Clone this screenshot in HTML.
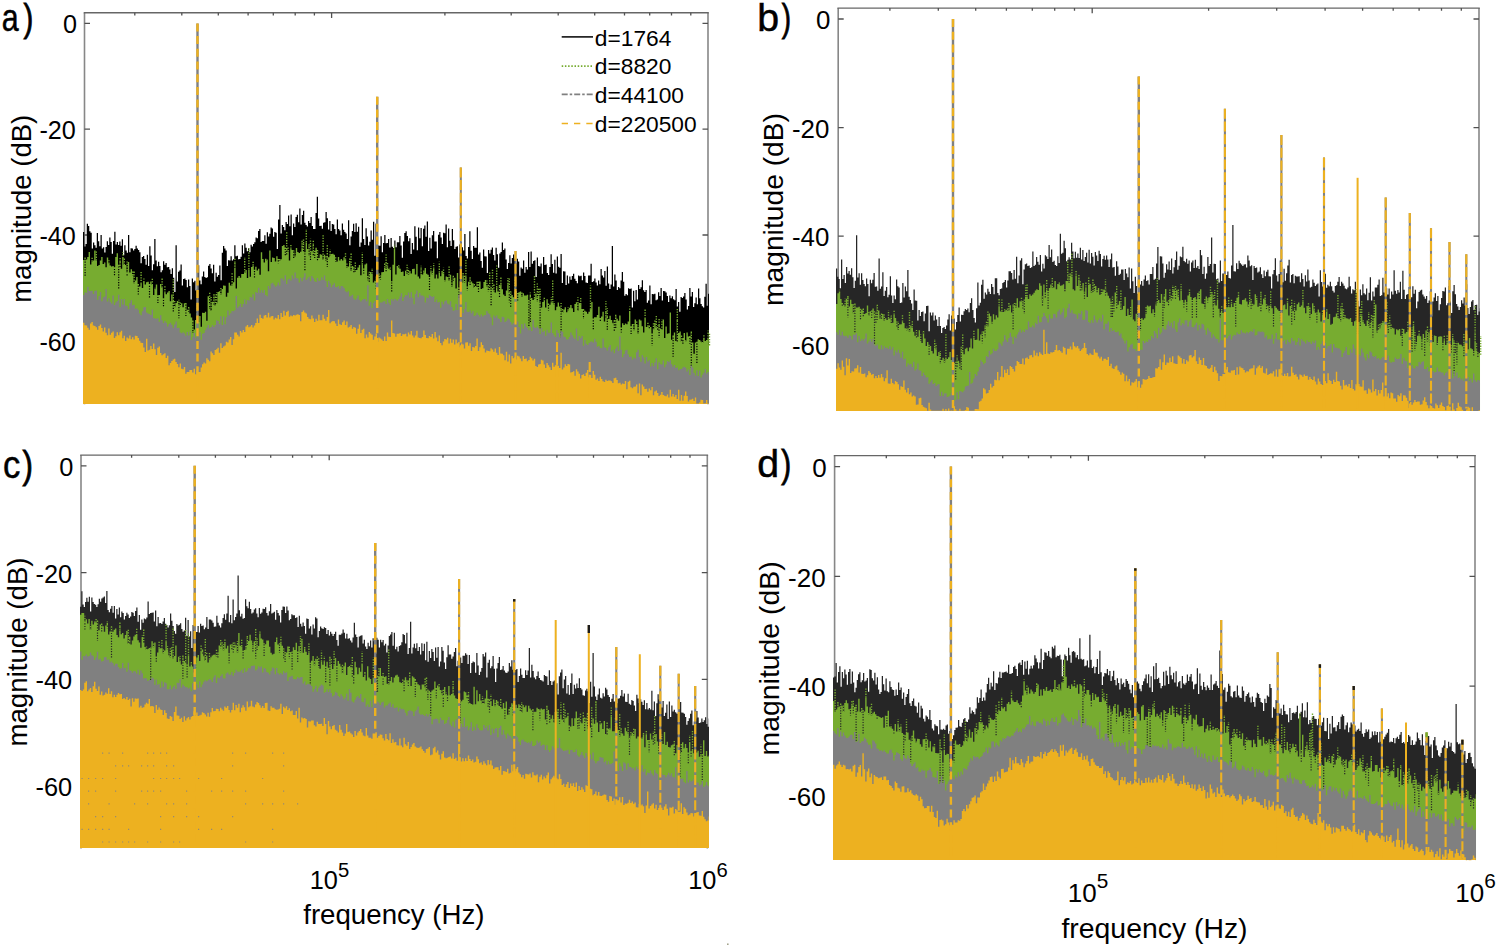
<!DOCTYPE html><html><head><meta charset="utf-8"><style>html,body{margin:0;padding:0;background:#fff;}body{width:1497px;height:948px;overflow:hidden;}svg{display:block;}text{font-family:"Liberation Sans",sans-serif;fill:#000;}</style></head><body>
<svg width="1497" height="948" viewBox="0 0 1497 948">
<rect width="1497" height="948" fill="#fff"/>
<path d="M84.5 404.3V12.8M708.0 12.8V404.3" fill="none" stroke="#878787" stroke-width="1.6"/><path d="M83.7 12.8H708.8" fill="none" stroke="#666" stroke-width="1.4"/><path d="M84.5 23.4h5.5M708.0 23.4h-5.5M84.5 129.2h5.5M708.0 129.2h-5.5M84.5 235.0h5.5M708.0 235.0h-5.5M84.5 340.8h5.5M708.0 340.8h-5.5M134.8 12.8v2.6M181.8 12.8v2.6M218.3 12.8v2.6M248.1 12.8v2.6M273.3 12.8v2.6M295.2 12.8v2.6M314.4 12.8v2.6M331.6 12.8v5.2M444.9 12.8v2.6M511.2 12.8v2.6M558.2 12.8v2.6M594.7 12.8v2.6M624.5 12.8v2.6M649.7 12.8v2.6M671.5 12.8v2.6M690.8 12.8v2.6" fill="none" stroke="#505050" stroke-width="1.3"/>
<path d="M838.2 410.6V8.1M1479.0 8.1V410.6" fill="none" stroke="#878787" stroke-width="1.6"/><path d="M837.4 8.1H1479.8" fill="none" stroke="#666" stroke-width="1.4"/><path d="M838.2 19.0h5.5M1479.0 19.0h-5.5M838.2 127.6h5.5M1479.0 127.6h-5.5M838.2 236.2h5.5M1479.0 236.2h-5.5M838.2 344.8h5.5M1479.0 344.8h-5.5M889.9 8.1v2.6M938.3 8.1v2.6M975.7 8.1v2.6M1006.4 8.1v2.6M1032.3 8.1v2.6M1054.7 8.1v2.6M1074.5 8.1v2.6M1092.2 8.1v5.2M1208.6 8.1v2.6M1276.7 8.1v2.6M1325.1 8.1v2.6M1362.6 8.1v2.6M1393.2 8.1v2.6M1419.1 8.1v2.6M1441.5 8.1v2.6M1461.3 8.1v2.6" fill="none" stroke="#505050" stroke-width="1.3"/>
<path d="M81.0 848.4V455.1M707.3 455.1V848.4" fill="none" stroke="#878787" stroke-width="1.6"/><path d="M80.2 455.1H708.1" fill="none" stroke="#666" stroke-width="1.4"/><path d="M81.0 465.8h5.5M707.3 465.8h-5.5M81.0 572.6h5.5M707.3 572.6h-5.5M81.0 679.4h5.5M707.3 679.4h-5.5M81.0 786.2h5.5M707.3 786.2h-5.5M131.6 455.1v2.6M178.8 455.1v2.6M215.4 455.1v2.6M245.4 455.1v2.6M270.7 455.1v2.6M292.6 455.1v2.6M311.9 455.1v2.6M329.2 455.1v5.2M443.0 455.1v2.6M509.6 455.1v2.6M556.9 455.1v2.6M593.5 455.1v2.6M623.4 455.1v2.6M648.7 455.1v2.6M670.7 455.1v2.6M690.0 455.1v2.6" fill="none" stroke="#505050" stroke-width="1.3"/>
<path d="M834.6 860.0V455.6M1475.0 455.6V860.0" fill="none" stroke="#878787" stroke-width="1.6"/><path d="M833.8 455.6H1475.8" fill="none" stroke="#666" stroke-width="1.4"/><path d="M834.6 466.6h5.5M1475.0 466.6h-5.5M834.6 576.4h5.5M1475.0 576.4h-5.5M834.6 686.2h5.5M1475.0 686.2h-5.5M834.6 796.0h5.5M1475.0 796.0h-5.5M886.3 455.6v2.6M934.6 455.6v2.6M972.1 455.6v2.6M1002.7 455.6v2.6M1028.5 455.6v2.6M1051.0 455.6v2.6M1070.7 455.6v2.6M1088.4 455.6v5.2M1204.8 455.6v2.6M1272.9 455.6v2.6M1321.2 455.6v2.6M1358.6 455.6v2.6M1389.2 455.6v2.6M1415.1 455.6v2.6M1437.5 455.6v2.6M1457.3 455.6v2.6" fill="none" stroke="#505050" stroke-width="1.3"/>
<path d="M83.0 404.0V231.9h1.25v14.6h1.25v-2.6h1.25v-20.1h1.25v2.2h1.25v5.3h1.25v1.5h1.25v15.8h1.25v-6.0h1.25v2.7h1.25v2.5h1.25v-14.9h1.25v8.3h1.25v5.1h1.25v-11.3h1.25v13.6h1.25v-1.3h1.25v5.3h1.25v-5.7h1.25v-5.6h1.25v3.7h1.25v-7.5h1.25v4.4h1.25v11.8h1.25v-12.7h1.25v-9.2h1.25v12.6h1.25v-2.5h1.25v3.2h1.25v-3.5h1.25v4.2h1.25v-6.5h1.25v16.0h1.25v-10.0h1.25v5.2h1.25v2.2h1.25v-17.7h1.25v17.3h1.25v-4.0h1.25v0.1h1.25v2.1h1.25v-1.5h1.25v-3.3h1.25v2.9h1.25v1.4h1.25v2.2h1.25v11.1h1.25v-6.4h1.25v-1.0h1.25v3.2h1.25v5.7h1.25v-10.0h1.25v11.2h1.25v-19.7h1.25v9.2h1.25v14.8h1.25v-6.1h1.25v-25.3h1.25v21.6h1.25v5.8h1.25v-4.6h1.25v4.2h1.25v6.4h1.25v-2.0h1.25v-9.1h1.25v3.6h1.25v-1.8h1.25v4.2h1.25v-0.3h1.25v2.6h1.25v4.5h1.25v-5.7h1.25v9.4h1.25v14.3h1.25v-46.7h1.25v36.1h1.25v-9.6h1.25v-1.3h1.25v-5.9h1.25v20.9h1.25v-6.5h1.25v-0.6h1.25v1.7h1.25v7.2h1.25v-7.7h1.25v6.3h1.25v13.6h1.25v-20.9h1.25v3.7h1.25v-1.5h1.25v9.7h1.25v-1.6h1.25v-23.6h1.25v15.2h1.25v3.7h1.25v-7.7h1.25v-5.1h1.25v5.7h1.25v0.8h1.25v-0.6h1.25v-11.5h1.25v-1.8h1.25v4.5h1.25v4.7h1.25v-8.4h1.25v16.6h1.25v-8.6h1.25v3.9h1.25v-1.8h1.25v-9.5h1.25v14.9h1.25v-27.5h1.25v-6.9h1.25v2.6h1.25v2.0h1.25v15.5h1.25v-5.7h1.25v0.1h1.25v-4.1h1.25v4.3h1.25v-1.4h1.25v-13.9h1.25v11.0h1.25v-0.6h1.25v3.5h1.25v-0.2h1.25v-2.3h1.25v-11.4h1.25v8.2h1.25v-10.0h1.25v4.2h1.25v3.5h1.25v-2.9h1.25v3.9h1.25v-7.4h1.25v1.6h1.25v-2.5h1.25v-1.6h1.25v-4.9h1.25v0.9h1.25v-7.4h1.25v-1.9h1.25v13.1h1.25v-1.2h1.25v0.1h1.25v-5.7h1.25v8.5h1.25v-11.6h1.25v4.4h1.25v-2.9h1.25v-6.1h1.25v0.9h1.25v8.2h1.25v-4.8h1.25v0.9h1.25v16.3h1.25v-29.6h1.25v-14.4h1.25v28.4h1.25v-8.5h1.25v2.0h1.25v3.2h1.25v-8.1h1.25v1.9h1.25v-8.5h1.25v10.7h1.25v-11.7h1.25v20.7h1.25v-11.6h1.25v3.3h1.25v-10.0h1.25v-2.1h1.25v7.5h1.25v-13.9h1.25v16.2h1.25v-9.5h1.25v-4.3h1.25v11.9h1.25v2.4h1.25v1.5h1.25v-5.5h1.25v2.0h1.25v-6.1h1.25v9.1h1.25v2.9h1.25v0h1.25v-16.1h1.25v-16.1h1.25v21.7h1.25v7.5h1.25v-0.2h1.25v3.0h1.25v-6.1h1.25v-0.4h1.25v-10.2h1.25v6.2h1.25v11.1h1.25v-8.4h1.25v10.0h1.25v-7.1h1.25v0.7h1.25v4.5h1.25v5.1h1.25v-14.7h1.25v9.6h1.25v1.5h1.25v4.6h1.25v-11.7h1.25v6.2h1.25v2.3h1.25v1.4h1.25v5.7h1.25v-18.9h1.25v25.1h1.25v-8.8h1.25v-5.4h1.25v-7.4h1.25v8.3h1.25v-8.8h1.25v8.5h1.25v-4.9h1.25v19.9h1.25v-4.1h1.25v-24.4h1.25v20.7h1.25v6.2h1.25v-16.9h1.25v8.4h1.25v9.0h1.25v-3.8h1.25v-11.4h1.25v9.3h1.25v-18.0h1.25v34.1h1.25v-32.3h1.25v6.9h1.25v15.0h1.25v0.4h1.25v-9.5h1.25v15.9h1.25v-9.2h1.25v-8.0h1.25v8.3h1.25v-0.3h1.25v-4.0h1.25v8.5h1.25v-9.6h1.25v8.8h1.25v1.2h1.25v-7.3h1.25v6.6h1.25v-4.9h1.25v-0.1h1.25v-6.2h1.25v9.5h1.25v12.2h1.25v-16.1h1.25v-8.5h1.25v-1.9h1.25v4.9h1.25v5.2h1.25v-3.0h1.25v15.8h1.25v-11.1h1.25v6.6h1.25v-23.3h1.25v10.5h1.25v13.4h1.25v-22.6h1.25v10.7h1.25v-10.3h1.25v18.3h1.25v-17.6h1.25v-3.3h1.25v11.3h1.25v-15.1h1.25v29.5h1.25v-13.3h1.25v10.6h1.25v-13.1h1.25v-4.3h1.25v10.4h1.25v0.2h1.25v16.7h1.25v-23.5h1.25v-2.7h1.25v5.5h1.25v6.4h1.25v-11.3h1.25v0.6h1.25v-8.9h1.25v22.8h1.25v-18.8h1.25v12.3h1.25v5.2h1.25v-16.9h1.25v11.2h1.25v8.8h1.25v-2.2h1.25v-0.6h1.25v11.2h1.25v-12.9h1.25v-2.5h1.25v5.2h1.25v3.4h1.25v-16.7h1.25v22.1h1.25v2.5h1.25v-11.4h1.25v-15.9h1.25v19.6h1.25v8.3h1.25v-13.1h1.25v1.8h1.25v0h1.25v-20.6h1.25v27.3h1.25v-2.0h1.25v8.6h1.25v6.6h1.25v-18.2h1.25v6.8h1.25v0.2h1.25v16.6h1.25v-23.1h1.25v3.4h1.25v-3.7h1.25v-2.3h1.25v7.5h1.25v5.7h1.25v-12.8h1.25v6.4h1.25v13.5h1.25v-14.1h1.25v-1.6h1.25v-9.6h1.25v7.5h1.25v-1.4h1.25v11.0h1.25v9.5h1.25v-6.1h1.25v-7.7h1.25v8.3h1.25v-5.5h1.25v-3.5h1.25v4.2h1.25v4.9h1.25v-4.8h1.25v2.6h1.25v14.3h1.25v-8.2h1.25v1.3h1.25v-8.2h1.25v12.2h1.25v-5.7h1.25v2.5h1.25v-17.5h1.25v14.8h1.25v-15.3h1.25v12.2h1.25v-2.7h1.25v-0.8h1.25v16.7h1.25v-19.4h1.25v8.5h1.25v0.3h1.25v-3.0h1.25v10.4h1.25v-16.8h1.25v8.1h1.25v-0.7h1.25v8.7h1.25v1.8h1.25v-7.8h1.25v-12.8h1.25v9.8h1.25v8.6h1.25v-12.9h1.25v13.6h1.25v-16.9h1.25v10.3h1.25v1.0h1.25v-13.9h1.25v29.2h1.25v-11.9h1.25v0.2h1.25v13.7h1.25v-9.7h1.25v8.0h1.25v-6.9h1.25v3.2h1.25v-3.7h1.25v-2.3h1.25v5.0h1.25v2.2h1.25v2.4h1.25v-7.7h1.25v0.6h1.25v-0.4h1.25v4.5h1.25v-7.7h1.25v3.4h1.25v6.5h1.25v0.5h1.25v-7.4h1.25v-0.2h1.25v-11.7h1.25v18.3h1.25v-0.7h1.25v-2.7h1.25v3.8h1.25v3.0h1.25v-5.0h1.25v3.8h1.25v-15.2h1.25v6.4h1.25v2.2h1.25v-6.7h1.25v14.9h1.25v-19.3h1.25v17.0h1.25v5.4h1.25v-4.3h1.25v-38.7h1.25v40.7h1.25v-12.1h1.25v6.0h1.25v9.4h1.25v-2.9h1.25v1.3h1.25v-7.7h1.25v-8.6h1.25v9.7h1.25v14.1h1.25v-1.8h1.25v1.2h1.25v-7.0h1.25v0.7h1.25v-0.4h1.25v18.9h1.25v-16.6h1.25v10.4h1.25v-11.3h1.25v9.7h1.25v-14.5h1.25v3.8h1.25v-1.6h1.25v-7.1h1.25v10.1h1.25v1.7h1.25v-2.1h1.25v12.8h1.25v-2.3h1.25v-15.0h1.25v18.9h1.25v-10.3h1.25v0.3h1.25v-0.6h1.25v6.5h1.25v-0.8h1.25v-7.2h1.25v3.7h1.25v-8.0h1.25v12.7h1.25v-9.5h1.25v0.1h1.25v1.3h1.25v3.5h1.25v5.9h1.25v-6.3h1.25v2.6h1.25v-1.9h1.25v3.0h1.25v1.0h1.25v-11.2h1.25v17.4h1.25v-4.6h1.25v9.9h1.25v-14.9h1.25v1.0h1.25v-1.5h1.25v-3.4h1.25v6.5h1.25v10.0h1.25v-3.6h1.25v-17.9h1.25v8.6h1.25v-4.7h1.25v15.1h1.25v-3.7h1.25v-5.7h1.25v6.7h1.25v-15.9h1.25v9.9h1.25v5.8h1.25v2.2h1.25v1.3h1.25v-10.9h1.25v-12.9h1.25v21.9h1.25v-11.9h1V404.0Z" fill="#000000"/>
<path d="M83.0 404.0V260.0h1.4v-2.5h1.4v2.0h1.4v-2.6h1.4v-4.8h1.4v12.3h1.4v-2.8h1.4v-1.2h1.4v-10.0h1.4v10.1h1.4v5.4h1.4v-1.0h1.4v-4.3h1.4v-3.7h1.4v7.2h1.4v-0.5h1.4v3.6h1.4v-9.8h1.4v6.2h1.4v1.9h1.4v0.9h1.4v-0.4h1.4v1.2h1.4v-10.1h1.4v-3.9h1.4v11.5h1.4v-3.1h1.4v7.2h1.4v-10.8h1.4v7.0h1.4v-0.1h1.4v7.7h1.4v-10.7h1.4v10.7h1.4v-3.3h1.4v5.9h1.4v8.0h1.4v-2.8h1.4v-3.5h1.4v7.1h1.4v2.4h1.4v-2.8h1.4v4.3h1.4v-5.8h1.4v2.4h1.4v-2.2h1.4v-0.5h1.4v2.3h1.4v-2.5h1.4v3.5h1.4v10.0h1.4v-5.3h1.4v-5.4h1.4v10.9h1.4v-0.4h1.4v-10.9h1.4v3.7h1.4v10.6h1.4v-5.5h1.4v1.4h1.4v-1.8h1.4v-1.3h1.4v10.2h1.4v-6.9h1.4v6.5h1.4v6.4h1.4v-4.3h1.4v-2.0h1.4v4.5h1.4v0.8h1.4v-3.1h1.4v4.0h1.4v-4.0h1.4v-0.2h1.4v6.8h1.4v-2.9h1.4v6.5h1.4v4.0h1.4v3.2h1.4v8.8h1.4v-9.3h1.4v-6.0h1.4v7.8h1.4v-4.8h1.4v9.7h1.4v-14.0h1.4v0.3h1.4v-1.4h1.4v9.0h1.4v-24.5h1.4v8.3h1.4v6.5h1.4v-9.3h1.4v-7.5h1.4v11.5h1.4v-2.4h1.4v-11.2h1.4v-0.9h1.4v3.3h1.4v-5.4h1.4v-3.6h1.4v0.2h1.4v11.0h1.4v-4.0h1.4v-9.9h1.4v2.6h1.4v-0.1h1.4v-3.0h1.4v-19.4h1.4v25.7h1.4v-10.9h1.4v-1.7h1.4v1.8h1.4v-3.7h1.4v-0.1h1.4v-0.9h1.4v-3.2h1.4v8.1h1.4v-8.6h1.4v7.3h1.4v-9.8h1.4v-1.1h1.4v3.9h1.4v-3.0h1.4v3.7h1.4v-1.6h1.4v5.9h1.4v-22.5h1.4v6.9h1.4v3.4h1.4v-3.7h1.4v2.2h1.4v10.2h1.4v-20.6h1.4v11.4h1.4v-4.4h1.4v0.3h1.4v3.7h1.4v-5.4h1.4v2.8h1.4v1.4h1.4v-1.1h1.4v-13.3h1.4v-0.9h1.4v2.4h1.4v1.8h1.4v2.1h1.4v9.0h1.4v-11.5h1.4v1.1h1.4v0.2h1.4v6.6h1.4v-8.8h1.4v3.9h1.4v1.2h1.4v-1.3h1.4v-11.0h1.4v2.9h1.4v8.5h1.4v-9.8h1.4v6.7h1.4v-4.9h1.4v8.2h1.4v-1.5h1.4v-5.9h1.4v5.7h1.4v-3.0h1.4v2.4h1.4v7.8h1.4v-3.7h1.4v0.6h1.4v5.3h1.4v-5.3h1.4v5.6h1.4v-3.2h1.4v0.1h1.4v-2.0h1.4v-1.3h1.4v-0.2h1.4v1.0h1.4v6.6h1.4v0.1h1.4v-4.5h1.4v3.5h1.4v-1.5h1.4v1.6h1.4v-3.4h1.4v2.8h1.4v7.6h1.4v-1.2h1.4v-3.8h1.4v8.2h1.4v-4.7h1.4v1.2h1.4v4.6h1.4v-1.8h1.4v-2.6h1.4v-2.4h1.4v10.2h1.4v-14.3h1.4v7.6h1.4v-4.1h1.4v-1.0h1.4v12.6h1.4v-4.3h1.4v0.1h1.4v2.0h1.4v8.7h1.4v-1.9h1.4v-4.2h1.4v-3.2h1.4v0.1h1.4v2.1h1.4v-3.3h1.4v-0.3h1.4v-4.0h1.4v-1.5h1.4v0.8h1.4v1.6h1.4v-1.3h1.4v13.8h1.4v-16.5h1.4v-16.6h1.4v26.2h1.4v-8.5h1.4v-0.7h1.4v3.6h1.4v3.1h1.4v-0.4h1.4v4.6h1.4v-5.3h1.4v3.2h1.4v0.5h1.4v-3.4h1.4v2.5h1.4v-4.5h1.4v-0.4h1.4v5.7h1.4v-10.4h1.4v12.5h1.4v2.0h1.4v-9.3h1.4v5.2h1.4v-2.1h1.4v-4.3h1.4v5.8h1.4v1.0h1.4v2.3h1.4v-5.1h1.4v2.3h1.4v-5.3h1.4v9.5h1.4v-4.1h1.4v4.2h1.4v-5.9h1.4v3.6h1.4v-3.8h1.4v1.0h1.4v7.8h1.4v-4.9h1.4v0.7h1.4v3.7h1.4v-6.0h1.4v11.6h1.4v-10.6h1.4v1.9h1.4v10.7h1.4v-15.4h1.4v14.4h1.4v-5.2h1.4v0.9h1.4v-10.2h1.4v9.6h1.4v-5.5h1.4v9.5h1.4v-4.7h1.4v-4.6h1.4v4.3h1.4v1.7h1.4v4.9h1.4v-2.1h1.4v-4.2h1.4v-0.1h1.4v-0.3h1.4v7.7h1.4v-0.9h1.4v-6.2h1.4v-1.9h1.4v6.5h1.4v-1.9h1.4v4.7h1.4v-2.4h1.4v2.2h1.4v2.0h1.4v1.2h1.4v-4.9h1.4v4.0h1.4v-5.0h1.4v-2.3h1.4v5.1h1.4v5.2h1.4v1.4h1.4v-5.5h1.4v-6.2h1.4v8.7h1.4v-1.7h1.4v3.8h1.4v2.3h1.4v-5.6h1.4v-0.6h1.4v1.8h1.4v-0.7h1.4v-0.8h1.4v5.3h1.4v-3.4h1.4v2.2h1.4v0.1h1.4v-0.8h1.4v5.2h1.4v-3.9h1.4v1.9h1.4v2.0h1.4v-1.6h1.4v-4.9h1.4v4.3h1.4v-2.3h1.4v7.4h1.4v4.5h1.4v-5.5h1.4v-4.1h1.4v9.8h1.4v-8.3h1.4v4.3h1.4v1.1h1.4v-1.8h1.4v-0.2h1.4v1.8h1.4v5.7h1.4v-3.4h1.4v-4.3h1.4v3.9h1.4v3.0h1.4v3.6h1.4v-3.6h1.4v-2.2h1.4v5.0h1.4v-1.7h1.4v-2.7h1.4v-2.9h1.4v3.3h1.4v3.7h1.4v-7.8h1.4v-1.8h1.4v8.7h1.4v-7.9h1.4v1.2h1.4v4.6h1.4v0.2h1.4v1.7h1.4v0.9h1.4v2.0h1.4v-2.0h1.4v-2.4h1.4v-7.4h1.4v16.7h1.4v-1.3h1.4v-0.1h1.4v-2.1h1.4v-8.4h1.4v11.4h1.4v-1.7h1.4v-4.6h1.4v9.8h1.4v-9.4h1.4v4.3h1.4v2.4h1.4v-3.2h1.4v4.3h1.4v3.8h1.4v-3.8h1.4v-5.3h1.4v4.0h1.4v2.1h1.4v-5.4h1.4v12.0h1.4v-4.1h1.4v1.8h1.4v-1.5h1.4v0.7h1.4v-2.7h1.4v-9.5h1.4v14.1h1.4v-2.3h1.4v6.3h1.4v-10.6h1.4v5.5h1.4v8.3h1.4v-13.8h1.4v0.8h1.4v5.9h1.4v6.2h1.4v-14.0h1.4v8.4h1.4v-0.5h1.4v-1.0h1.4v1.7h1.4v6.3h1.4v-3.9h1.4v-5.3h1.4v3.2h1.4v3.3h1.4v-5.5h1.4v3.3h1.4v1.6h1.4v-10.6h1.4v18.5h1.4v-11.4h1.4v7.2h1.4v-0.5h1.4v-20.9h1.4v27.3h1.4v-4.1h1.4v-3.1h1.4v8.5h1.4v-20.8h1.4v12.9h1.4v-1.5h1.4v10.1h1.4v-3.6h1.4v-5.1h1.4v8.2h1.4v-7.8h1.4v3.1h1.4v-0.4h1.4v-4.5h1.4v10.8h1.4v11.4h1.4v-11.3h1.4v-0.8h1.4v-2.5h1.4v0.9h1.4v1.5h1.4v1.5h1.4v-4.4h1.4v2.3h1.4v-0.9h1.4v-1.4h1.4v6.2h0.2V404.0Z" fill="#77AC30"/>
<path d="M92.1 261.6v-3.9M96.3 260.5v-10.2M104.7 263.7v-2.5M108.9 263.8v-3.6M120.1 261.8v-4.0M122.9 258.2v-6.0M124.3 265.1v-7.6M127.1 272.8v-11.4M132.7 275.3v-3.9M134.1 283.3v-12.4M141.1 283.7v-12.1M143.9 282.2v-3.6M152.3 285.2v-7.7M155.1 289.9v-3.0M162.1 287.7v-10.2M164.9 292.8v-7.8M173.3 301.0v-21.7M174.7 307.4v-6.8M178.9 305.6v-5.8M180.3 306.3v-4.7M197.1 314.2v-9.1M199.9 317.2v-2.4M209.7 304.5v-12.3M211.1 311.0v-14.1M215.3 305.7v-11.2M216.7 303.2v-10.9M220.9 294.4v-7.7M232.1 285.0v-12.0M234.9 262.7v-4.4M244.7 272.8v-15.7M248.9 269.3v-21.4M253.1 265.6v-4.4M267.1 260.9v-2.0M279.7 260.2v-2.1M286.7 249.2v-17.9M288.1 251.3v-4.8M290.9 248.8v-5.4M295.1 256.7v-3.1M303.5 243.4v-4.9M306.3 242.2v-13.1M310.5 252.1v-13.3M313.3 244.7v-4.6M323.1 259.9v-24.6M325.9 260.1v-4.4M327.3 257.0v-12.4M330.1 255.0v-5.4M335.7 261.0v-3.7M345.5 259.7v-7.0M346.9 267.3v-4.6M349.7 262.3v-4.3M351.1 270.5v-17.9M355.3 271.6v-9.0M362.3 260.6v-8.2M372.1 273.5v-5.4M377.7 272.9v-3.0M384.7 267.5v-5.0M386.1 266.0v-11.4M387.5 266.8v-5.1M394.5 247.8v-3.1M407.1 273.5v-8.7M408.5 274.0v-5.5M421.1 268.8v-3.0M423.9 271.9v-2.2M430.9 271.8v-5.9M432.3 274.0v-2.9M433.7 268.8v-5.7M439.3 272.5v-10.7M442.1 272.4v-2.3M443.5 273.3v-5.5M444.9 281.2v-2.1M449.1 280.7v-14.3M451.9 286.3v-5.8M460.3 282.1v-2.6M461.7 283.0v-2.5M464.5 282.3v-7.8M465.9 276.8v-16.8M474.3 288.0v-4.3M486.9 286.6v-6.0M489.7 289.3v-17.0M492.5 289.2v-19.5M493.9 291.1v-6.9M496.7 287.4v-21.8M499.5 286.4v-2.6M500.9 284.1v-7.2M507.9 284.0v-6.0M509.3 292.7v-15.2M514.9 291.5v-12.4M521.9 296.5v-4.4M530.3 295.9v-3.3M534.5 298.2v-22.6M537.3 297.6v-14.2M538.7 295.3v-7.7M540.1 302.7v-14.0M551.3 302.8v-5.7M552.7 302.6v-23.0M554.1 304.4v-2.9M561.1 309.3v-6.3M562.5 313.0v-5.1M568.1 310.6v-3.0M577.9 311.1v-13.8M580.7 304.4v-7.8M590.5 309.5v-24.0M605.9 312.4v-11.1M607.3 316.7v-8.5M612.9 324.0v-2.4M629.7 312.3v-5.9M633.9 330.4v-6.3M636.7 325.3v-4.1M638.1 333.6v-8.1M645.1 318.7v-10.4M647.9 326.6v-4.7M653.5 329.7v-6.6M654.9 324.4v-4.7M656.3 327.6v-11.6M657.7 331.0v-5.7M659.1 325.4v-7.9M661.9 330.3v-10.5M677.3 320.6v-12.6M681.5 342.1v-7.1M685.7 341.5v-2.2M687.1 333.7v-2.5M702.5 343.4v-3.0M703.9 339.1v-5.2M708.1 339.1v-8.7M709.5 345.4v-13.0" stroke="#77AC30" stroke-width="1.4" stroke-dasharray="1.3 1.3" fill="none"/>
<path d="M85.1 259.0v18.1M114.5 268.9v6.6M118.7 266.4v22.2M120.1 263.3v4.1M127.1 274.3v2.8M138.3 285.6v9.8M149.5 285.8v11.8M157.9 296.9v6.1M163.5 299.9v7.9M173.3 302.5v9.7M178.9 307.1v11.2M185.9 304.6v11.3M188.7 308.5v3.2M192.9 322.2v10.7M197.1 315.7v3.1M209.7 306.0v3.1M213.9 295.6v9.5M234.9 264.2v5.0M254.5 271.0v7.0M278.3 260.3v3.0M285.3 248.9v6.9M286.7 250.7v3.9M293.7 251.6v7.7M302.1 242.0v6.2M303.5 244.9v6.3M304.9 253.4v17.9M309.1 245.4v10.6M310.5 253.6v6.9M313.3 246.2v9.4M314.7 251.9v6.1M317.5 251.3v10.5M327.3 258.5v8.4M353.9 268.5v4.6M362.3 262.1v2.8M363.7 269.8v4.6M367.9 277.2v3.0M369.3 272.8v9.6M376.3 277.5v11.9M379.1 274.5v5.1M380.5 276.6v3.2M386.1 267.5v3.9M390.3 268.6v2.6M391.7 282.4v9.5M398.7 266.2v2.3M421.1 270.3v4.8M429.5 278.3v11.6M453.3 277.2v3.5M458.9 288.8v8.9M460.3 283.6v7.2M463.1 274.2v2.4M467.3 287.8v2.9M470.1 278.6v8.0M477.1 283.1v4.7M478.5 283.1v9.4M488.3 286.2v5.5M491.1 288.5v18.3M499.5 287.9v9.6M509.3 294.2v8.0M510.7 292.5v14.6M517.7 294.2v6.6M528.9 301.4v26.1M530.3 297.4v25.6M537.3 299.1v2.8M540.1 304.2v24.0M544.3 299.1v2.4M548.5 305.0v5.8M561.1 310.8v34.1M583.5 310.8v8.0M593.3 320.3v10.3M600.3 319.8v2.5M605.9 313.9v3.5M607.3 318.2v11.8M614.3 321.7v9.1M615.7 316.4v12.2M621.3 329.1v3.5M631.1 327.9v6.2M649.3 327.1v2.4M652.1 335.1v10.7M659.1 326.9v10.6M673.1 337.5v19.3M677.3 322.1v20.6M682.9 340.0v4.4M689.9 338.0v6.1M691.3 333.5v34.6M696.9 343.5v20.4" stroke="#000000" stroke-width="1.2" stroke-dasharray="1.2 1.4" fill="none"/>
<path d="M83.0 404.0V295.1h1.4v-2.7h1.4v0.3h1.4v-5.9h1.4v4.1h1.4v0.2h1.4v-0.3h1.4v3.3h1.4v-3.2h1.4v-0.4h1.4v9.2h1.4v-3.8h1.4v-3.9h1.4v9.3h1.4v-4.0h1.4v-0.7h1.4v-7.5h1.4v12.3h1.4v-3.2h1.4v3.5h1.4v1.9h1.4v-8.0h1.4v9.4h1.4v-2.4h1.4v-1.5h1.4v-6.3h1.4v12.5h1.4v-8.2h1.4v5.4h1.4v-5.5h1.4v6.6h1.4v0.5h1.4v3.2h1.4v-6.2h1.4v-2.9h1.4v5.0h1.4v-0.5h1.4v4.1h1.4v-0.6h1.4v1.6h1.4v3.6h1.4v1.8h1.4v-4.0h1.4v-4.0h1.4v-0.2h1.4v5.5h1.4v1.0h1.4v0.5h1.4v1.0h1.4v-5.4h1.4v8.4h1.4v0.6h1.4v0.2h1.4v-0.6h1.4v3.6h1.4v-6.6h1.4v5.1h1.4v2.7h1.4v-2.1h1.4v1.8h1.4v3.8h1.4v-2.5h1.4v-1.2h1.4v1.9h1.4v3.1h1.4v-3.2h1.4v-3.2h1.4v6.5h1.4v-0.2h1.4v4.9h1.4v0.7h1.4v-1.1h1.4v1.2h1.4v2.3h1.4v-3.6h1.4v3.4h1.4v-4.0h1.4v8.6h1.4v-3.0h1.4v-4.2h1.4v4.8h1.4v4.2h1.4v-2.7h1.4v-7.1h1.4v7.7h1.4v-6.0h1.4v-0.7h1.4v-2.9h1.4v-2.4h1.4v-2.9h1.4v3.6h1.4v-1.5h1.4v-1.7h1.4v1.8h1.4v-2.2h1.4v-4.7h1.4v0.7h1.4v3.2h1.4v-7.9h1.4v8.7h1.4v-8.4h1.4v7.7h1.4v-6.9h1.4v-6.7h1.4v4.7h1.4v-2.0h1.4v-2.4h1.4v0.3h1.4v-1.0h1.4v-14.2h1.4v11.7h1.4v-1.5h1.4v-2.4h1.4v3.2h1.4v-3.0h1.4v-4.4h1.4v4.7h1.4v-4.2h1.4v0.5h1.4v-3.6h1.4v0.6h1.4v-3.3h1.4v6.1h1.4v-8.3h1.4v0.9h1.4v-5.2h1.4v4.9h1.4v-2.5h1.4v2.5h1.4v-2.7h1.4v5.0h1.4v1.2h1.4v-10.3h1.4v2.8h1.4v-5.2h1.4v-0.7h1.4v1.9h1.4v2.0h1.4v-1.3h1.4v-3.0h1.4v3.0h1.4v-7.0h1.4v0.1h1.4v1.9h1.4v-5.1h1.4v8.6h1.4v-4.4h1.4v-0.8h1.4v1.9h1.4v-5.2h1.4v3.2h1.4v-6.1h1.4v5.5h1.4v0.6h1.4v3.9h1.4v-4.7h1.4v3.5h1.4v-3.9h1.4v-4.2h1.4v6.9h1.4v-1.7h1.4v-1.6h1.4v4.4h1.4v-5.3h1.4v2.1h1.4v3.3h1.4v0.6h1.4v-4.0h1.4v2.9h1.4v-0.4h1.4v-2.9h1.4v2.5h1.4v-4.6h1.4v5.6h1.4v6.0h1.4v-5.9h1.4v2.5h1.4v3.6h1.4v-2.2h1.4v-1.7h1.4v3.7h1.4v0.2h1.4v-1.2h1.4v2.7h1.4v-2.7h1.4v0.2h1.4v1.8h1.4v3.2h1.4v1.1h1.4v-1.1h1.4v5.3h1.4v-0.8h1.4v-0.9h1.4v3.6h1.4v1.6h1.4v-1.6h1.4v-2.9h1.4v4.5h1.4v1.5h1.4v-1.5h1.4v-0.9h1.4v-0.1h1.4v2.3h1.4v-16.1h1.4v20.6h1.4v-3.8h1.4v5.9h1.4v-4.9h1.4v-2.0h1.4v5.0h1.4v-1.6h1.4v2.1h1.4v-3.9h1.4v-0.2h1.4v-0.8h1.4v-0.3h1.4v2.8h1.4v-5.0h1.4v3.7h1.4v2.2h1.4v-6.0h1.4v1.7h1.4v-1.9h1.4v0.8h1.4v1.2h1.4v-1.7h1.4v-2.7h1.4v-3.1h1.4v7.6h1.4v-3.9h1.4v-2.0h1.4v0.5h1.4v-3.0h1.4v5.3h1.4v-5.5h1.4v5.4h1.4v6.6h1.4v-10.2h1.4v-3.5h1.4v6.6h1.4v-4.2h1.4v2.6h1.4v-0.1h1.4v0.9h1.4v6.2h1.4v-5.0h1.4v0.3h1.4v-3.1h1.4v1.3h1.4v0.8h1.4v-0.7h1.4v5.8h1.4v-2.4h1.4v2.8h1.4v-0.5h1.4v5.8h1.4v-6.0h1.4v2.5h1.4v-2.9h1.4v-1.1h1.4v3.3h1.4v1.1h1.4v-3.4h1.4v5.9h1.4v3.6h1.4v-0.4h1.4v-6.3h1.4v6.0h1.4v-15.3h1.4v9.2h1.4v1.6h1.4v7.5h1.4v-4.0h1.4v-7.0h1.4v9.7h1.4v0.3h1.4v-1.4h1.4v2.6h1.4v-2.0h1.4v4.9h1.4v-0.9h1.4v-2.4h1.4v2.1h1.4v1.9h1.4v-2.4h1.4v2.2h1.4v-1.4h1.4v-0.2h1.4v-4.0h1.4v2.2h1.4v1.0h1.4v3.4h1.4v7.6h1.4v-9.6h1.4v1.8h1.4v-2.0h1.4v2.9h1.4v0.8h1.4v3.0h1.4v-5.4h1.4v0.5h1.4v4.8h1.4v-1.2h1.4v-2.3h1.4v0.9h1.4v2.7h1.4v2.5h1.4v-1.5h1.4v-1.5h1.4v3.3h1.4v-3.4h1.4v5.5h1.4v6.4h1.4v-9.5h1.4v4.9h1.4v-5.4h1.4v3.2h1.4v1.5h1.4v2.1h1.4v-3.1h1.4v4.0h1.4v-11.3h1.4v7.4h1.4v0.8h1.4v-1.6h1.4v1.8h1.4v5.8h1.4v-6.1h1.4v4.2h1.4v-1.3h1.4v4.9h1.4v-6.0h1.4v3.0h1.4v0h1.4v-10.3h1.4v10.6h1.4v2.2h1.4v1.8h1.4v-6.9h1.4v2.8h1.4v4.4h1.4v-6.3h1.4v1.0h1.4v4.6h1.4v0.6h1.4v2.2h1.4v-0.2h1.4v-2.2h1.4v-4.5h1.4v2.8h1.4v2.2h1.4v1.4h1.4v-10.3h1.4v12.2h1.4v-4.9h1.4v2.2h1.4v-2.1h1.4v9.7h1.4v-5.7h1.4v3.7h1.4v1.3h1.4v-2.1h1.4v-1.1h1.4v-0.4h1.4v1.1h1.4v-3.7h1.4v3.0h1.4v5.0h1.4v-0.9h1.4v2.0h1.4v0.4h1.4v-9.7h1.4v8.7h1.4v0.7h1.4v2.5h1.4v-3.2h1.4v-2.3h1.4v6.6h1.4v-1.8h1.4v3.4h1.4v-4.4h1.4v-2.4h1.4v4.5h1.4v-14.5h1.4v13.3h1.4v7.5h1.4v-3.1h1.4v-3.6h1.4v-0.7h1.4v4.7h1.4v2.4h1.4v-0.4h1.4v3.0h1.4v-1.9h1.4v0.9h1.4v-6.2h1.4v-2.6h1.4v7.4h1.4v4.6h1.4v-6.5h1.4v2.2h1.4v6.2h1.4v-6.5h1.4v4.3h1.4v-1.2h1.4v6.4h1.4v-3.5h1.4v2.9h1.4v-3.4h1.4v-4.3h1.4v10.9h1.4v-7.0h1.4v2.1h1.4v0.1h1.4v-4.0h1.4v6.8h1.4v-2.7h1.4v-3.5h1.4v1.1h1.4v-1.9h1.4v4.1h1.4v2.5h1.4v-1.8h1.4v2.9h1.4v-0.5h1.4v2.8h1.4v-1.1h1.4v-0.1h1.4v-1.5h1.4v-0.8h1.4v1.0h1.4v3.9h1.4v-2.2h1.4v5.7h1.4v-9.5h1.4v2.0h1.4v5.3h1.4v2.5h1.4v-5.1h1.4v5.6h1.4v-5.3h1.4v6.8h1.4v-2.7h1.4v-1.9h1.4v-3.8h1.4v4.6h1.4v-1.6h1.4v3.3h0.2V404.0Z" fill="#808080"/>
<path d="M197.5 23.4V402.3M377.2 96.7V402.3" stroke="#808080" stroke-width="2.4" fill="none"/>
<path d="M460.8 167.4V402.3M515.5 251.0V402.3M557.0 342.0V402.3M589.7 362.0V402.3" stroke="#808080" stroke-width="2.1" fill="none"/>
<path d="M83.0 404.0V322.8h1.4v2.5h1.4v0.1h1.4v2.3h1.4v2.1h1.4v-6.2h1.4v-1.5h1.4v3.4h1.4v0.5h1.4v1.2h1.4v2.5h1.4v-3.7h1.4v-1.5h1.4v3.5h1.4v3.5h1.4v-3.9h1.4v5.1h1.4v2.6h1.4v-6.9h1.4v6.4h1.4v-2.0h1.4v-1.3h1.4v6.4h1.4v-1.7h1.4v-3.9h1.4v3.0h1.4v-3.0h1.4v-1.5h1.4v7.4h1.4v-2.4h1.4v5.3h1.4v-3.6h1.4v0.9h1.4v-3.0h1.4v3.9h1.4v-2.1h1.4v2.2h1.4v-3.7h1.4v0.4h1.4v1.9h1.4v2.7h1.4v2.1h1.4v0.3h1.4v4.5h1.4v4.4h1.4v-13.2h1.4v11.7h1.4v-0.8h1.4v-3.6h1.4v2.8h1.4v-5.3h1.4v5.6h1.4v5.8h1.4v-7.2h1.4v-1.3h1.4v6.4h1.4v2.3h1.4v-1.0h1.4v-0.9h1.4v4.8h1.4v-2.4h1.4v9.6h1.4v-2.2h1.4v-2.1h1.4v-1.5h1.4v-0.8h1.4v3.2h1.4v2.2h1.4v3.2h1.4v-3.8h1.4v5.2h1.4v0.6h1.4v-2.3h1.4v6.8h1.4v-1.8h1.4v0h1.4v-2.1h1.4v0h1.4v2.6h1.4v-3.8h1.4v5.6h1.4v-3.8h1.4v1.5h1.4v0h1.4v-4.6h1.4v-3.1h1.4v-1.9h1.4v1.0h1.4v-5.1h1.4v1.5h1.4v1.4h1.4v-9.6h1.4v1.6h1.4v1.8h1.4v-4.9h1.4v-0.8h1.4v-1.5h1.4v4.9h1.4v-9.5h1.4v4.7h1.4v-1.5h1.4v-0.9h1.4v-3.8h1.4v0.9h1.4v-3.2h1.4v-2.5h1.4v8.2h1.4v-5.8h1.4v-6.9h1.4v0.1h1.4v2.2h1.4v1.8h1.4v-5.6h1.4v1.5h1.4v-2.4h1.4v2.0h1.4v-5.6h1.4v-1.4h1.4v2.2h1.4v-0.8h1.4v-1.4h1.4v2.6h1.4v-2.2h1.4v-2.4h1.4v-4.4h1.4v4.5h1.4v-8.4h1.4v3.2h1.4v0.8h1.4v-3.2h1.4v-0.5h1.4v2.4h1.4v-4.7h1.4v4.7h1.4v-1.2h1.4v-0.3h1.4v3.6h1.4v-1.8h1.4v0.8h1.4v-3.6h1.4v4.4h1.4v-6.2h1.4v4.0h1.4v-6.4h1.4v4.8h1.4v-3.5h1.4v-1.2h1.4v6.0h1.4v-1.4h1.4v0.9h1.4v-1.3h1.4v0.6h1.4v-0.9h1.4v-0.4h1.4v0.8h1.4v6.1h1.4v-9.3h1.4v-1.3h1.4v1.9h1.4v0.9h1.4v3.6h1.4v1.8h1.4v0.4h1.4v-3.6h1.4v2.9h1.4v3.4h1.4v-3.2h1.4v2.1h1.4v-6.1h1.4v5.5h1.4v0h1.4v-5.5h1.4v4.0h1.4v2.1h1.4v-3.8h1.4v-7.1h1.4v13.3h1.4v-1.4h1.4v-0.7h1.4v0.2h1.4v2.1h1.4v2.6h1.4v-6.5h1.4v4.8h1.4v0.6h1.4v-2.7h1.4v-1.6h1.4v4.5h1.4v-3.5h1.4v5.9h1.4v-0.8h1.4v-1.7h1.4v3.7h1.4v-1.8h1.4v0.9h1.4v5.9h1.4v-4.9h1.4v-4.4h1.4v8.6h1.4v-3.2h1.4v-1.1h1.4v9.6h1.4v-3.9h1.4v3.2h1.4v-5.6h1.4v1.6h1.4v1.2h1.4v5.0h1.4v-3.3h1.4v-2.9h1.4v8.1h1.4v-4.3h1.4v1.0h1.4v1.2h1.4v1.3h1.4v-4.3h1.4v4.4h1.4v-8.5h1.4v4.2h1.4v0.2h1.4v-16.4h1.4v12.4h1.4v0.6h1.4v3.3h1.4v-3.0h1.4v0h1.4v-0.9h1.4v3.0h1.4v-1.6h1.4v-0.1h1.4v-0.4h1.4v2.6h1.4v-3.9h1.4v1.9h1.4v-3.4h1.4v4.6h1.4v1.8h1.4v-1.9h1.4v-4.7h1.4v6.6h1.4v0.6h1.4v0.2h1.4v-1.1h1.4v-6.6h1.4v4.4h1.4v3.0h1.4v0.4h1.4v-2.2h1.4v1.0h1.4v-3.1h1.4v4.6h1.4v-6.6h1.4v5.6h1.4v3.7h1.4v-5.7h1.4v7.3h1.4v2.3h1.4v-3.7h1.4v-2.6h1.4v0.5h1.4v-1.7h1.4v5.8h1.4v-4.8h1.4v4.0h1.4v-3.2h1.4v4.9h1.4v-5.0h1.4v3.9h1.4v-1.3h1.4v5.2h1.4v-3.6h1.4v1.0h1.4v3.9h1.4v-6.1h1.4v-0.1h1.4v3.5h1.4v-2.5h1.4v7.8h1.4v-4.1h1.4v0.5h1.4v-1.4h1.4v-7.7h1.4v12.6h1.4v-3.7h1.4v-5.1h1.4v2.9h1.4v3.4h1.4v4.0h1.4v-2.1h1.4v0.5h1.4v0.4h1.4v-3.0h1.4v1.1h1.4v2.4h1.4v-3.3h1.4v4.3h1.4v2.2h1.4v-8.0h1.4v6.5h1.4v0.3h1.4v1.4h1.4v5.0h1.4v-8.5h1.4v9.7h1.4v-6.8h1.4v9.0h1.4v-7.7h1.4v2.4h1.4v-1.0h1.4v2.1h1.4v-3.6h1.4v0.7h1.4v2.1h1.4v2.6h1.4v-5.2h1.4v3.0h1.4v-0.6h1.4v2.8h1.4v-1.1h1.4v-3.4h1.4v1.6h1.4v2.1h1.4v-1.6h1.4v7.1h1.4v1.0h1.4v-2.4h1.4v-0.4h1.4v-4.3h1.4v0.6h1.4v4.2h1.4v3.3h1.4v-4.8h1.4v2.2h1.4v2.0h1.4v2.8h1.4v-7.4h1.4v4.0h1.4v-1.4h1.4v-3.3h1.4v3.7h1.4v2.2h1.4v-15.1h1.4v16.8h1.4v-2.1h1.4v-3.3h1.4v1.7h1.4v-2.0h1.4v0.7h1.4v7.8h1.4v-0.4h1.4v-0.8h1.4v4.5h1.4v-6.4h1.4v2.3h1.4v2.2h1.4v4.8h1.4v-3.5h1.4v-0.8h1.4v1.6h1.4v-3.1h1.4v-2.7h1.4v7.2h1.4v-2.2h1.4v2.8h1.4v-6.9h1.4v3.7h1.4v5.0h1.4v-1.2h1.4v2.4h1.4v-4.2h1.4v2.4h1.4v2.1h1.4v0.9h1.4v-2.3h1.4v1.3h1.4v-0.7h1.4v0.2h1.4v0.6h1.4v1.8h1.4v-4.7h1.4v-0.5h1.4v2.1h1.4v3.3h1.4v-0.4h1.4v1.6h1.4v-0.9h1.4v0.6h1.4v-3.1h1.4v8.2h1.4v-7.4h1.4v-1.1h1.4v6.6h1.4v1.0h1.4v-1.6h1.4v-0.3h1.4v-1.9h1.4v8.8h1.4v-9.7h1.4v11.7h1.4v-10.7h1.4v1.9h1.4v2.5h1.4v-0.2h1.4v3.0h1.4v-3.4h1.4v1.8h1.4v-3.1h1.4v8.1h1.4v-3.8h1.4v-0.9h1.4v2.6h1.4v2.9h1.4v-1.2h1.4v-2.7h1.4v2.8h1.4v0.8h1.4v0.5h1.4v-1.8h1.4v3.0h1.4v-7.6h1.4v6.6h1.4v-2.4h1.4v2.7h1.4v-1.6h1.4v3.8h1.4v-9.2h1.4v11.1h1.4v-5.7h1.4v5.7h1.4v-5.0h1.4v-4.3h1.4v4.4h1.4v5.5h1.4v-1.6h1.4v-0.4h1.4v-0.7h1.4v2.3h1.4v-3.5h1.4v5.9h1.4v0h1.4v-1.0h1.4v-2.6h1.4v0.1h1.4v3.6h1.4v-0.2h1.4v-3.3h1.4v3.5h1.4v0h0.2V404.0Z" fill="#EDB120"/>
<path d="M197.5 23.4V402.3M377.2 96.7V402.3" stroke="#EDB120" stroke-width="2.4" stroke-dasharray="8 4.7" fill="none"/>
<path d="M460.8 167.4V402.3M515.5 251.0V402.3M557.0 342.0V402.3M589.7 362.0V402.3" stroke="#EDB120" stroke-width="2.1" stroke-dasharray="10 2.7" fill="none"/>
<text x="76.9" y="33.3" font-size="25.20" text-anchor="end">0</text><text x="75.8" y="139.1" font-size="25.20" text-anchor="end">-20</text><text x="75.8" y="244.9" font-size="25.20" text-anchor="end">-40</text><text x="75.8" y="350.7" font-size="25.20" text-anchor="end">-60</text>
<text transform="translate(30.8 208.8) rotate(-90)" x="0" y="0" font-size="27.50" text-anchor="middle">magnitude (dB)</text>
<text transform="translate(1.7 31.0) scale(0.79 1)" font-size="38.5" stroke="#000" stroke-width="0.5">a</text><text transform="translate(23.4 31.0) scale(0.76 1)" font-size="38.5" stroke="#000" stroke-width="0.9">)</text>
<path d="M836.0 411.0V268.4h1.25v8.3h1.25v2.4h1.25v9.2h1.25v-28.8h1.25v19.5h1.25v-4.0h1.25v7.9h1.25v-15.9h1.25v6.4h1.25v-2.4h1.25v3.8h1.25v-6.6h1.25v9.1h1.25v10.7h1.25v-7.2h1.25v-45.5h1.25v42.2h1.25v-4.3h1.25v11.6h1.25v-11.5h1.25v6.6h1.25v4.0h1.25v2.4h1.25v-7.9h1.25v5.7h1.25v12.1h1.25v-16.4h1.25v3.4h1.25v-3.5h1.25v-6.8h1.25v13.8h1.25v-0.1h1.25v4.1h1.25v-32.1h1.25v30.2h1.25v-2.2h1.25v-14.4h1.25v23.7h1.25v-5.2h1.25v-3.6h1.25v10.2h1.25v-2.6h1.25v-18.5h1.25v19.2h1.25v7.5h1.25v-7.3h1.25v3.7h1.25v-19.9h1.25v6.9h1.25v1.3h1.25v15.3h1.25v-0.3h1.25v-19.7h1.25v14.6h1.25v-11.0h1.25v4.7h1.25v-21.3h1.25v26.9h1.25v3.1h1.25v3.7h1.25v6.4h1.25v-20.4h1.25v11.0h1.25v0.2h1.25v19.8h1.25v-10.6h1.25v6.0h1.25v-4.0h1.25v-0.4h1.25v9.6h1.25v-7.7h1.25v-7.4h1.25v-0.4h1.25v25.6h1.25v-18.8h1.25v3.0h1.25v-2.9h1.25v8.0h1.25v-5.2h1.25v4.1h1.25v6.6h1.25v-9.1h1.25v9.0h1.25v7.0h1.25v-5.0h1.25v-1.1h1.25v2.0h1.25v-3.3h1.25v-6.2h1.25v-5.2h1.25v16.3h1.25v-15.0h1.25v1.8h1.25v1.3h1.25v10.9h1.25v-7.6h1.25v-6.8h1.25v-7.7h1.25v14.2h1.25v-6.8h1.25v0.3h1.25v-3.8h1.25v-2.2h1.25v1.0h1.25v-1.6h1.25v3.7h1.25v-9.3h1.25v-4.6h1.25v11.8h1.25v8.0h1.25v4.5h1.25v-14.3h1.25v-25.9h1.25v23.2h1.25v-2.9h1.25v-17.9h1.25v-5.1h1.25v19.1h1.25v-6.2h1.25v2.0h1.25v-5.9h1.25v3.1h1.25v2.1h1.25v-9.8h1.25v3.0h1.25v7.2h1.25v-16.0h1.25v-0.1h1.25v14.8h1.25v2.2h1.25v-6.1h1.25v-0.7h1.25v-5.3h1.25v-1.0h1.25v-2.1h1.25v7.4h1.25v-7.0h1.25v-9.2h1.25v0h1.25v1.7h1.25v6.6h1.25v-9.4h1.25v8.7h1.25v-22.1h1.25v26.6h1.25v-7.8h1.25v-15.0h1.25v-2.3h1.25v26.1h1.25v-14.9h1.25v-5.1h1.25v-0.9h1.25v2.7h1.25v-0.5h1.25v2.4h1.25v-0.8h1.25v-15.8h1.25v14.6h1.25v-1.2h1.25v-7.8h1.25v4.7h1.25v3.1h1.25v-9.9h1.25v16.6h1.25v-7.8h1.25v4.7h1.25v-13.1h1.25v1.3h1.25v2.3h1.25v-14.0h1.25v12.4h1.25v-7.7h1.25v12.3h1.25v-1.2h1.25v4.4h1.25v1.0h1.25v-9.8h1.25v6.8h1.25v-29.4h1.25v20.0h1.25v-1.0h1.25v-12.0h1.25v7.5h1.25v13.0h1.25v-1.4h1.25v-2.5h1.25v2.2h1.25v-16.7h1.25v8.6h1.25v6.9h1.25v-6.5h1.25v5.9h1.25v-4.2h1.25v4.6h1.25v-10.4h1.25v11.7h1.25v-9.3h1.25v10.8h1.25v-3.9h1.25v-4.3h1.25v9.9h1.25v-12.9h1.25v13.9h1.25v-10.6h1.25v3.8h1.25v8.6h1.25v-13.5h1.25v3.5h1.25v5.7h1.25v-10.3h1.25v3.1h1.25v12.6h1.25v-7.4h1.25v-3.4h1.25v4.1h1.25v-4.4h1.25v4.2h1.25v7.4h1.25v-7.7h1.25v-5.7h1.25v13.8h1.25v-0.3h1.25v8.7h1.25v-14.5h1.25v5.2h1.25v8.4h1.25v-1.2h1.25v-4.1h1.25v-0.1h1.25v10.4h1.25v-10.9h1.25v4.6h1.25v3.7h1.25v-9.8h1.25v20.9h1.25v-19.8h1.25v12.7h1.25v11.7h1.25v-16.3h1.25v9.3h1.25v7.7h1.25v-12.3h1.25v3.1h1.25v-3.4h1.25v4.7h1.25v-6.4h1.25v-3.8h1.25v5.4h1.25v-0.7h1.25v4.1h1.25v-10.5h1.25v0.1h1.25v-7.0h1.25v12.7h1.25v-0.9h1.25v-15.4h1.25v-16.3h1.25v32.6h1.25v-23.5h1.25v0.4h1.25v6.8h1.25v14.3h1.25v-5.0h1.25v-8.5h1.25v5.3h1.25v-7.9h1.25v8.5h1.25v-11.5h1.25v15.0h1.25v-6.3h1.25v-7.2h1.25v-8.6h1.25v18.2h1.25v-4.0h1.25v-9.1h1.25v0.6h1.25v-10.4h1.25v14.2h1.25v1.2h1.25v-3.4h1.25v4.9h1.25v-3.2h1.25v10.9h1.25v-8.8h1.25v-2.0h1.25v7.3h1.25v-8.2h1.25v8.0h1.25v-1.6h1.25v3.0h1.25v-19.1h1.25v5.3h1.25v18.6h1.25v-7.2h1.25v12.1h1.25v-5.3h1.25v-16.4h1.25v8.8h1.25v-1.8h1.25v-26.7h1.25v35.2h1.25v-8.8h1.25v0.2h1.25v15.3h1.25v-0.8h1.25v3.9h1.25v-21.9h1.25v20.6h1.25v-7.5h1.25v-0.1h1.25v8.1h1.25v-6.7h1.25v-3.5h1.25v6.6h1.25v0.5h1.25v-13.0h1.25v-40.5h1.25v46.3h1.25v0.3h1.25v-8.4h1.25v5.8h1.25v-8.3h1.25v2.6h1.25v1.2h1.25v1.6h1.25v-1.5h1.25v-0.3h1.25v3.3h1.25v-12.1h1.25v5.1h1.25v5.7h1.25v-1.1h1.25v14.8h1.25v-13.9h1.25v1.9h1.25v-0.5h1.25v5.1h1.25v-1.0h1.25v-4.4h1.25v7.1h1.25v3.8h1.25v-7.5h1.25v5.7h1.25v-4.5h1.25v-2.1h1.25v6.6h1.25v0.1h1.25v12.1h1.25v-14.3h1.25v-4.1h1.25v-11.8h1.25v17.1h1.25v6.2h1.25v-7.7h1.25v-13.4h1.25v6.5h1.25v15.2h1.25v-13.4h1.25v12.0h1.25v-7.6h1.25v-7.6h1.25v-5.8h1.25v22.6h1.25v-7.4h1.25v-0.9h1.25v9.2h1.25v-7.5h1.25v0.7h1.25v0h1.25v-0.3h1.25v6.0h1.25v-8.9h1.25v5.6h1.25v7.6h1.25v-11.3h1.25v6.4h1.25v-12.2h1.25v11.1h1.25v6.9h1.25v-0.6h1.25v-7.2h1.25v3.2h1.25v3.2h1.25v-1.5h1.25v-1.1h1.25v13.1h1.25v-26.3h1.25v11.9h1.25v4.5h1.25v-1.5h1.25v-11.3h1.25v13.9h1.25v-3.0h1.25v1.5h1.25v-4.4h1.25v4.4h1.25v4.6h1.25v1.6h1.25v-6.3h1.25v-0.9h1.25v-3.5h1.25v-4.8h1.25v9.0h1.25v-4.2h1.25v1.8h1.25v2.3h1.25v2.7h1.25v0.7h1.25v-1.6h1.25v-10.9h1.25v9.6h1.25v7.3h1.25v-4.3h1.25v0.9h1.25v-8.4h1.25v11.2h1.25v7.8h1.25v5.6h1.25v-16.8h1.25v5.7h1.25v-11.1h1.25v9.0h1.25v1.2h1.25v-5.8h1.25v11.6h1.25v-7.5h1.25v-15.4h1.25v23.1h1.25v-8.9h1.25v4.9h1.25v-8.8h1.25v-0.2h1.25v-2.6h1.25v-5.2h1.25v16.4h1.25v-0.8h1.25v-17.4h1.25v14.6h1.25v0.3h1.25v-4.4h1.25v6.3h1.25v-6.1h1.25v10.3h1.25v-7.2h1.25v2.8h1.25v-24.1h1.25v20.5h1.25v2.9h1.25v-3.7h1.25v2.5h1.25v-10.8h1.25v17.2h1.25v-28.1h1.25v19.0h1.25v9.1h1.25v-4.2h1.25v-0.6h1.25v-7.1h1.25v-3.5h1.25v13.7h1.25v-11.0h1.25v7.5h1.25v-3.9h1.25v18.4h1.25v-6.7h1.25v-9.6h1.25v-1.4h1.25v-0.8h1.25v4.9h1.25v1.8h1.25v2.4h1.25v-2.8h1.25v6.9h1.25v-2.3h1.25v-9.3h1.25v25.1h1.25v-14.9h1.25v-4.1h1.25v-4.2h1.25v7.8h1.25v-5.1h1.25v14.4h1.25v-6.0h1.25v-6.3h1.25v-7.0h1.25v0.6h1.25v-4.2h1.25v17.8h1.25v-1.9h1.25v-17.4h1.25v15.6h1.25v11.4h1.25v-21.6h1.25v-6.2h1.25v9.1h1.25v9.8h1.25v2.5h1.25v3.5h1.25v-3.0h1.25v-6.8h1.25v3.3h1.25v-6.1h1.25v8.3h1.25v-21.4h1.25v23.8h1.25v5.8h1.25v-6.8h1.25v-5.6h1.25v-1.6h1.25v10.2h1.25v-5.2h1.25v-0.1h1.25v10.3h1.25v-3.5h1.25v-3.3h0.25V411.0Z" fill="#262626"/>
<path d="M836.0 411.0V303.9h1.4v-10.7h1.4v-0.4h1.4v6.1h1.4v4.2h1.4v1.6h1.4v2.2h1.4v-8.1h1.4v-1.4h1.4v9.0h1.4v-6.6h1.4v4.3h1.4v9.1h1.4v-9.6h1.4v3.8h1.4v0h1.4v-0.6h1.4v2.0h1.4v1.0h1.4v-1.3h1.4v5.5h1.4v-0.9h1.4v-7.5h1.4v10.5h1.4v-4.9h1.4v-0.8h1.4v-2.0h1.4v6.8h1.4v-2.8h1.4v-7.7h1.4v5.7h1.4v8.6h1.4v-5.4h1.4v0.3h1.4v6.9h1.4v-2.6h1.4v1.9h1.4v-1.5h1.4v0h1.4v-3.2h1.4v7.4h1.4v-7.7h1.4v2.8h1.4v3.6h1.4v8.2h1.4v-5.3h1.4v-0.2h1.4v-2.1h1.4v0.9h1.4v5.2h1.4v2.0h1.4v-2.0h1.4v3.6h1.4v-6.3h1.4v2.4h1.4v3.8h1.4v4.0h1.4v-5.8h1.4v6.8h1.4v-6.5h1.4v10.5h1.4v2.4h1.4v-12.0h1.4v7.4h1.4v7.4h1.4v-4.0h1.4v2.8h1.4v1.2h1.4v5.1h1.4v2.6h1.4v-6.2h1.4v1.9h1.4v6.6h1.4v-4.0h1.4v2.9h1.4v5.2h1.4v-2.3h1.4v4.7h1.4v-3.1h1.4v-0.2h1.4v-1.8h1.4v-5.3h1.4v8.1h1.4v-6.4h1.4v9.3h1.4v-1.3h1.4v-2.4h1.4v1.5h1.4v2.8h1.4v-16.8h1.4v5.1h1.4v2.4h1.4v-5.6h1.4v-0.9h1.4v3.5h1.4v-3.7h1.4v-9.0h1.4v10.0h1.4v-10.8h1.4v2.3h1.4v-0.4h1.4v-10.9h1.4v11.7h1.4v-6.0h1.4v-3.0h1.4v-0.2h1.4v-5.9h1.4v0.6h1.4v0.3h1.4v-12.7h1.4v2.7h1.4v7.3h1.4v-9.3h1.4v5.1h1.4v-4.2h1.4v2.3h1.4v-11.3h1.4v5.3h1.4v0.1h1.4v0.4h1.4v-0.8h1.4v-1.3h1.4v0.5h1.4v-0.2h1.4v-4.9h1.4v7.3h1.4v-6.4h1.4v-3.2h1.4v4.4h1.4v-9.2h1.4v9.4h1.4v-6.4h1.4v0.8h1.4v-0.9h1.4v-1.6h1.4v-2.8h1.4v-0.1h1.4v2.4h1.4v-4.7h1.4v1.4h1.4v-1.2h1.4v-1.7h1.4v-2.2h1.4v-1.4h1.4v0.8h1.4v-6.8h1.4v2.6h1.4v14.8h1.4v-16.2h1.4v8.2h1.4v-3.0h1.4v1.3h1.4v-2.8h1.4v-3.5h1.4v2.9h1.4v-0.1h1.4v-6.4h1.4v8.2h1.4v-5.1h1.4v0.2h1.4v1.5h1.4v-0.6h1.4v-1.0h1.4v5.0h1.4v-8.3h1.4v-4.5h1.4v6.7h1.4v-7.6h1.4v1.1h1.4v12.7h1.4v1.1h1.4v-14.9h1.4v10.4h1.4v-6.3h1.4v6.2h1.4v4.5h1.4v-7.4h1.4v8.9h1.4v-4.5h1.4v9.7h1.4v-12.3h1.4v-0.7h1.4v9.1h1.4v-1.2h1.4v-0.8h1.4v-5.0h1.4v4.1h1.4v-2.2h1.4v6.8h1.4v-1.0h1.4v-4.2h1.4v0.2h1.4v-1.6h1.4v4.3h1.4v3.2h1.4v2.6h1.4v3.5h1.4v-5.2h1.4v7.8h1.4v-12.0h1.4v6.0h1.4v6.3h1.4v-3.7h1.4v4.4h1.4v4.1h1.4v-3.6h1.4v-8.9h1.4v19.1h1.4v-7.3h1.4v6.1h1.4v1.5h1.4v-17.0h1.4v20.1h1.4v1.7h1.4v-7.4h1.4v3.1h1.4v5.0h1.4v-2.9h1.4v-0.9h1.4v1.6h1.4v-1.5h1.4v-4.3h1.4v-8.5h1.4v1.0h1.4v-0.7h1.4v7.6h1.4v-4.1h1.4v3.5h1.4v-6.7h1.4v-3.5h1.4v-2.6h1.4v3.1h1.4v-9.0h1.4v6.4h1.4v-2.3h1.4v-9.2h1.4v12.8h1.4v-1.4h1.4v-1.4h1.4v-3.2h1.4v-4.8h1.4v0.1h1.4v-5.1h1.4v4.4h1.4v6.2h1.4v4.0h1.4v-9.9h1.4v9.4h1.4v2.7h1.4v-3.0h1.4v2.5h1.4v-6.7h1.4v-1.7h1.4v3.2h1.4v2.9h1.4v-1.9h1.4v-1.0h1.4v2.6h1.4v-6.5h1.4v-1.7h1.4v-2.2h1.4v14.3h1.4v0.6h1.4v4.5h1.4v-12.2h1.4v2.0h1.4v-1.1h1.4v-0.9h1.4v-2.5h1.4v13.4h1.4v-3.0h1.4v1.3h1.4v-5.6h1.4v8.7h1.4v8.5h1.4v-6.5h1.4v2.3h1.4v-8.8h1.4v2.8h1.4v0.2h1.4v-0.2h1.4v0.2h1.4v-3.2h1.4v3.0h1.4v-3.9h1.4v-2.1h1.4v-3.3h1.4v-1.1h1.4v7.3h1.4v0.6h1.4v-4.6h1.4v-0.2h1.4v-1.4h1.4v3.2h1.4v5.0h1.4v-4.4h1.4v-3.1h1.4v6.5h1.4v-1.1h1.4v-10.1h1.4v5.4h1.4v7.0h1.4v-3.3h1.4v-9.9h1.4v10.9h1.4v-5.6h1.4v0.6h1.4v4.8h1.4v1.5h1.4v6.6h1.4v-6.3h1.4v2.3h1.4v5.6h1.4v-8.0h1.4v1.9h1.4v1.8h1.4v1.5h1.4v-0.1h1.4v2.0h1.4v-7.8h1.4v-0.7h1.4v4.8h1.4v-6.4h1.4v12.7h1.4v-9.7h1.4v0.7h1.4v4.5h1.4v-1.3h1.4v0.8h1.4v-6.3h1.4v-1.7h1.4v4.5h1.4v-1.6h1.4v-3.7h1.4v6.0h1.4v5.4h1.4v-7.1h1.4v1.2h1.4v0.3h1.4v6.5h1.4v-10.8h1.4v6.9h1.4v2.6h1.4v-0.4h1.4v-2.9h1.4v3.1h1.4v9.0h1.4v-6.8h1.4v-2.4h1.4v5.1h1.4v-8.2h1.4v9.6h1.4v-4.8h1.4v10.7h1.4v-1.1h1.4v-6.4h1.4v-0.5h1.4v-3.2h1.4v4.1h1.4v0.7h1.4v-8.1h1.4v-0.1h1.4v8.7h1.4v-4.0h1.4v3.4h1.4v0.3h1.4v0.6h1.4v-1.2h1.4v3.9h1.4v3.8h1.4v-4.4h1.4v-1.9h1.4v2.4h1.4v0.3h1.4v-6.0h1.4v0h1.4v5.9h1.4v1.7h1.4v2.3h1.4v-5.5h1.4v5.5h1.4v-2.9h1.4v-1.1h1.4v6.0h1.4v-10.5h1.4v-13.0h1.4v28.0h1.4v-7.7h1.4v3.5h1.4v-3.2h1.4v-2.1h1.4v-1.5h1.4v-2.3h1.4v8.3h1.4v-4.7h1.4v4.1h1.4v1.9h1.4v-1.1h1.4v0.9h1.4v5.9h1.4v-5.3h1.4v1.0h1.4v-1.3h1.4v6.9h1.4v0h1.4v-6.9h1.4v4.5h1.4v-1.5h1.4v-0.6h1.4v-1.3h1.4v11.3h1.4v-7.4h1.4v-7.9h1.4v13.0h1.4v3.0h1.4v-6.3h1.4v-0.5h1.4v1.1h1.4v3.3h1.4v-5.7h1.4v4.0h1.4v-7.4h1.4v10.9h1.4v-9.0h1.4v3.3h1.4v3.5h1.4v2.8h1.4v-6.6h1.4v0.5h1.4v9.1h1.4v-8.3h1.4v-0.4h1.4v0.3h1.4v6.3h1.4v-2.7h1.4v4.7h1.4v-2.4h1.4v-2.6h1.4v3.8h1.4v1.6h1.4v-7.3h1.4v2.5h1.4v2.7h1.4v7.0h1.4v-7.5h1.4v1.8h1.4v0.2h1.4v1.6h1.4v-2.6h1.4v-2.3h1.4v-7.0h1.4v14.9h1.4v-11.2h1.4v10.1h1.4v1.0h1.4v1.7h1.4v-19.5h1.4v19.0h1.4v1.9h1.4v0.6h1.4v2.5h0V411.0Z" fill="#77AC30"/>
<path d="M839.5 292.9v-3.1M845.1 306.9v-8.1M847.9 297.4v-2.2M853.5 313.2v-9.0M868.9 315.9v-4.3M874.5 315.1v-4.0M880.1 318.8v-3.6M884.3 320.6v-6.2M888.5 318.4v-8.2M894.1 314.7v-4.7M898.3 329.3v-8.1M902.5 321.7v-6.8M906.7 329.9v-3.1M909.5 331.5v-20.3M912.3 327.6v-6.4M920.7 340.3v-5.9M934.7 347.0v-7.9M936.1 348.8v-5.5M940.3 354.4v-3.5M944.5 362.0v-3.0M945.9 358.9v-25.6M957.1 358.8v-3.5M962.7 351.4v-16.9M973.9 337.2v-7.3M986.5 325.5v-3.8M987.9 325.8v-15.0M992.1 323.0v-2.6M999.1 305.6v-6.7M1001.9 311.0v-11.4M1004.7 310.6v-2.1M1007.5 309.8v-2.6M1008.9 309.6v-7.7M1013.1 305.7v-2.4M1015.9 307.0v-3.8M1021.5 301.7v-4.9M1025.7 296.3v-10.9M1027.1 296.2v-12.4M1042.5 300.1v-4.2M1046.7 289.2v-9.4M1052.3 287.0v-9.6M1059.3 283.7v-2.7M1067.7 275.7v-14.6M1069.1 282.4v-8.6M1070.5 274.8v-2.2M1071.9 275.9v-22.2M1076.1 274.8v-4.2M1078.9 278.9v-5.2M1080.3 285.1v-5.2M1081.7 289.6v-3.0M1085.9 286.5v-4.9M1088.7 284.0v-7.2M1091.5 292.4v-3.0M1092.9 291.3v-12.7M1094.3 290.5v-6.7M1101.3 293.2v-4.2M1105.5 287.7v-8.2M1116.7 297.7v-12.8M1120.9 304.8v-15.5M1130.7 316.0v-10.2M1137.7 316.4v-9.4M1139.1 321.5v-5.2M1146.1 313.6v-7.8M1155.9 305.8v-3.1M1157.3 302.3v-24.1M1164.3 297.9v-3.5M1169.9 298.6v-9.0M1172.7 290.6v-5.4M1174.1 290.7v-3.2M1178.3 296.1v-7.8M1181.1 290.1v-5.8M1189.5 293.4v-4.1M1204.9 308.1v-9.1M1210.5 295.9v-10.4M1211.9 293.4v-2.0M1213.3 306.8v-11.5M1214.7 303.8v-13.9M1217.5 299.5v-20.1M1220.3 316.7v-4.0M1221.7 310.2v-3.9M1225.9 306.6v-5.5M1228.7 306.6v-10.4M1231.5 303.6v-4.5M1238.5 296.1v-3.9M1248.3 305.9v-2.6M1249.7 301.5v-12.3M1252.5 305.0v-2.2M1256.7 299.2v-3.3M1260.9 293.0v-2.5M1265.1 298.9v-4.3M1269.3 311.9v-6.1M1270.7 305.6v-14.3M1281.9 312.6v-3.0M1287.5 302.5v-4.7M1291.7 306.3v-7.5M1294.5 309.5v-8.1M1302.9 301.6v-13.0M1308.5 307.1v-4.9M1314.1 309.9v-4.3M1322.5 314.5v-5.2M1337.9 317.2v-22.5M1340.7 309.8v-3.2M1342.1 309.7v-6.9M1343.5 318.4v-10.2M1356.1 318.8v-31.2M1360.3 315.5v-6.6M1361.7 315.5v-15.4M1363.1 321.5v-2.4M1368.7 325.4v-13.4M1371.5 321.5v-7.7M1372.9 327.5v-12.5M1374.3 316.9v-16.6M1377.1 331.9v-2.5M1379.9 327.8v-4.0M1381.3 324.5v-2.3M1382.7 322.5v-2.2M1386.9 327.0v-24.8M1389.7 326.4v-11.0M1391.1 328.3v-3.9M1402.3 335.3v-7.7M1407.9 330.8v-9.8M1412.1 333.4v-5.9M1413.5 325.5v-4.5M1414.9 338.5v-8.1M1419.1 334.7v-3.9M1427.5 340.9v-14.5M1430.3 335.1v-6.0M1431.7 338.6v-4.7M1437.3 344.3v-2.8M1444.3 339.7v-4.1M1447.1 341.9v-7.8M1449.9 343.1v-4.3M1452.7 337.3v-3.2M1456.9 349.5v-8.0M1463.9 343.1v-9.7M1475.1 330.8v-25.2M1476.5 349.7v-6.9M1480.7 354.7v-18.6" stroke="#77AC30" stroke-width="1.4" stroke-dasharray="1.3 1.3" fill="none"/>
<path d="M842.3 304.6v2.1M847.9 298.9v18.3M854.9 305.1v27.5M860.5 310.3v9.8M863.3 309.9v7.5M871.7 311.8v6.1M874.5 316.6v28.0M875.9 313.7v9.0M877.3 306.0v13.7M881.5 315.0v5.1M891.3 316.6v6.9M896.9 322.6v4.3M916.5 331.0v7.5M923.5 332.2v2.4M929.1 345.8v9.5M940.3 355.9v8.0M955.7 362.7v16.7M957.1 360.3v6.6M959.9 364.6v4.3M961.3 347.8v22.5M982.3 332.5v10.8M985.1 326.4v10.8M1013.1 307.2v23.1M1014.5 304.1v2.5M1022.9 302.2v6.2M1024.3 300.7v13.2M1042.5 301.6v4.6M1045.3 293.7v5.1M1048.1 292.0v18.2M1064.9 290.1v2.5M1067.7 277.2v4.1M1080.3 286.6v4.6M1084.5 292.6v6.1M1097.1 291.1v2.6M1102.7 290.5v2.2M1105.5 289.2v7.3M1111.1 302.7v14.6M1112.5 297.5v19.8M1113.9 305.3v6.2M1116.7 299.2v9.5M1120.9 306.3v3.9M1137.7 317.9v22.1M1140.5 320.1v10.7M1154.5 314.0v3.0M1162.9 301.6v24.5M1164.3 299.4v8.6M1168.5 301.5v3.8M1171.3 296.9v3.6M1172.7 292.1v7.4M1175.5 287.1v12.7M1183.9 303.8v5.1M1186.7 303.3v8.1M1192.3 300.9v18.2M1196.5 300.7v17.7M1199.3 292.5v6.4M1207.7 299.4v3.0M1213.3 308.3v8.9M1224.5 305.3v7.4M1235.7 302.0v24.6M1251.1 299.9v8.9M1259.5 304.5v2.5M1260.9 294.5v17.1M1266.5 305.3v4.7M1273.5 314.9v11.6M1280.5 312.1v10.5M1291.7 307.8v17.6M1294.5 311.0v10.4M1309.9 308.9v10.6M1316.9 313.6v10.5M1326.7 310.4v2.0M1340.7 311.3v10.6M1344.9 315.9v2.1M1357.5 322.7v11.8M1360.3 317.0v10.3M1370.1 324.1v4.4M1372.9 329.0v8.5M1378.5 325.7v3.8M1388.3 323.8v9.0M1402.3 336.8v8.9M1410.7 342.3v5.8M1412.1 334.9v17.1M1414.9 340.0v10.8M1416.3 342.9v2.9M1421.9 340.6v10.5M1424.7 338.9v17.8M1430.3 336.6v9.8M1442.9 343.8v7.1M1451.3 346.2v7.8M1454.1 341.3v34.0M1455.5 344.0v10.4M1456.9 351.0v13.4M1463.9 344.6v12.2M1473.7 351.7v4.2M1475.1 332.3v10.1M1477.9 353.1v4.3" stroke="#262626" stroke-width="1.2" stroke-dasharray="1.2 1.4" fill="none"/>
<path d="M836.0 411.0V332.3h1.4v2.4h1.4v-4.8h1.4v5.5h1.4v-3.7h1.4v3.9h1.4v0.6h1.4v-0.4h1.4v1.9h1.4v-2.5h1.4v0.9h1.4v3.4h1.4v-4.8h1.4v0.1h1.4v-1.6h1.4v9.0h1.4v-6.3h1.4v5.1h1.4v-2.2h1.4v1.8h1.4v-1.9h1.4v-5.1h1.4v9.8h1.4v-1.9h1.4v-2.6h1.4v2.8h1.4v-2.9h1.4v5.6h1.4v1.4h1.4v-1.2h1.4v4.1h1.4v0.7h1.4v-4.1h1.4v4.0h1.4v-3.0h1.4v1.8h1.4v-0.5h1.4v1.5h1.4v-2.9h1.4v3.4h1.4v-2.4h1.4v8.3h1.4v-5.1h1.4v2.2h1.4v-2.9h1.4v3.5h1.4v4.5h1.4v-6.0h1.4v7.8h1.4v-1.1h1.4v8.0h1.4v-3.1h1.4v1.5h1.4v-0.7h1.4v2.8h1.4v-5.1h1.4v8.7h1.4v-1.6h1.4v-5.4h1.4v6.8h1.4v0.4h1.4v5.4h1.4v-3.4h1.4v2.3h1.4v2.5h1.4v-0.3h1.4v6.6h1.4v-2.0h1.4v-1.7h1.4v3.8h1.4v-1.0h1.4v3.1h1.4v-1.5h1.4v-0.6h1.4v12.2h1.4v-4.4h1.4v4.2h1.4v-2.3h1.4v-0.4h1.4v3.7h1.4v-0.4h1.4v-1.1h1.4v-2.6h1.4v5.9h1.4v2.3h1.4v-1.2h1.4v-7.6h1.4v7.1h1.4v-8.3h1.4v0.6h1.4v0.6h1.4v-1.7h1.4v-4.1h1.4v-0.3h1.4v-0.5h1.4v-13.7h1.4v11.9h1.4v-1.0h1.4v-4.3h1.4v-4.6h1.4v1.8h1.4v-4.3h1.4v-4.4h1.4v-6.7h1.4v1.7h1.4v2.3h1.4v-1.2h1.4v-7.2h1.4v1.0h1.4v-6.1h1.4v3.8h1.4v-1.3h1.4v-4.6h1.4v2.2h1.4v-0.2h1.4v-1.4h1.4v-6.8h1.4v1.3h1.4v2.0h1.4v-4.2h1.4v-6.3h1.4v4.4h1.4v2.3h1.4v-3.9h1.4v-5.4h1.4v4.1h1.4v7.2h1.4v-7.4h1.4v1.7h1.4v-3.7h1.4v-2.4h1.4v-3.0h1.4v3.4h1.4v-2.2h1.4v1.7h1.4v-2.9h1.4v0.6h1.4v-8.3h1.4v5.7h1.4v0h1.4v-1.7h1.4v2.0h1.4v-4.8h1.4v1.2h1.4v-8.1h1.4v6.7h1.4v-0.5h1.4v-4.9h1.4v-4.0h1.4v3.0h1.4v2.2h1.4v4.2h1.4v-8.1h1.4v4.1h1.4v0.1h1.4v-4.9h1.4v0.6h1.4v3.3h1.4v-6.0h1.4v-2.0h1.4v4.9h1.4v-2.2h1.4v-4.0h1.4v10.0h1.4v-1.5h1.4v-8.6h1.4v-4.5h1.4v9.0h1.4v-2.5h1.4v3.4h1.4v0.2h1.4v0.7h1.4v4.2h1.4v-5.5h1.4v1.0h1.4v-3.2h1.4v8.9h1.4v-0.5h1.4v-9.4h1.4v0.7h1.4v11.3h1.4v1.2h1.4v-3.0h1.4v2.5h1.4v-7.2h1.4v4.3h1.4v2.6h1.4v-2.4h1.4v-1.7h1.4v3.2h1.4v-6.7h1.4v14.4h1.4v-5.5h1.4v0.1h1.4v-2.4h1.4v10.4h1.4v-3.7h1.4v3.0h1.4v-1.0h1.4v2.0h1.4v0.2h1.4v-0.8h1.4v4.0h1.4v-2.1h1.4v4.9h1.4v2.1h1.4v3.0h1.4v-3.0h1.4v11.0h1.4v-4.2h1.4v-2.4h1.4v-1.1h1.4v5.2h1.4v-0.2h1.4v2.3h1.4v-5.9h1.4v4.3h1.4v0.2h1.4v0.3h1.4v-8.9h1.4v2.0h1.4v-1.7h1.4v0.7h1.4v-2.8h1.4v1.0h1.4v-4.3h1.4v2.2h1.4v-7.1h1.4v2.5h1.4v4.8h1.4v-10.5h1.4v6.5h1.4v-1.7h1.4v-5.4h1.4v2.4h1.4v0h1.4v-4.8h1.4v-3.6h1.4v4.8h1.4v-3.3h1.4v5.0h1.4v-6.8h1.4v8.4h1.4v2.6h1.4v-9.3h1.4v-4.0h1.4v6.8h1.4v-2.3h1.4v1.3h1.4v-4.1h1.4v-0.1h1.4v6.4h1.4v-5.2h1.4v-1.8h1.4v7.3h1.4v0.4h1.4v-2.5h1.4v-2.0h1.4v7.8h1.4v-5.6h1.4v3.5h1.4v-4.8h1.4v0.8h1.4v5.5h1.4v4.7h1.4v-6.4h1.4v2.2h1.4v1.4h1.4v5.9h1.4v-3.3h1.4v2.0h1.4v2.3h1.4v0.2h1.4v3.5h1.4v-23.2h1.4v20.9h1.4v0h1.4v-5.1h1.4v3.4h1.4v-0.2h1.4v-2.3h1.4v-1.4h1.4v5.0h1.4v-3.4h1.4v-1.5h1.4v0.5h1.4v-2.7h1.4v1.6h1.4v0.2h1.4v-4.0h1.4v2.3h1.4v0.2h1.4v0.8h1.4v-1.5h1.4v1.2h1.4v-1.2h1.4v-1.1h1.4v1.1h1.4v-3.0h1.4v6.4h1.4v-0.6h1.4v-3.4h1.4v-0.1h1.4v0.5h1.4v-0.4h1.4v0.7h1.4v5.2h1.4v-1.9h1.4v3.9h1.4v-0.6h1.4v0.2h1.4v-4.5h1.4v9.3h1.4v-5.1h1.4v-5.6h1.4v6.3h1.4v0.2h1.4v2.9h1.4v-4.6h1.4v3.3h1.4v-1.5h1.4v4.5h1.4v-4.4h1.4v2.2h1.4v1.4h1.4v-5.3h1.4v3.2h1.4v-0.9h1.4v4.5h1.4v-2.9h1.4v-3.9h1.4v7.4h1.4v-6.5h1.4v1.8h1.4v0.9h1.4v1.7h1.4v-3.2h1.4v1.7h1.4v0h1.4v2.1h1.4v-2.5h1.4v1.5h1.4v-2.4h1.4v9.4h1.4v-3.1h1.4v2.5h1.4v-5.4h1.4v-2.8h1.4v0.6h1.4v1.3h1.4v5.3h1.4v-2.4h1.4v-0.2h1.4v-1.8h1.4v8.6h1.4v-8.5h1.4v3.5h1.4v0.1h1.4v0.6h1.4v0.2h1.4v1.7h1.4v6.8h1.4v-4.1h1.4v-2.1h1.4v-3.7h1.4v7.6h1.4v0.4h1.4v-5.9h1.4v3.5h1.4v-8.1h1.4v4.0h1.4v6.4h1.4v-8.0h1.4v7.1h1.4v1.6h1.4v-7.1h1.4v4.0h1.4v4.9h1.4v2.9h1.4v-6.5h1.4v4.4h1.4v-7.0h1.4v1.2h1.4v3.5h1.4v1.1h1.4v-1.4h1.4v3.0h1.4v-0.6h1.4v1.7h1.4v-1.2h1.4v-1.7h1.4v0.6h1.4v-0.4h1.4v1.1h1.4v-2.7h1.4v5.9h1.4v1.3h1.4v-0.9h1.4v0.3h1.4v-4.7h1.4v1.7h1.4v0h1.4v-0.5h1.4v-4.5h1.4v9.7h1.4v-5.8h1.4v2.7h1.4v0.6h1.4v6.7h1.4v-2.2h1.4v3.4h1.4v-3.9h1.4v2.7h1.4v0.4h1.4v-2.4h1.4v0.4h1.4v-4.3h1.4v2.2h1.4v-2.3h1.4v-0.7h1.4v7.7h1.4v0.1h1.4v-2.1h1.4v4.5h1.4v-0.5h1.4v1.2h1.4v-1.3h1.4v1.5h1.4v-0.5h1.4v-4.5h1.4v4.1h1.4v0h1.4v1.0h1.4v0.1h1.4v2.6h1.4v-2.2h1.4v-1.6h1.4v4.0h1.4v-7.3h1.4v2.2h1.4v7.9h1.4v-7.3h1.4v5.3h1.4v-3.6h1.4v5.3h1.4v-0.6h1.4v2.3h1.4v-1.0h1.4v2.1h1.4v-5.7h1.4v7.3h1.4v-5.3h1.4v4.0h1.4v-2.6h1.4v4.0h1.4v-9.0h1.4v6.9h1.4v1.4h1.4v-1.6h1.4v0.4h1.4v4.2h0V411.0Z" fill="#808080"/>
<path d="M953.0 19.0V408.6M1138.8 76.4V408.6" stroke="#808080" stroke-width="2.4" fill="none"/>
<path d="M1224.9 108.8V408.6M1281.4 135.0V408.6M1324.0 157.6V408.6M1385.7 197.6V408.6M1409.8 213.0V408.6M1431.0 228.3V408.6M1449.5 242.0V408.6M1466.3 254.3V408.6" stroke="#808080" stroke-width="2.1" fill="none"/>
<path d="M836.0 411.0V368.7h1.4v-5.4h1.4v4.3h1.4v2.1h1.4v-9.2h1.4v6.3h1.4v8.4h1.4v-16.9h1.4v7.3h1.4v-6.7h1.4v14.0h1.4v-1.7h1.4v0.4h1.4v-3.0h1.4v-0.4h1.4v-3.0h1.4v7.4h1.4v-5.7h1.4v6.9h1.4v0.2h1.4v-0.5h1.4v3.7h1.4v-2.0h1.4v-4.1h1.4v1.7h1.4v2.0h1.4v-0.7h1.4v4.1h1.4v-2.1h1.4v2.0h1.4v-3.0h1.4v2.7h1.4v-3.7h1.4v3.1h1.4v4.0h1.4v-2.9h1.4v-8.0h1.4v13.2h1.4v0.2h1.4v-5.0h1.4v4.4h1.4v1.2h1.4v-3.4h1.4v1.0h1.4v2.4h1.4v5.5h1.4v-3.5h1.4v0.7h1.4v-6.5h1.4v9.3h1.4v2.8h1.4v-4.7h1.4v6.4h1.4v-1.7h1.4v4.0h1.4v-1.2h1.4v1.2h1.4v8.2h1.4v-0.3h1.4v-6.2h1.4v-0.5h1.4v7.3h1.4v1.7h1.4v0.6h1.4v0.8h1.4v2.6h1.4v-8.1h1.4v6.9h1.4v1.2h1.4v0h1.4v0h1.4v-0.1h1.4v0.1h1.4v0h1.4v0h1.4v0h1.4v-2.1h1.4v2.1h1.4v-1.7h1.4v1.7h1.4v-2.4h1.4v2.4h1.4v-0.2h1.4v0.2h1.4v-4.6h1.4v3.1h1.4v1.5h1.4v0h1.4v-2.0h1.4v2.0h1.4v0h1.4v0h1.4v-0.7h1.4v-3.0h1.4v0.6h1.4v3.0h1.4v0.1h1.4v0h1.4v0h1.4v-1.7h1.4v-0.1h1.4v0.2h1.4v-7.4h1.4v-1.1h1.4v-2.3h1.4v-10.1h1.4v1.3h1.4v3.8h1.4v-0.5h1.4v-3.0h1.4v-6.2h1.4v3.9h1.4v-1.6h1.4v-6.3h1.4v0.6h1.4v-8.2h1.4v8.1h1.4v-3.5h1.4v-10.6h1.4v11.1h1.4v-7.4h1.4v3.2h1.4v-3.8h1.4v5.8h1.4v-8.9h1.4v1.0h1.4v1.9h1.4v2.5h1.4v-5.7h1.4v-4.8h1.4v1.0h1.4v2.0h1.4v0h1.4v-5.6h1.4v6.1h1.4v-6.3h1.4v-0.7h1.4v1.5h1.4v-3.4h1.4v-0.6h1.4v2.2h1.4v-6.7h1.4v5.1h1.4v-2.9h1.4v3.6h1.4v-4.1h1.4v1.6h1.4v1.2h1.4v-25.3h1.4v24.2h1.4v-11.7h1.4v11.4h1.4v0.3h1.4v-1.7h1.4v0.2h1.4v-0.3h1.4v-2.0h1.4v-5.1h1.4v5.4h1.4v-0.3h1.4v1.1h1.4v1.5h1.4v-5.9h1.4v1.1h1.4v6.6h1.4v-5.7h1.4v-0.1h1.4v-2.3h1.4v3.2h1.4v-7.3h1.4v3.9h1.4v1.3h1.4v-1.4h1.4v2.5h1.4v2.5h1.4v-1.6h1.4v-1.5h1.4v-5.1h1.4v5.0h1.4v6.1h1.4v1.3h1.4v-2.0h1.4v1.3h1.4v0.4h1.4v-5.8h1.4v3.4h1.4v0.2h1.4v3.7h1.4v1.9h1.4v-1.7h1.4v4.1h1.4v-2.1h1.4v0.1h1.4v1.2h1.4v-2.9h1.4v8.8h1.4v-2.2h1.4v4.5h1.4v0.7h1.4v-2.5h1.4v-0.8h1.4v4.7h1.4v1.5h1.4v3.0h1.4v-2.3h1.4v1.2h1.4v7.5h1.4v-5.8h1.4v5.9h1.4v-2.3h1.4v6.4h1.4v-3.2h1.4v0.6h1.4v-1.3h1.4v-2.6h1.4v8.3h1.4v-6.1h1.4v6.7h1.4v-3.2h1.4v-5.5h1.4v0.3h1.4v0.3h1.4v-0.6h1.4v-3.1h1.4v2.0h1.4v-0.1h1.4v-0.6h1.4v-0.2h1.4v-8.9h1.4v0.2h1.4v-1.5h1.4v-7.6h1.4v10.4h1.4v-7.4h1.4v-7.8h1.4v10.4h1.4v-2.4h1.4v0.3h1.4v-5.1h1.4v4.4h1.4v-5.9h1.4v7.1h1.4v0.4h1.4v0.4h1.4v-8.6h1.4v0.9h1.4v1.5h1.4v5.5h1.4v-4.4h1.4v5.0h1.4v-3.8h1.4v1.3h1.4v-5.9h1.4v-0.6h1.4v2.5h1.4v-1.2h1.4v-6.3h1.4v11.2h1.4v2.9h1.4v-6.5h1.4v2.3h1.4v5.0h1.4v-7.0h1.4v7.3h1.4v0.8h1.4v2.3h1.4v0.8h1.4v-1.4h1.4v-2.6h1.4v6.8h1.4v-5.1h1.4v3.6h1.4v2.8h1.4v7.9h1.4v-5.1h1.4v0.3h1.4v-2.4h1.4v0h1.4v-4.4h1.4v-2.5h1.4v5.3h1.4v0.4h1.4v-2.3h1.4v0h1.4v-0.5h1.4v5.2h1.4v-7.9h1.4v7.3h1.4v-7.9h1.4v1.2h1.4v0.5h1.4v1.8h1.4v2.4h1.4v-1.2h1.4v0.3h1.4v-2.3h1.4v-0.8h1.4v-0.3h1.4v-2.9h1.4v9.4h1.4v-6.4h1.4v-1.8h1.4v-1.3h1.4v2.8h1.4v-1.7h1.4v6.4h1.4v0.9h1.4v-5.0h1.4v6.3h1.4v-0.8h1.4v-0.8h1.4v0.3h1.4v-2.3h1.4v5.1h1.4v-6.9h1.4v7.3h1.4v-7.5h1.4v-0.3h1.4v5.6h1.4v1.4h1.4v-2.3h1.4v2.3h1.4v-2.9h1.4v3.4h1.4v-0.3h1.4v-9.5h1.4v6.1h1.4v2.2h1.4v-0.7h1.4v2.4h1.4v2.7h1.4v-4.8h1.4v0.7h1.4v1.4h1.4v-2.1h1.4v1.3h1.4v-0.1h1.4v4.0h1.4v-2.8h1.4v2.1h1.4v1.0h1.4v-3.6h1.4v4.9h1.4v3.2h1.4v-6.0h1.4v2.8h1.4v2.7h1.4v0.8h1.4v-2.7h1.4v-1.2h1.4v2.3h1.4v-10.0h1.4v6.7h1.4v0.9h1.4v3.0h1.4v-4.2h1.4v2.2h1.4v-10.2h1.4v9.2h1.4v0.5h1.4v4.3h1.4v3.7h1.4v-9.3h1.4v5.4h1.4v-0.8h1.4v1.8h1.4v-2.6h1.4v4.2h1.4v-8.1h1.4v8.9h1.4v1.6h1.4v-6.2h1.4v1.7h1.4v-2.1h1.4v2.5h1.4v0.4h1.4v-6.6h1.4v10.3h1.4v-0.3h1.4v3.6h1.4v-5.2h1.4v0.8h1.4v3.2h1.4v-13.0h1.4v11.6h1.4v-2.3h1.4v6.6h1.4v-5.6h1.4v3.6h1.4v-3.5h1.4v-7.4h1.4v13.8h1.4v-0.4h1.4v0.5h1.4v-3.2h1.4v4.9h1.4v-5.7h1.4v0.8h1.4v5.3h1.4v-0.1h1.4v3.3h1.4v-6.9h1.4v1.3h1.4v-2.9h1.4v7.8h1.4v-5.9h1.4v0.2h1.4v2.3h1.4v3.0h1.4v7.2h1.4v-5.9h1.4v2.8h1.4v-2.4h1.4v-2.4h1.4v2.1h1.4v-0.5h1.4v0h1.4v3.1h1.4v-0.4h1.4v-3.7h1.4v-3.3h1.4v4.8h1.4v3.1h1.4v3.1h1.4v-3.1h1.4v1.2h1.4v1.6h1.4v0.6h1.4v-5.1h1.4v1.7h1.4v2.7h1.4v-3.2h1.4v-2.2h1.4v3.4h1.4v1.1h1.4v3.2h1.4v-4.2h1.4v-0.7h1.4v1.5h1.4v3.7h1.4v-7.2h1.4v6.2h1.4v1.4h1.4v-2.9h1.4v-5.3h1.4v3.6h1.4v1.0h1.4v2.4h1.4v1.3h1.4v0h1.4v-1.4h1.4v-2.8h1.4v0.9h1.4v3.2h1.4v-3.6h1.4v3.6h1.4v0h1.4v0h1.4v0h1.4v-0.7h1.4v0.7h0V411.0Z" fill="#EDB120"/>
<path d="M953.0 19.0V408.6M1138.8 76.4V408.6" stroke="#EDB120" stroke-width="2.4" stroke-dasharray="8 4.7" fill="none"/>
<path d="M1224.9 108.8V408.6M1281.4 135.0V408.6M1324.0 157.6V408.6M1385.7 197.6V408.6M1409.8 213.0V408.6M1431.0 228.3V408.6M1449.5 242.0V408.6M1466.3 254.3V408.6" stroke="#EDB120" stroke-width="2.1" stroke-dasharray="10 2.7" fill="none"/>
<path d="M1357.6 177.8V408.6" stroke="#EDB120" stroke-width="2.0" fill="none"/>
<text x="830.4" y="29.2" font-size="25.88" text-anchor="end">0</text><text x="829.3" y="137.8" font-size="25.88" text-anchor="end">-20</text><text x="829.3" y="246.4" font-size="25.88" text-anchor="end">-40</text><text x="829.3" y="355.0" font-size="25.88" text-anchor="end">-60</text>
<text transform="translate(782.5 209.5) rotate(-90)" x="0" y="0" font-size="28.24" text-anchor="middle">magnitude (dB)</text>
<text transform="translate(757.3 31.2) scale(1.02 1)" font-size="38.5" stroke="#000" stroke-width="0.5">b</text><text transform="translate(781.8 31.2) scale(0.72 1)" font-size="38.5" stroke="#000" stroke-width="0.9">)</text>
<path d="M80.0 848.0V606.7h1.25v-15.4h1.25v13.1h1.25v2.5h1.25v-5.0h1.25v-4.1h1.25v3.9h1.25v-4.9h1.25v14.6h1.25v-13.9h1.25v4.5h1.25v2.1h1.25v0.7h1.25v2.2h1.25v-2.8h1.25v-5.4h1.25v3.0h1.25v-3.4h1.25v-1.0h1.25v-1.0h1.25v6.5h1.25v-12.0h1.25v19.2h1.25v2.1h1.25v-3.5h1.25v-2.6h1.25v6.7h1.25v-6.8h1.25v12.4h1.25v-9.3h1.25v5.3h1.25v-6.9h1.25v9.8h1.25v-5.9h1.25v1.7h1.25v6.4h1.25v-3.4h1.25v-3.4h1.25v1.9h1.25v3.3h1.25v-1.4h1.25v-4.4h1.25v0.7h1.25v3.1h1.25v-4.9h1.25v-3.6h1.25v14.4h1.25v-6.8h1.25v14.7h1.25v-10.2h1.25v3.2h1.25v-4.1h1.25v0.7h1.25v-1.9h1.25v-15.9h1.25v12.6h1.25v-1.1h1.25v-0.3h1.25v-0.3h1.25v9.0h1.25v-10.8h1.25v15.6h1.25v-9.3h1.25v6.4h1.25v-0.3h1.25v1.1h1.25v-2.6h1.25v-3.6h1.25v5.8h1.25v1.3h1.25v2.5h1.25v-2.2h1.25v-11.9h1.25v7.3h1.25v5.3h1.25v5.1h1.25v2.7h1.25v-9.9h1.25v1.7h1.25v-0.8h1.25v-1.5h1.25v5.6h1.25v2.9h1.25v-1.3h1.25v-12.7h1.25v18.2h1.25v-16.1h1.25v16.5h1.25v-5.2h1.25v16.7h1.25v-23.0h1.25v5.2h1.25v1.8h1.25v0.2h1.25v-6.2h1.25v6.6h1.25v-8.7h1.25v2.1h1.25v-0.5h1.25v3.8h1.25v-1.7h1.25v-10.6h1.25v12.0h1.25v-9.5h1.25v0.2h1.25v0.8h1.25v2.3h1.25v4.1h1.25v-0.2h1.25v-10.8h1.25v6.9h1.25v2.9h1.25v1.8h1.25v-4.2h1.25v-5.1h1.25v-3.9h1.25v5.5h1.25v-6.2h1.25v-17.7h1.25v26.4h1.25v-7.3h1.25v8.4h1.25v-23.9h1.25v20.9h1.25v-3.4h1.25v-3.3h1.25v-38.0h1.25v34.7h1.25v6.3h1.25v-2.9h1.25v5.1h1.25v-0.7h1.25v-18.8h1.25v6.9h1.25v2.1h1.25v-6.6h1.25v7.3h1.25v4.5h1.25v-1.0h1.25v-3.1h1.25v-1.1h1.25v5.1h1.25v3.9h1.25v-9.3h1.25v5.8h1.25v-1.4h1.25v-3.7h1.25v0.2h1.25v-1.7h1.25v5.9h1.25v2.4h1.25v-4.2h1.25v-7.4h1.25v9.7h1.25v-0.8h1.25v-1.1h1.25v8.0h1.25v-9.6h1.25v2.8h1.25v2.6h1.25v7.1h1.25v-12.6h1.25v-3.4h1.25v0.2h1.25v6.2h1.25v-6.4h1.25v3.9h1.25v9.8h1.25v-1.2h1.25v-4.8h1.25v0.9h1.25v0.1h1.25v2.6h1.25v-0.7h1.25v9.8h1.25v-11.2h1.25v7.9h1.25v2.7h1.25v-3.8h1.25v3.3h1.25v7.9h1.25v-15.2h1.25v0.5h1.25v9.4h1.25v-2.2h1.25v8.2h1.25v-9.9h1.25v3.9h1.25v-11.2h1.25v1.2h1.25v18.7h1.25v-6.3h1.25v-4.4h1.25v1.8h1.25v0.8h1.25v-1.8h1.25v0.6h1.25v6.1h1.25v-3.9h1.25v5.5h1.25v-3.8h1.25v2.0h1.25v2.3h1.25v-2.0h1.25v-2.3h1.25v8.3h1.25v5.6h1.25v-11.0h1.25v0h1.25v-1.3h1.25v-3.9h1.25v3.3h1.25v5.8h1.25v-4.9h1.25v5.0h1.25v-0.5h1.25v2.4h1.25v2.0h1.25v-5.1h1.25v-14.8h1.25v11.9h1.25v2.5h1.25v10.5h1.25v-11.0h1.25v-0.8h1.25v-0.6h1.25v8.2h1.25v-3.6h1.25v6.8h1.25v2.3h1.25v-6.1h1.25v3.5h1.25v-5.8h1.25v7.1h1.25v-9.4h1.25v3.1h1.25v12.5h1.25v-16.1h1.25v2.0h1.25v7.9h1.25v-7.9h1.25v2.6h1.25v-2.4h1.25v5.7h1.25v-1.8h1.25v8.7h1.25v-7.1h1.25v-9.5h1.25v-1.5h1.25v-2.3h1.25v13.7h1.25v-13.0h1.25v16.5h1.25v-2.6h1.25v4.7h1.25v-5.4h1.25v-0.7h1.25v-3.0h1.25v-8.4h1.25v1.2h1.25v8.4h1.25v-10.7h1.25v21.3h1.25v-6.0h1.25v-26.4h1.25v31.9h1.25v-6.0h1.25v-3.8h1.25v4.5h1.25v-5.1h1.25v7.9h1.25v-4.0h1.25v7.4h1.25v-11.2h1.25v7.8h1.25v-7.4h1.25v16.5h1.25v-18.4h1.25v20.0h1.25v-10.9h1.25v7.0h1.25v-9.0h1.25v3.0h1.25v9.2h1.25v-13.5h1.25v10.2h1.25v-10.8h1.25v19.4h1.25v-4.9h1.25v-14.6h1.25v3.9h1.25v11.6h1.25v6.5h1.25v-11.7h1.25v-12.0h1.25v9.2h1.25v0h1.25v4.3h1.25v-2.1h1.25v-4.6h1.25v-4.1h1.25v18.4h1.25v-5.5h1.25v-0.3h1.25v-2.9h1.25v5.3h1.25v-7.2h1.25v0h1.25v-2.5h1.25v1.6h1.25v9.3h1.25v-9.0h1.25v17.9h1.25v-10.0h1.25v-1.5h1.25v0.8h1.25v10.4h1.25v-19.8h1.25v12.5h1.25v9.5h1.25v-3.2h1.25v-3.7h1.25v-14.1h1.25v2.6h1.25v-3.9h1.25v24.8h1.25v-14.7h1.25v-2.9h1.25v8.5h1.25v-2.1h1.25v-10.2h1.25v12.7h1.25v13.2h1.25v-13.3h1.25v-5.7h1.25v-5.9h1.25v13.0h1.25v-0.6h1.25v-3.5h1.25v4.6h1.25v2.0h1.25v0.4h1.25v-1.3h1.25v-8.6h1.25v3.4h1.25v-6.1h1.25v9.4h1.25v9.4h1.25v-9.1h1.25v-0.9h1.25v12.9h1.25v-6.1h1.25v-7.5h1.25v6.4h1.25v3.2h1.25v0h1.25v-7.8h1.25v4.7h1.25v-4.3h1.25v-22.5h1.25v29.3h1.25v-12.7h1.25v6.2h1.25v6.7h1.25v1.6h1.25v-3.1h1.25v-4.6h1.25v6.4h1.25v2.2h1.25v0.5h1.25v1.0h1.25v-6.6h1.25v1.0h1.25v0.6h1.25v8.4h1.25v-14.8h1.25v10.7h1.25v4.2h1.25v-3.6h1.25v-1.0h1.25v4.2h1.25v-1.5h1.25v11.2h1.25v-18.2h1.25v-3.6h1.25v-3.0h1.25v18.6h1.25v-8.8h1.25v-3.3h1.25v17.4h1.25v-8.6h1.25v9.8h1.25v-11.7h1.25v-9.5h1.25v20.4h1.25v-9.1h1.25v3.8h1.25v-5.2h1.25v4.5h1.25v-9.7h1.25v9.7h1.25v1.5h1.25v5.8h1.25v0.6h1.25v-5.3h1.25v-1.8h1.25v2.6h1.25v11.7h1.25v-21.3h1.25v15.1h1.25v-43.8h1.25v33.6h1.25v9.8h1.25v3.5h1.25v-5.3h1.25v-6.1h1.25v9.3h1.25v0.6h1.25v-5.2h1.25v3.4h1.25v-8.9h1.25v1.7h1.25v5.5h1.25v2.1h1.25v5.0h1.25v-3.2h1.25v-4.7h1.25v7.3h1.25v5.3h1.25v-3.4h1.25v-4.6h1.25v-0.4h1.25v-2.6h1.25v-5.6h1.25v6.4h1.25v-3.1h1.25v8.4h1.25v0.2h1.25v-8.3h1.25v10.0h1.25v1.1h1.25v-4.9h1.25v1.2h1.25v4.3h1.25v5.6h1.25v-16.3h1.25v3.7h1.25v4.6h1.25v-3.7h1.25v2.5h1.25v3.1h1.25v-4.6h1.25v9.0h1.25v-6.3h1.25v6.4h1.25v-1.3h1.25v1.5h1.25v-18.8h1.25v19.5h1.25v-8.7h1.25v14.5h1.25v-12.9h1.25v-9.0h1.25v5.3h1.25v1.8h1.25v6.3h1.25v-6.7h1.25v15.2h1.25v-3.4h1.25v-8.2h1.25v14.6h1.25v-17.7h1.25v15.7h1.25v-11.5h1.25v6.0h1.25v-1.9h1.25v2.5h1.25v1.3h1.25v0.4h1.25v-5.0h1.25v-6.8h1.25v10.5h1.25v0.1h1.25v1.0h1.25v3.3h1.25v7.7h1.25v-3.6h1.25v-2.8h1.25v-4.5h1.25v-3.2h1.25v14.6h1.25v-3.7h1.25v-2.9h1.25v-7.7h1.25v6.6h1.25v5.5h1.25v-0.6h1.25v-4.0h1.25v3.7h1.25v-1.8h1.25v-3.0h1.25v6.6h1.25v2.9h1.25v-8.4h0.25V848.0Z" fill="#262626"/>
<path d="M80.0 848.0V614.7h1.4v-1.8h1.4v0.2h1.4v8.7h1.4v-2.6h1.4v4.3h1.4v-4.6h1.4v10.9h1.4v-9.1h1.4v3.8h1.4v-1.7h1.4v-0.1h1.4v-2.1h1.4v9.7h1.4v-5.7h1.4v-1.1h1.4v2.8h1.4v5.4h1.4v-6.2h1.4v-1.4h1.4v10.3h1.4v-3.0h1.4v-5.2h1.4v5.5h1.4v-2.0h1.4v-1.3h1.4v6.5h1.4v2.4h1.4v-11.0h1.4v8.0h1.4v-1.4h1.4v5.5h1.4v-3.5h1.4v-2.7h1.4v11.6h1.4v-5.9h1.4v6.6h1.4v-4.1h1.4v-4.0h1.4v-1.6h1.4v0.3h1.4v5.2h1.4v2.2h1.4v5.3h1.4v-9.7h1.4v5.7h1.4v3.2h1.4v3.0h1.4v-1.1h1.4v-1.0h1.4v0.8h1.4v-7.5h1.4v6.1h1.4v-4.9h1.4v14.1h1.4v-4.1h1.4v-4.1h1.4v-0.1h1.4v0.8h1.4v4.3h1.4v-2.9h1.4v-8.7h1.4v7.8h1.4v6.5h1.4v1.2h1.4v-6.1h1.4v7.4h1.4v-2.5h1.4v-10.5h1.4v16.6h1.4v-5.3h1.4v5.1h1.4v2.5h1.4v-8.8h1.4v5.5h1.4v-3.9h1.4v7.2h1.4v-8.7h1.4v10.7h1.4v-4.4h1.4v4.5h1.4v6.1h1.4v-9.6h1.4v-5.5h1.4v-2.4h1.4v5.8h1.4v-8.9h1.4v-1.1h1.4v6.2h1.4v4.0h1.4v-4.4h1.4v5.9h1.4v-3.0h1.4v-2.3h1.4v-1.8h1.4v-0.7h1.4v-0.2h1.4v1.9h1.4v-4.0h1.4v-7.1h1.4v-1.4h1.4v2.3h1.4v4.0h1.4v-6.7h1.4v4.9h1.4v-2.7h1.4v7.5h1.4v-8.7h1.4v-0.4h1.4v-1.7h1.4v-0.1h1.4v2.9h1.4v7.2h1.4v-19.4h1.4v12.6h1.4v0.8h1.4v4.2h1.4v-0.6h1.4v-4.1h1.4v-8.4h1.4v3.3h1.4v-6.2h1.4v5.9h1.4v5.9h1.4v-5.3h1.4v-2.7h1.4v4.1h1.4v3.3h1.4v-14.5h1.4v7.0h1.4v1.1h1.4v3.7h1.4v1.1h1.4v-3.7h1.4v-0.2h1.4v6.3h1.4v6.1h1.4v1.8h1.4v-0.8h1.4v-11.9h1.4v-2.7h1.4v5.4h1.4v-1.4h1.4v0h1.4v2.6h1.4v2.4h1.4v3.8h1.4v0.5h1.4v-6.1h1.4v0.4h1.4v5.3h1.4v-0.6h1.4v-4.2h1.4v2.6h1.4v-7.1h1.4v8.8h1.4v-5.6h1.4v6.5h1.4v-12.1h1.4v12.3h1.4v-4.3h1.4v3.4h1.4v3.1h1.4v-2.2h1.4v10.0h1.4v-1.9h1.4v-4.8h1.4v9.2h1.4v-6.4h1.4v1.7h1.4v7.0h1.4v1.2h1.4v-7.2h1.4v3.3h1.4v-3.1h1.4v4.8h1.4v-4.7h1.4v6.0h1.4v-11.0h1.4v8.5h1.4v3.6h1.4v-3.7h1.4v-7.2h1.4v7.9h1.4v-5.0h1.4v2.8h1.4v2.7h1.4v7.2h1.4v-7.4h1.4v-3.6h1.4v12.3h1.4v-7.8h1.4v-1.0h1.4v2.0h1.4v0.3h1.4v6.8h1.4v-13.4h1.4v5.5h1.4v7.0h1.4v-6.6h1.4v4.1h1.4v-7.3h1.4v12.6h1.4v-5.1h1.4v8.4h1.4v-14.2h1.4v11.3h1.4v1.5h1.4v5.0h1.4v-5.5h1.4v-2.5h1.4v2.9h1.4v-3.1h1.4v1.3h1.4v-9.2h1.4v8.1h1.4v0.7h1.4v0.3h1.4v-0.7h1.4v7.4h1.4v0.7h1.4v-3.5h1.4v-3.8h1.4v5.4h1.4v-5.0h1.4v-2.0h1.4v-0.7h1.4v1.9h1.4v6.4h1.4v-0.1h1.4v0.2h1.4v-2.8h1.4v-3.2h1.4v4.2h1.4v-0.8h1.4v-1.8h1.4v7.3h1.4v-9.9h1.4v1.4h1.4v1.3h1.4v3.1h1.4v2.3h1.4v0.9h1.4v4.2h1.4v-4.9h1.4v-0.1h1.4v3.0h1.4v4.2h1.4v-2.0h1.4v1.2h1.4v1.5h1.4v-1.7h1.4v-1.0h1.4v-8.0h1.4v6.5h1.4v-2.7h1.4v2.3h1.4v2.2h1.4v4.3h1.4v1.8h1.4v-9.1h1.4v7.9h1.4v0.8h1.4v-9.7h1.4v9.3h1.4v-1.2h1.4v-6.6h1.4v8.2h1.4v2.7h1.4v0.7h1.4v-4.6h1.4v5.4h1.4v1.4h1.4v-1.5h1.4v-8.1h1.4v0.7h1.4v3.1h1.4v0.2h1.4v7.4h1.4v0.9h1.4v0.5h1.4v-17.6h1.4v17.4h1.4v-14.0h1.4v11.0h1.4v-7.1h1.4v6.5h1.4v3.4h1.4v0h1.4v-5.5h1.4v-8.3h1.4v8.5h1.4v0.6h1.4v2.7h1.4v4.1h1.4v-6.6h1.4v6.7h1.4v-6.2h1.4v1.5h1.4v4.4h1.4v1.9h1.4v0.9h1.4v-5.8h1.4v5.3h1.4v-6.8h1.4v13.3h1.4v-5.7h1.4v-2.1h1.4v-3.6h1.4v1.4h1.4v3.3h1.4v-3.3h1.4v3.4h1.4v-3.8h1.4v1.1h1.4v7.3h1.4v-7.7h1.4v2.3h1.4v-1.9h1.4v6.3h1.4v-6.0h1.4v2.8h1.4v1.7h1.4v-1.2h1.4v3.8h1.4v-1.0h1.4v-4.0h1.4v1.3h1.4v1.5h1.4v-2.0h1.4v0.9h1.4v-0.5h1.4v10.4h1.4v-13.6h1.4v4.2h1.4v4.5h1.4v4.3h1.4v-3.6h1.4v7.8h1.4v-11.1h1.4v-0.5h1.4v-2.4h1.4v9.9h1.4v-3.2h1.4v3.8h1.4v3.5h1.4v-4.3h1.4v-1.2h1.4v-0.7h1.4v8.7h1.4v0.9h1.4v-8.2h1.4v7.8h1.4v-7.8h1.4v-6.6h1.4v6.6h1.4v-0.4h1.4v4.7h1.4v0.7h1.4v-4.4h1.4v-1.2h1.4v4.2h1.4v-8.8h1.4v12.5h1.4v1.9h1.4v-3.4h1.4v-5.6h1.4v5.3h1.4v-22.4h1.4v21.1h1.4v9.6h1.4v-7.3h1.4v-1.4h1.4v5.6h1.4v-7.9h1.4v12.9h1.4v-4.9h1.4v-0.2h1.4v0.8h1.4v-13.2h1.4v14.8h1.4v0.1h1.4v-1.4h1.4v-3.1h1.4v3.3h1.4v6.5h1.4v-8.3h1.4v5.1h1.4v2.4h1.4v-8.0h1.4v3.5h1.4v2.2h1.4v5.8h1.4v-3.3h1.4v-3.3h1.4v2.8h1.4v-6.5h1.4v9.5h1.4v-1.9h1.4v-0.2h1.4v1.7h1.4v0.8h1.4v-4.5h1.4v12.9h1.4v-12.4h1.4v5.1h1.4v0h1.4v-6.4h1.4v5.8h1.4v-2.6h1.4v-1.2h1.4v-1.5h1.4v7.3h1.4v4.5h1.4v-0.4h1.4v-3.3h1.4v1.8h1.4v-11.9h1.4v12.8h1.4v-3.2h1.4v5.2h1.4v0.7h1.4v-2.3h1.4v-0.9h1.4v0.3h1.4v8.6h1.4v-8.3h1.4v3.3h1.4v2.4h1.4v2.4h1.4v-10.8h1.4v6.6h1.4v-4.8h1.4v3.8h1.4v4.7h1.4v-9.5h1.4v8.1h1.4v-0.9h1.4v3.0h1.4v-1.9h1.4v1.1h1.4v-1.7h1.4v5.9h1.4v-1.3h1.4v-1.4h1.4v-13.7h1.4v15.7h1.4v-5.0h1.4v5.4h1.4v-0.9h0.4V848.0Z" fill="#77AC30"/>
<path d="M84.9 621.8v-6.0M90.5 629.8v-5.5M94.7 622.8v-2.1M96.1 622.8v-3.8M107.3 624.1v-3.1M119.9 626.5v-4.1M126.9 632.4v-2.1M128.3 644.0v-15.6M129.7 638.1v-2.7M136.7 635.3v-7.0M142.3 638.2v-3.3M143.7 643.9v-15.0M146.5 650.0v-3.6M150.7 648.7v-2.6M153.5 647.3v-4.6M159.1 648.3v-6.8M161.9 649.0v-10.2M163.3 653.3v-4.3M166.1 641.7v-17.3M167.5 649.4v-3.3M168.9 656.0v-3.2M170.3 657.2v-9.0M171.7 651.1v-3.8M173.1 658.5v-31.4M180.1 661.9v-6.0M185.7 657.2v-27.8M188.5 655.6v-23.3M195.5 663.0v-6.8M201.1 652.0v-7.5M202.5 650.9v-2.2M203.9 657.1v-2.0M205.3 661.1v-22.1M206.7 656.7v-5.2M209.5 659.5v-7.4M216.5 656.3v-6.5M220.7 643.8v-3.7M222.1 646.1v-3.8M223.5 650.0v-6.1M224.9 643.4v-4.5M237.5 652.2v-11.3M241.7 646.2v-6.6M247.3 637.3v-2.4M252.9 646.2v-3.3M255.7 638.2v-10.0M257.1 642.3v-4.2M276.7 638.9v-2.3M280.9 643.0v-6.3M300.5 652.3v-16.3M301.9 640.2v-2.5M304.7 648.2v-2.3M308.9 652.5v-10.6M314.5 665.0v-3.9M317.3 660.4v-4.3M318.7 667.4v-9.5M321.5 661.5v-10.7M324.3 661.7v-5.5M331.3 665.4v-7.2M334.1 665.3v-14.1M342.5 673.9v-9.5M350.9 668.4v-3.7M352.3 668.8v-13.1M362.1 664.7v-13.3M373.3 678.8v-21.1M378.9 677.3v-9.8M383.1 676.9v-4.0M388.7 684.6v-35.6M399.9 683.3v-2.3M402.7 683.4v-4.5M406.9 681.6v-2.6M409.7 679.1v-7.7M425.1 687.7v-10.1M426.5 691.9v-15.4M439.1 687.9v-4.2M441.9 694.4v-4.6M443.3 696.2v-7.2M446.1 695.0v-2.9M453.1 687.6v-7.2M458.7 694.6v-17.7M468.5 695.8v-5.3M482.5 704.2v-8.2M483.9 704.2v-5.3M490.9 702.3v-8.0M495.1 706.5v-3.6M500.7 708.2v-9.2M521.7 712.9v-11.0M534.3 713.1v-2.3M539.9 710.7v-2.6M553.9 723.1v-4.8M560.9 715.9v-13.5M563.7 723.1v-20.0M565.1 718.8v-9.7M567.9 717.0v-5.3M580.5 722.8v-9.6M583.3 719.0v-6.5M586.1 722.0v-3.9M591.7 724.1v-17.3M600.1 724.8v-4.7M607.1 729.1v-6.5M609.9 729.6v-2.5M611.3 716.4v-9.0M615.5 729.8v-12.5M619.7 736.4v-22.2M628.1 733.4v-12.7M629.5 739.1v-2.9M630.9 735.8v-4.7M633.7 735.3v-7.3M642.1 738.8v-2.3M643.5 734.3v-2.5M646.3 734.8v-4.8M653.3 736.7v-5.5M654.7 735.5v-20.4M661.7 742.2v-8.2M674.3 744.8v-4.6M681.3 753.2v-9.6M684.1 749.1v-2.5M689.7 743.2v-8.0M692.5 750.4v-20.6M695.3 751.5v-3.1M700.9 755.4v-10.7" stroke="#77AC30" stroke-width="1.4" stroke-dasharray="1.3 1.3" fill="none"/>
<path d="M84.9 623.3v6.1M97.5 622.1v18.7M101.7 625.1v6.6M107.3 625.6v3.0M111.5 627.7v30.4M119.9 628.0v3.1M129.7 639.6v4.9M150.7 650.2v31.4M156.3 658.0v3.8M182.9 657.1v21.6M185.7 658.7v4.2M187.1 665.8v12.3M191.3 663.4v2.4M195.5 664.5v3.5M202.5 652.4v2.2M217.9 653.7v3.7M220.7 645.3v3.0M229.1 654.6v8.7M231.9 645.4v4.3M233.3 643.7v8.7M234.7 643.6v5.1M243.1 652.0v6.7M245.9 647.2v2.8M247.3 638.8v6.1M252.9 647.7v5.0M255.7 639.7v18.9M257.1 643.8v6.1M259.9 632.5v2.4M264.1 644.3v11.9M279.5 644.5v8.3M283.7 649.5v8.8M285.1 653.3v8.6M289.3 648.1v10.6M292.1 652.8v18.1M297.7 652.9v9.5M310.3 664.0v43.3M325.7 668.0v14.9M329.9 658.4v27.0M336.9 667.6v13.7M352.3 670.3v7.4M353.7 677.0v7.4M364.9 673.8v2.6M376.1 680.7v11.4M377.5 677.6v14.2M383.1 678.4v7.5M404.1 682.2v9.5M408.3 682.3v3.7M415.3 680.7v16.3M427.9 691.4v8.6M430.7 694.1v21.4M436.3 689.8v8.5M443.3 697.7v9.2M447.5 697.3v4.1M453.1 689.1v4.9M460.1 701.4v21.3M467.1 697.1v2.4M468.5 697.3v5.9M488.1 700.4v6.9M489.5 701.0v13.1M497.9 703.3v2.4M504.9 710.0v8.7M509.1 710.8v3.4M513.3 706.5v10.1M520.3 707.1v4.3M532.9 710.8v20.6M539.9 712.2v8.1M546.9 707.4v17.2M549.7 716.1v7.3M558.1 710.7v8.1M559.5 720.6v3.5M569.3 727.2v4.9M577.7 720.0v8.6M579.1 719.6v9.9M584.7 719.3v12.2M587.5 714.7v13.6M591.7 725.6v12.7M595.9 702.9v18.1M607.1 730.6v3.9M621.1 729.7v3.2M629.5 740.6v15.2M649.1 741.4v10.9M653.3 738.2v7.6M654.7 737.0v6.9M658.9 747.3v7.3M674.3 746.3v9.4M679.9 752.3v25.8M688.3 754.2v9.2M691.1 752.8v4.7M702.3 755.5v26.5" stroke="#262626" stroke-width="1.2" stroke-dasharray="1.2 1.4" fill="none"/>
<path d="M80.0 848.0V651.5h1.4v8.2h1.4v-3.6h1.4v0.2h1.4v-1.8h1.4v1.9h1.4v-0.3h1.4v-3.7h1.4v2.9h1.4v0.9h1.4v3.7h1.4v-2.5h1.4v-5.7h1.4v7.8h1.4v-0.8h1.4v2.7h1.4v-0.4h1.4v-3.8h1.4v-0.2h1.4v2.8h1.4v-0.3h1.4v2.9h1.4v-0.9h1.4v1.6h1.4v2.5h1.4v-1.8h1.4v-0.1h1.4v3.4h1.4v1.6h1.4v-0.4h1.4v-5.3h1.4v5.3h1.4v-0.5h1.4v4.0h1.4v-9.0h1.4v7.3h1.4v0.9h1.4v1.7h1.4v-1.6h1.4v0.5h1.4v1.9h1.4v-3.8h1.4v5.0h1.4v-4.2h1.4v2.7h1.4v5.3h1.4v-0.6h1.4v0.6h1.4v2.6h1.4v-1.4h1.4v0.4h1.4v-2.5h1.4v0.9h1.4v6.3h1.4v-5.4h1.4v5.4h1.4v-0.9h1.4v3.8h1.4v-6.3h1.4v5.3h1.4v-4.4h1.4v0.9h1.4v6.1h1.4v-0.1h1.4v-3.7h1.4v3.7h1.4v-2.3h1.4v-1.5h1.4v3.3h1.4v-6.0h1.4v0.2h1.4v-4.0h1.4v8.5h1.4v-2.8h1.4v1.3h1.4v1.4h1.4v0h1.4v1.1h1.4v-0.8h1.4v3.7h1.4v-8.1h1.4v7.7h1.4v-1.1h1.4v-5.6h1.4v3.5h1.4v-6.5h1.4v6.1h1.4v-2.7h1.4v-2.9h1.4v-1.4h1.4v1.0h1.4v-1.1h1.4v-1.1h1.4v0.6h1.4v2.3h1.4v-4.5h1.4v-2.2h1.4v7.7h1.4v-5.5h1.4v0.8h1.4v-2.4h1.4v-1.7h1.4v4.0h1.4v0.3h1.4v-5.0h1.4v-1.0h1.4v2.0h1.4v0.2h1.4v-2.6h1.4v3.6h1.4v-2.8h1.4v-3.2h1.4v1.8h1.4v0.3h1.4v-0.2h1.4v-1.9h1.4v3.2h1.4v-4.6h1.4v3.8h1.4v-1.7h1.4v-2.5h1.4v0.5h1.4v-2.5h1.4v-0.2h1.4v-0.1h1.4v4.9h1.4v-1.2h1.4v-3.1h1.4v1.4h1.4v-1.0h1.4v5.8h1.4v-4.5h1.4v0.8h1.4v3.3h1.4v0.8h1.4v1.7h1.4v-3.4h1.4v-3.6h1.4v0.8h1.4v6.0h1.4v-6.3h1.4v4.9h1.4v1.5h1.4v-1.5h1.4v1.5h1.4v-3.2h1.4v1.8h1.4v-0.8h1.4v8.8h1.4v-3.8h1.4v-0.6h1.4v-0.9h1.4v3.3h1.4v0.6h1.4v-0.5h1.4v-2.0h1.4v1.1h1.4v-1.0h1.4v-0.2h1.4v6.4h1.4v-2.0h1.4v3.5h1.4v-1.1h1.4v0.3h1.4v0.4h1.4v1.5h1.4v5.8h1.4v-2.9h1.4v-3.1h1.4v5.9h1.4v-3.9h1.4v-1.9h1.4v-1.3h1.4v1.0h1.4v7.1h1.4v-0.6h1.4v-2.9h1.4v2.7h1.4v-2.7h1.4v3.8h1.4v3.4h1.4v-1.1h1.4v-3.6h1.4v1.0h1.4v3.4h1.4v1.1h1.4v-3.0h1.4v2.0h1.4v3.1h1.4v-1.9h1.4v-3.6h1.4v7.0h1.4v-11.8h1.4v3.8h1.4v8.6h1.4v1.2h1.4v-2.8h1.4v-2.5h1.4v-1.2h1.4v2.0h1.4v-4.0h1.4v7.6h1.4v0.5h1.4v-3.9h1.4v8.1h1.4v-1.8h1.4v2.4h1.4v-6.3h1.4v6.5h1.4v-7.8h1.4v2.4h1.4v3.3h1.4v-3.7h1.4v1.2h1.4v2.5h1.4v-2.7h1.4v-0.6h1.4v5.7h1.4v-2.1h1.4v0.2h1.4v-1.8h1.4v-1.3h1.4v4.4h1.4v-2.7h1.4v3.7h1.4v-0.1h1.4v-0.6h1.4v4.3h1.4v-3.7h1.4v1.5h1.4v-0.5h1.4v1.0h1.4v3.0h1.4v2.8h1.4v-4.5h1.4v-0.8h1.4v0.4h1.4v0.8h1.4v4.4h1.4v-4.6h1.4v-1.6h1.4v-3.3h1.4v7.2h1.4v1.1h1.4v-0.5h1.4v0.8h1.4v0.9h1.4v-1.8h1.4v2.5h1.4v-2.4h1.4v2.3h1.4v7.7h1.4v-4.8h1.4v-0.5h1.4v-0.4h1.4v0.8h1.4v3.9h1.4v-5.5h1.4v2.6h1.4v-0.4h1.4v4.2h1.4v-1.2h1.4v-3.0h1.4v-3.0h1.4v7.5h1.4v1.9h1.4v-4.7h1.4v5.9h1.4v-7.7h1.4v-1.0h1.4v0.7h1.4v6.9h1.4v-2.6h1.4v3.2h1.4v-9.5h1.4v9.7h1.4v-1.3h1.4v4.4h1.4v-2.8h1.4v-5.3h1.4v8.7h1.4v-4.1h1.4v3.4h1.4v-5.9h1.4v3.8h1.4v1.8h1.4v0.6h1.4v-0.3h1.4v-5.2h1.4v2.9h1.4v-1.6h1.4v4.1h1.4v-5.4h1.4v9.9h1.4v-6.5h1.4v4.8h1.4v-4.5h1.4v-0.7h1.4v9.3h1.4v-9.4h1.4v-2.1h1.4v9.0h1.4v-4.9h1.4v4.6h1.4v3.9h1.4v-4.9h1.4v1.9h1.4v0.8h1.4v2.1h1.4v2.9h1.4v-0.2h1.4v-5.2h1.4v1.4h1.4v4.5h1.4v3.4h1.4v-4.9h1.4v-0.6h1.4v1.8h1.4v0.3h1.4v1.4h1.4v-0.9h1.4v1.4h1.4v-2.3h1.4v4.8h1.4v-0.2h1.4v-0.8h1.4v-4.6h1.4v2.3h1.4v-1.3h1.4v4.3h1.4v-1.1h1.4v0h1.4v5.2h1.4v-4.7h1.4v4.9h1.4v1.9h1.4v-1.9h1.4v-3.9h1.4v2.3h1.4v-1.7h1.4v1.5h1.4v-0.2h1.4v-10.2h1.4v10.4h1.4v1.4h1.4v1.4h1.4v-0.5h1.4v-0.2h1.4v-0.7h1.4v4.4h1.4v-4.2h1.4v0.2h1.4v2.1h1.4v-0.3h1.4v-2.5h1.4v5.9h1.4v1.5h1.4v-2.1h1.4v-2.8h1.4v3.7h1.4v2.3h1.4v-4.8h1.4v3.4h1.4v3.3h1.4v-5.3h1.4v4.8h1.4v-6.9h1.4v8.4h1.4v2.5h1.4v-2.0h1.4v-0.5h1.4v-3.7h1.4v0.4h1.4v0.2h1.4v4.6h1.4v-1.6h1.4v3.9h1.4v-3.4h1.4v3.1h1.4v-0.5h1.4v-0.9h1.4v-11.5h1.4v14.4h1.4v-8.3h1.4v13.5h1.4v-7.7h1.4v3.2h1.4v4.5h1.4v-8.8h1.4v1.4h1.4v5.8h1.4v-6.1h1.4v3.6h1.4v0.1h1.4v1.4h1.4v-0.7h1.4v2.8h1.4v-3.7h1.4v2.3h1.4v-3.3h1.4v5.6h1.4v-6.2h1.4v6.5h1.4v-2.6h1.4v6.2h1.4v-2.9h1.4v0.6h1.4v-2.4h1.4v3.0h1.4v1.9h1.4v-5.4h1.4v2.7h1.4v1.3h1.4v5.8h1.4v-9.1h1.4v2.8h1.4v1.3h1.4v0h1.4v2.3h1.4v-2.2h1.4v-2.2h1.4v2.6h1.4v-2.2h1.4v3.5h1.4v0.9h1.4v-10.4h1.4v12.7h1.4v-4.5h1.4v2.2h1.4v1.4h1.4v-0.4h1.4v3.4h1.4v1.2h1.4v-12.3h1.4v11.5h1.4v-2.4h1.4v1.6h1.4v-0.8h1.4v-1.8h1.4v2.3h1.4v0.9h1.4v0.6h1.4v2.6h1.4v-0.9h1.4v-3.4h1.4v6.0h1.4v-1.7h1.4v-3.3h1.4v3.5h1.4v1.1h0.4V848.0Z" fill="#808080"/>
<path d="M194.7 465.8V846.4M375.2 543.0V846.4" stroke="#808080" stroke-width="2.4" fill="none"/>
<path d="M459.1 579.0V846.4M514.2 599.1V846.4M616.3 646.9V846.4M660.3 665.8V846.4M678.7 673.8V846.4M695.2 686.0V846.4" stroke="#808080" stroke-width="2.1" fill="none"/>
<path d="M80.0 848.0V690.0h1.4v1.0h1.4v-1.4h1.4v-6.9h1.4v-1.4h1.4v10.0h1.4v-1.8h1.4v-1.5h1.4v3.9h1.4v-5.7h1.4v-4.4h1.4v6.9h1.4v2.2h1.4v-4.4h1.4v8.3h1.4v-3.4h1.4v4.0h1.4v-0.6h1.4v-2.2h1.4v1.2h1.4v-5.5h1.4v5.7h1.4v-2.7h1.4v6.0h1.4v-2.6h1.4v2.4h1.4v-2.3h1.4v-1.9h1.4v1.4h1.4v-0.2h1.4v4.9h1.4v-1.0h1.4v1.3h1.4v-2.4h1.4v3.1h1.4v-1.2h1.4v7.8h1.4v-8.4h1.4v3.5h1.4v-3.2h1.4v0.2h1.4v-0.3h1.4v9.1h1.4v-1.8h1.4v2.1h1.4v-0.6h1.4v-2.6h1.4v-1.9h1.4v1.1h1.4v-4.9h1.4v7.3h1.4v-0.1h1.4v0.5h1.4v6.3h1.4v-7.8h1.4v4.6h1.4v-2.1h1.4v1.8h1.4v0.7h1.4v4.8h1.4v-4.6h1.4v2.7h1.4v5.4h1.4v0.6h1.4v-3.0h1.4v0.7h1.4v4.2h1.4v-8.9h1.4v-5.6h1.4v9.1h1.4v0.3h1.4v3.2h1.4v-1.2h1.4v4.2h1.4v-5.8h1.4v4.3h1.4v-2.3h1.4v-1.1h1.4v2.4h1.4v-2.8h1.4v-0.6h1.4v-4.8h1.4v3.9h1.4v-2.8h1.4v3.7h1.4v-0.6h1.4v-0.7h1.4v-2.6h1.4v0.8h1.4v1.5h1.4v1.9h1.4v-3.7h1.4v4.1h1.4v-4.6h1.4v-4.3h1.4v3.3h1.4v-0.1h1.4v-2.4h1.4v0.4h1.4v2.2h1.4v-3.5h1.4v1.8h1.4v1.1h1.4v-4.1h1.4v1.2h1.4v-1.8h1.4v4.1h1.4v2.5h1.4v-2.6h1.4v-7.2h1.4v7.5h1.4v-5.3h1.4v2.7h1.4v-3.9h1.4v8.4h1.4v-4.5h1.4v-2.4h1.4v1.9h1.4v3.6h1.4v-9.2h1.4v5.7h1.4v-1.1h1.4v-5.5h1.4v5.7h1.4v0.9h1.4v-2.9h1.4v-2.4h1.4v0.9h1.4v2.3h1.4v2.5h1.4v-1.6h1.4v2.0h1.4v-5.0h1.4v-0.3h1.4v7.6h1.4v0.6h1.4v-4.8h1.4v1.6h1.4v0h1.4v1.4h1.4v0.6h1.4v-0.4h1.4v-0.7h1.4v-4.9h1.4v10.2h1.4v-7.2h1.4v1.4h1.4v-1.9h1.4v3.6h1.4v-1.6h1.4v2.9h1.4v-0.7h1.4v4.6h1.4v0h1.4v-4.1h1.4v7.4h1.4v-10.6h1.4v14.8h1.4v-5.2h1.4v1.2h1.4v-0.5h1.4v0.8h1.4v8.5h1.4v-6.2h1.4v0.4h1.4v-1.1h1.4v-0.1h1.4v4.9h1.4v1.3h1.4v-4.8h1.4v2.2h1.4v0.1h1.4v-0.4h1.4v2.2h1.4v-7.9h1.4v5.9h1.4v10.3h1.4v-13.3h1.4v5.6h1.4v2.7h1.4v-3.1h1.4v-1.0h1.4v4.6h1.4v1.0h1.4v1.8h1.4v-7.5h1.4v4.8h1.4v2.8h1.4v3.4h1.4v-2.4h1.4v-9.5h1.4v7.9h1.4v-0.6h1.4v1.8h1.4v1.2h1.4v2.5h1.4v-6.0h1.4v4.6h1.4v-3.0h1.4v-1.5h1.4v-2.0h1.4v3.5h1.4v3.0h1.4v0.7h1.4v-8.3h1.4v7.6h1.4v2.2h1.4v0h1.4v1.0h1.4v-5.1h1.4v4.9h1.4v-6.2h1.4v5.4h1.4v-1.7h1.4v-1.5h1.4v0.3h1.4v3.5h1.4v2.3h1.4v-6.6h1.4v5.1h1.4v1.1h1.4v-6.9h1.4v9.6h1.4v-3.7h1.4v3.3h1.4v-0.6h1.4v3.3h1.4v0.4h1.4v-7.2h1.4v7.2h1.4v1.7h1.4v-9.5h1.4v6.4h1.4v1.5h1.4v-3.6h1.4v7.0h1.4v-2.1h1.4v-2.4h1.4v-1.5h1.4v3.4h1.4v1.1h1.4v0.3h1.4v-0.3h1.4v-1.2h1.4v2.9h1.4v1.8h1.4v1.7h1.4v-3.9h1.4v-0.4h1.4v-1.5h1.4v8.3h1.4v-0.7h1.4v-6.3h1.4v-1.5h1.4v5.7h1.4v-2.1h1.4v4.4h1.4v4.7h1.4v-5.7h1.4v-2.6h1.4v6.4h1.4v0.7h1.4v-0.6h1.4v-0.7h1.4v-0.5h1.4v2.1h1.4v-5.3h1.4v5.8h1.4v-1.3h1.4v3.0h1.4v-7.4h1.4v3.8h1.4v4.2h1.4v-3.1h1.4v3.0h1.4v-3.1h1.4v2.9h1.4v-5.5h1.4v3.4h1.4v1.9h1.4v-1.3h1.4v3.0h1.4v-0.9h1.4v-5.3h1.4v2.8h1.4v4.1h1.4v-1.0h1.4v2.5h1.4v-3.5h1.4v2.1h1.4v1.8h1.4v-5.2h1.4v4.6h1.4v-4.2h1.4v5.1h1.4v3.5h1.4v-1.5h1.4v-0.2h1.4v-0.1h1.4v3.0h1.4v-4.2h1.4v8.7h1.4v-3.8h1.4v0.4h1.4v0.8h1.4v-3.3h1.4v4.8h1.4v-0.9h1.4v-8.0h1.4v6.5h1.4v0.1h1.4v-2.6h1.4v-1.7h1.4v5.5h1.4v1.8h1.4v2.9h1.4v-2.3h1.4v3.8h1.4v-4.9h1.4v0.4h1.4v0.4h1.4v-1.1h1.4v4.1h1.4v-5.4h1.4v3.0h1.4v0.3h1.4v-0.9h1.4v7.7h1.4v-5.6h1.4v-2.0h1.4v4.8h1.4v-2.9h1.4v1.6h1.4v-2.9h1.4v-2.9h1.4v11.0h1.4v-4.1h1.4v-1.9h1.4v-1.6h1.4v1.6h1.4v0.9h1.4v1.0h1.4v-5.0h1.4v4.6h1.4v6.2h1.4v-1.3h1.4v3.3h1.4v-2.8h1.4v-2.3h1.4v5.9h1.4v-4.4h1.4v2.4h1.4v-2.7h1.4v3.8h1.4v-4.5h1.4v8.6h1.4v-5.0h1.4v3.9h1.4v-2.8h1.4v2.4h1.4v2.4h1.4v-6.7h1.4v0.8h1.4v-6.1h1.4v8.7h1.4v0.5h1.4v6.0h1.4v-1.2h1.4v-2.6h1.4v4.2h1.4v-3.6h1.4v3.7h1.4v0.4h1.4v-0.9h1.4v-0.6h1.4v0.2h1.4v5.2h1.4v1.7h1.4v-5.7h1.4v0.4h1.4v4.6h1.4v-2.4h1.4v6.2h1.4v-4.3h1.4v-0.3h1.4v-2.9h1.4v5.2h1.4v-5.6h1.4v8.2h1.4v-1.7h1.4v0.4h1.4v-1.0h1.4v-3.1h1.4v3.3h1.4v-1.6h1.4v2.4h1.4v-1.3h1.4v4.8h1.4v0.1h1.4v-3.3h1.4v1.3h1.4v-1.0h1.4v1.9h1.4v6.6h1.4v-7.5h1.4v-13.8h1.4v17.0h1.4v-2.5h1.4v-1.6h1.4v-1.3h1.4v5.4h1.4v-3.9h1.4v5.3h1.4v-2.0h1.4v-3.3h1.4v3.1h1.4v2.3h1.4v-3.6h1.4v-2.3h1.4v4.5h1.4v6.7h1.4v-7.9h1.4v0.2h1.4v-0.9h1.4v6.7h1.4v-4.6h1.4v1.4h1.4v1.4h1.4v0h1.4v-8.4h1.4v10.6h1.4v-6.7h1.4v1.6h1.4v3.8h1.4v2.6h1.4v-0.8h1.4v-1.4h1.4v0.2h1.4v3.2h1.4v-1.4h1.4v-2.4h1.4v-0.6h1.4v3.4h1.4v0.3h1.4v-4.8h1.4v5.8h1.4v2.5h1.4v2.0h1.4v-0.8h1.4v-3.8h0.4V848.0Z" fill="#EDB120"/>
<path d="M194.7 465.8V846.4M375.2 543.0V846.4" stroke="#EDB120" stroke-width="2.4" stroke-dasharray="8 4.7" fill="none"/>
<path d="M459.1 579.0V846.4M514.2 599.1V846.4M616.3 646.9V846.4M660.3 665.8V846.4M678.7 673.8V846.4M695.2 686.0V846.4" stroke="#EDB120" stroke-width="2.1" stroke-dasharray="10 2.7" fill="none"/>
<path d="M555.7 620.0V846.4M588.8 625.0V846.4M639.8 654.2V846.4" stroke="#EDB120" stroke-width="2.0" fill="none"/>
<path d="M514.2 599.1v2.5" stroke="#1a1a1a" stroke-width="2.4"/>
<path d="M588.8 625.0v8.0" stroke="#1a1a1a" stroke-width="2.4"/>
<text x="73.4" y="475.8" font-size="25.35" text-anchor="end">0</text><text x="72.2" y="582.6" font-size="25.35" text-anchor="end">-20</text><text x="72.2" y="689.4" font-size="25.35" text-anchor="end">-40</text><text x="72.2" y="796.2" font-size="25.35" text-anchor="end">-60</text>
<text transform="translate(26.6 652.0) rotate(-90)" x="0" y="0" font-size="27.66" text-anchor="middle">magnitude (dB)</text>
<text transform="translate(3.0 477.7) scale(0.9 1)" font-size="38.5" stroke="#000" stroke-width="0.5">c</text><text transform="translate(22.4 477.7) scale(0.81 1)" font-size="38.5" stroke="#000" stroke-width="0.9">)</text>
<text x="329.5" y="889.0" font-size="25.35" text-anchor="middle">10<tspan font-size="20.28" dy="-12.5">5</tspan></text><text x="708.0" y="889.0" font-size="25.35" text-anchor="middle">10<tspan font-size="20.28" dy="-12.5">6</tspan></text>
<text x="393.9" y="924.3" font-size="27.66" text-anchor="middle">frequency (Hz)</text>
<path d="M833.0 860.0V677.6h1.25v-1.0h1.25v-13.7h1.25v19.5h1.25v-10.5h1.25v-5.7h1.25v20.5h1.25v-14.8h1.25v6.4h1.25v-8.9h1.25v5.1h1.25v10.3h1.25v-12.8h1.25v-2.9h1.25v14.6h1.25v-12.3h1.25v11.0h1.25v9.8h1.25v-4.5h1.25v-7.7h1.25v-5.8h1.25v-2.0h1.25v10.0h1.25v-2.0h1.25v-7.1h1.25v8.5h1.25v-1.2h1.25v-2.3h1.25v13.6h1.25v-22.5h1.25v0.9h1.25v8.1h1.25v2.4h1.25v-7.9h1.25v11.9h1.25v-7.4h1.25v12.4h1.25v4.4h1.25v-2.1h1.25v-15.8h1.25v8.1h1.25v6.4h1.25v-12.0h1.25v12.7h1.25v0.9h1.25v-11.0h1.25v5.8h1.25v2.4h1.25v0.7h1.25v5.6h1.25v-6.3h1.25v5.7h1.25v-12.6h1.25v7.6h1.25v-2.5h1.25v11.2h1.25v-6.4h1.25v12.7h1.25v-8.0h1.25v-3.2h1.25v-4.8h1.25v14.2h1.25v2.6h1.25v-5.0h1.25v-2.3h1.25v7.2h1.25v0.7h1.25v6.3h1.25v-10.2h1.25v14.8h1.25v-11.7h1.25v2.9h1.25v10.1h1.25v2.7h1.25v-6.0h1.25v1.4h1.25v2.5h1.25v-9.2h1.25v9.9h1.25v8.5h1.25v2.1h1.25v-6.4h1.25v1.6h1.25v0.4h1.25v8.1h1.25v-14.4h1.25v9.5h1.25v0.3h1.25v-0.9h1.25v1.3h1.25v-4.7h1.25v-0.8h1.25v9.2h1.25v-2.9h1.25v5.8h1.25v2.3h1.25v-3.7h1.25v-5.4h1.25v-2.1h1.25v-0.3h1.25v-7.4h1.25v6.1h1.25v0.7h1.25v-4.1h1.25v-3.5h1.25v-1.3h1.25v3.4h1.25v0.5h1.25v-2.4h1.25v-12.2h1.25v6.2h1.25v-2.9h1.25v1.5h1.25v2.1h1.25v-5.6h1.25v-11.4h1.25v5.5h1.25v-4.8h1.25v-8.3h1.25v11.5h1.25v-3.6h1.25v3.0h1.25v-8.1h1.25v-8.4h1.25v-6.2h1.25v11.7h1.25v-6.8h1.25v3.7h1.25v-15.2h1.25v18.9h1.25v-7.1h1.25v0.6h1.25v-6.0h1.25v-5.8h1.25v6.2h1.25v-5.6h1.25v0h1.25v-0.4h1.25v-0.4h1.25v1.1h1.25v-7.9h1.25v9.3h1.25v-0.4h1.25v-0.7h1.25v-5.9h1.25v-1.3h1.25v3.2h1.25v6.9h1.25v-12.5h1.25v-1.0h1.25v2.7h1.25v-5.2h1.25v14.9h1.25v-13.2h1.25v7.2h1.25v-8.0h1.25v13.8h1.25v-5.8h1.25v-3.0h1.25v2.6h1.25v-3.2h1.25v-10.0h1.25v3.3h1.25v3.7h1.25v6.4h1.25v-6.1h1.25v-13.7h1.25v20.2h1.25v-9.0h1.25v-7.7h1.25v0.4h1.25v3.1h1.25v-4.9h1.25v5.9h1.25v1.5h1.25v-11.5h1.25v1.7h1.25v-3.1h1.25v11.9h1.25v-1.6h1.25v0.2h1.25v-1.1h1.25v4.7h1.25v16.8h1.25v-16.5h1.25v-5.4h1.25v1.7h1.25v4.3h1.25v-12.7h1.25v7.5h1.25v7.5h1.25v-11.0h1.25v-0.8h1.25v1.4h1.25v5.1h1.25v-2.4h1.25v4.3h1.25v-21.0h1.25v20.4h1.25v1.1h1.25v-0.5h1.25v6.9h1.25v-0.6h1.25v-5.0h1.25v7.0h1.25v-32.8h1.25v24.9h1.25v8.2h1.25v-1.3h1.25v6.6h1.25v-6.1h1.25v-8.2h1.25v15.2h1.25v-23.4h1.25v21.5h1.25v12.7h1.25v-8.3h1.25v-3.7h1.25v0.7h1.25v-4.6h1.25v6.3h1.25v-4.3h1.25v10.0h1.25v-4.8h1.25v-5.4h1.25v9.2h1.25v5.3h1.25v-7.0h1.25v4.8h1.25v6.3h1.25v-10.8h1.25v5.7h1.25v-1.5h1.25v4.3h1.25v-8.1h1.25v2.1h1.25v2.7h1.25v5.8h1.25v3.7h1.25v-8.2h1.25v12.2h1.25v-15.6h1.25v0.8h1.25v-1.0h1.25v2.0h1.25v5.2h1.25v2.6h1.25v-6.4h1.25v-3.6h1.25v-2.8h1.25v-4.0h1.25v8.8h1.25v-9.0h1.25v13.3h1.25v-11.4h1.25v15.7h1.25v-25.6h1.25v12.9h1.25v-16.3h1.25v16.1h1.25v-1.2h1.25v5.2h1.25v5.3h1.25v-2.2h1.25v-14.3h1.25v13.8h1.25v-14.8h1.25v4.6h1.25v8.5h1.25v-17.1h1.25v8.5h1.25v3.9h1.25v-6.5h1.25v9.8h1.25v-11.3h1.25v15.2h1.25v-4.1h1.25v-1.4h1.25v7.3h1.25v-12.1h1.25v7.4h1.25v1.2h1.25v-2.0h1.25v-8.1h1.25v6.3h1.25v-4.2h1.25v-2.7h1.25v7.5h1.25v7.8h1.25v-4.7h1.25v-0.9h1.25v-15.4h1.25v25.8h1.25v-20.5h1.25v12.2h1.25v3.9h1.25v-7.8h1.25v5.2h1.25v3.1h1.25v-4.7h1.25v2.2h1.25v2.2h1.25v-15.4h1.25v15.4h1.25v-5.4h1.25v-1.0h1.25v-2.6h1.25v4.9h1.25v2.3h1.25v-37.7h1.25v40.4h1.25v-16.9h1.25v15.9h1.25v-2.4h1.25v14.3h1.25v-9.9h1.25v-8.1h1.25v2.0h1.25v10.6h1.25v1.3h1.25v-5.8h1.25v-0.9h1.25v6.3h1.25v-11.6h1.25v9.9h1.25v1.9h1.25v0.6h1.25v-11.6h1.25v4.4h1.25v11.0h1.25v-5.8h1.25v-2.1h1.25v-1.5h1.25v5.0h1.25v5.0h1.25v-5.9h1.25v5.5h1.25v4.8h1.25v-9.1h1.25v-4.9h1.25v1.2h1.25v4.0h1.25v4.1h1.25v0.9h1.25v7.9h1.25v-12.1h1.25v4.3h1.25v-7.7h1.25v1.3h1.25v-12.6h1.25v4.0h1.25v29.7h1.25v-10.6h1.25v1.5h1.25v-8.8h1.25v1.4h1.25v2.2h1.25v10.1h1.25v-5.1h1.25v6.6h1.25v-10.3h1.25v6.1h1.25v3.4h1.25v0.1h1.25v7.9h1.25v-14.3h1.25v12.1h1.25v-7.1h1.25v-0.5h1.25v1.1h1.25v-1.5h1.25v-6.3h1.25v12.7h1.25v-4.7h1.25v-2.1h1.25v-8.5h1.25v14.0h1.25v-6.8h1.25v7.1h1.25v-15.2h1.25v22.0h1.25v-4.2h1.25v2.9h1.25v-5.4h1.25v-1.5h1.25v2.7h1.25v0.1h1.25v6.4h1.25v-6.5h1.25v8.6h1.25v-1.6h1.25v-3.6h1.25v-4.5h1.25v13.3h1.25v0.3h1.25v-13.3h1.25v21.1h1.25v-15.3h1.25v9.8h1.25v-17.6h1.25v11.5h1.25v-0.2h1.25v3.9h1.25v-6.0h1.25v-3.3h1.25v7.2h1.25v-12.4h1.25v-2.2h1.25v1.5h1.25v13.5h1.25v-4.2h1.25v-2.9h1.25v9.8h1.25v-4.6h1.25v-5.0h1.25v1.9h1.25v1.8h1.25v-0.8h1.25v6.0h1.25v-1.7h1.25v-1.1h1.25v2.4h1.25v-8.5h1.25v11.2h1.25v2.9h1.25v-3.8h1.25v-3.6h1.25v2.5h1.25v-2.4h1.25v9.7h1.25v-1.7h1.25v-6.0h1.25v3.8h1.25v-4.0h1.25v3.9h1.25v-3.1h1.25v10.4h1.25v-10.6h1.25v9.9h1.25v-8.0h1.25v5.5h1.25v-2.4h1.25v-2.2h1.25v-1.9h1.25v-3.8h1.25v13.3h1.25v-0.7h1.25v0.6h1.25v-4.0h1.25v5.1h1.25v-4.9h1.25v-1.5h1.25v2.3h1.25v-4.4h1.25v-2.8h1.25v11.1h1.25v-1.1h1.25v1.7h1.25v15.2h1.25v-16.7h1.25v-7.2h1.25v1.5h1.25v8.6h1.25v-4.8h1.25v4.7h1.25v-0.3h1.25v-3.2h1.25v-8.8h1.25v5.7h1.25v1.8h1.25v5.1h1.25v-11.0h1.25v11.4h1.25v9.3h1.25v-13.9h1.25v-5.2h1.25v0.3h1.25v10.4h1.25v-2.0h1.25v13.5h1.25v-17.8h1.25v-3.2h1.25v8.6h1.25v4.7h1.25v5.1h1.25v1.4h1.25v-3.8h1.25v-5.6h1.25v-1.8h1.25v-5.4h1.25v10.2h1.25v-2.1h1.25v-6.5h1.25v4.6h1.25v-3.6h1.25v8.3h1.25v0.8h1.25v1.7h1.25v-49.7h1.25v38.3h1.25v2.1h1.25v-0.7h1.25v6.2h1.25v-0.3h1.25v4.9h1.25v-3.5h1.25v12.1h1.25v-3.9h1.25v-6.1h1.25v-0.2h1.25v4.1h1.25v6.4h1.25v3.2h1.25v2.0h1.25v0.6h0.5V860.0Z" fill="#262626"/>
<path d="M833.0 860.0V701.0h1.4v10.7h1.4v-2.1h1.4v-7.5h1.4v4.4h1.4v-2.9h1.4v2.1h1.4v6.4h1.4v-9.2h1.4v-2.7h1.4v3.1h1.4v6.0h1.4v-0.5h1.4v-3.6h1.4v-4.4h1.4v6.2h1.4v-2.3h1.4v6.8h1.4v-12.8h1.4v13.0h1.4v-3.6h1.4v2.0h1.4v1.4h1.4v-13.9h1.4v9.0h1.4v7.7h1.4v-7.1h1.4v8.2h1.4v-2.2h1.4v-1.4h1.4v2.5h1.4v1.7h1.4v0.3h1.4v0.6h1.4v1.2h1.4v-0.9h1.4v10.6h1.4v-12.1h1.4v0.3h1.4v-5.3h1.4v15.9h1.4v1.0h1.4v1.2h1.4v2.0h1.4v-6.7h1.4v7.3h1.4v-6.6h1.4v6.6h1.4v-3.6h1.4v5.2h1.4v1.5h1.4v0.7h1.4v-2.1h1.4v-0.7h1.4v7.4h1.4v2.0h1.4v-6.1h1.4v-5.2h1.4v8.0h1.4v4.3h1.4v-4.0h1.4v0.1h1.4v5.4h1.4v2.5h1.4v-7.6h1.4v-0.1h1.4v3.4h1.4v-3.1h1.4v8.0h1.4v-6.2h1.4v10.2h1.4v-4.9h1.4v1.2h1.4v5.4h1.4v0.2h1.4v0h1.4v-13.9h1.4v12.2h1.4v11.1h1.4v-11.8h1.4v4.1h1.4v-1.3h1.4v0.3h1.4v8.4h1.4v0h1.4v-1.9h1.4v-5.3h1.4v-14.8h1.4v4.0h1.4v0.3h1.4v-0.7h1.4v3.0h1.4v-1.5h1.4v-3.5h1.4v-7.3h1.4v7.1h1.4v-3.6h1.4v-7.7h1.4v7.2h1.4v-5.6h1.4v9.7h1.4v-13.8h1.4v6.7h1.4v-4.9h1.4v-7.8h1.4v1.4h1.4v-1.2h1.4v2.9h1.4v4.5h1.4v-4.2h1.4v3.1h1.4v-4.4h1.4v-6.4h1.4v1.8h1.4v0.6h1.4v-0.9h1.4v-5.1h1.4v0.9h1.4v-4.6h1.4v0.7h1.4v-3.7h1.4v1.2h1.4v-1.5h1.4v4.2h1.4v-7.6h1.4v-1.6h1.4v3.0h1.4v-6.3h1.4v1.7h1.4v1.6h1.4v-0.1h1.4v-1.7h1.4v3.0h1.4v1.6h1.4v-3.2h1.4v-6.1h1.4v-13.4h1.4v8.3h1.4v3.9h1.4v-6.8h1.4v6.0h1.4v-4.1h1.4v2.0h1.4v2.2h1.4v-1.7h1.4v-8.7h1.4v1.1h1.4v11.6h1.4v-6.4h1.4v5.8h1.4v-6.3h1.4v1.6h1.4v-3.7h1.4v4.0h1.4v-0.4h1.4v-1.1h1.4v2.4h1.4v-2.8h1.4v-9.0h1.4v10.0h1.4v0.7h1.4v-6.6h1.4v6.5h1.4v-8.4h1.4v0.2h1.4v-22.9h1.4v17.1h1.4v11.2h1.4v-2.2h1.4v3.2h1.4v-4.7h1.4v2.1h1.4v0.7h1.4v0.7h1.4v-3.2h1.4v9.2h1.4v-9.6h1.4v1.5h1.4v6.0h1.4v-3.8h1.4v7.2h1.4v-5.0h1.4v-0.1h1.4v4.9h1.4v6.3h1.4v-6.8h1.4v5.7h1.4v-5.7h1.4v3.0h1.4v-0.5h1.4v5.3h1.4v-0.1h1.4v-4.0h1.4v1.6h1.4v2.5h1.4v3.5h1.4v8.7h1.4v-8.9h1.4v7.7h1.4v2.0h1.4v-8.8h1.4v-1.0h1.4v8.5h1.4v-9.0h1.4v11.9h1.4v-5.0h1.4v4.1h1.4v-0.6h1.4v-7.3h1.4v11.4h1.4v-1.6h1.4v-9.8h1.4v2.5h1.4v7.5h1.4v-0.6h1.4v-0.9h1.4v0.4h1.4v-4.5h1.4v1.7h1.4v6.6h1.4v-14.2h1.4v-1.5h1.4v15.1h1.4v-3.2h1.4v0.2h1.4v-4.2h1.4v5.5h1.4v-3.2h1.4v-6.7h1.4v1.3h1.4v7.1h1.4v-3.0h1.4v2.1h1.4v2.8h1.4v-6.5h1.4v8.2h1.4v-10.4h1.4v1.6h1.4v2.7h1.4v0.2h1.4v-6.4h1.4v6.9h1.4v-9.3h1.4v8.4h1.4v2.9h1.4v-2.7h1.4v0h1.4v1.3h1.4v-3.6h1.4v11.7h1.4v-6.1h1.4v-1.0h1.4v1.4h1.4v2.2h1.4v-3.1h1.4v-2.3h1.4v9.4h1.4v-5.7h1.4v1.3h1.4v-5.0h1.4v9.6h1.4v2.2h1.4v-0.3h1.4v-0.2h1.4v-8.2h1.4v14.4h1.4v-3.6h1.4v-3.5h1.4v5.4h1.4v-1.5h1.4v0.8h1.4v-3.2h1.4v2.8h1.4v-1.4h1.4v3.8h1.4v-2.7h1.4v2.6h1.4v-1.1h1.4v2.9h1.4v-10.5h1.4v9.6h1.4v-6.8h1.4v7.0h1.4v11.6h1.4v-6.3h1.4v0.7h1.4v-9.9h1.4v4.4h1.4v2.4h1.4v2.3h1.4v0h1.4v0.9h1.4v-5.7h1.4v12.5h1.4v-6.2h1.4v1.7h1.4v-1.6h1.4v0.5h1.4v0.1h1.4v7.0h1.4v-7.6h1.4v4.1h1.4v3.3h1.4v-9.6h1.4v2.2h1.4v-0.3h1.4v6.4h1.4v-8.8h1.4v6.5h1.4v1.6h1.4v-0.9h1.4v-4.9h1.4v13.9h1.4v-9.5h1.4v0.7h1.4v7.1h1.4v-6.1h1.4v0.2h1.4v-1.3h1.4v0.1h1.4v4.8h1.4v4.1h1.4v-4.8h1.4v1.4h1.4v-8.0h1.4v8.6h1.4v2.7h1.4v-5.0h1.4v-4.4h1.4v3.3h1.4v-2.6h1.4v6.3h1.4v5.8h1.4v-39.5h1.4v36.7h1.4v-19.1h1.4v22.2h1.4v-6.3h1.4v-4.5h1.4v5.2h1.4v-11.7h1.4v12.6h1.4v-0.8h1.4v5.8h1.4v0.1h1.4v-2.6h1.4v4.2h1.4v-0.8h1.4v4.7h1.4v2.3h1.4v0.9h1.4v-8.6h1.4v4.7h1.4v-2.7h1.4v3.0h1.4v0.8h1.4v-7.1h1.4v-2.0h1.4v10.5h1.4v-4.8h1.4v-0.8h1.4v-1.6h1.4v-0.6h1.4v8.0h1.4v1.4h1.4v-4.9h1.4v-1.7h1.4v8.4h1.4v-6.6h1.4v-1.3h1.4v1.3h1.4v4.7h1.4v-2.1h1.4v6.0h1.4v-2.1h1.4v-2.2h1.4v-7.4h1.4v3.6h1.4v9.9h1.4v-0.6h1.4v-4.0h1.4v2.7h1.4v-1.9h1.4v-0.2h1.4v-11.8h1.4v15.5h1.4v-0.5h1.4v-5.9h1.4v-0.1h1.4v6.7h1.4v-3.7h1.4v9.4h1.4v-5.4h1.4v-4.2h1.4v2.8h1.4v-0.5h1.4v0.4h1.4v6.0h1.4v-5.2h1.4v-0.9h1.4v-4.4h1.4v11.8h1.4v-0.8h1.4v-8.9h1.4v13.4h1.4v-14.7h1.4v18.1h1.4v-5.9h1.4v-4.4h1.4v6.4h1.4v3.0h1.4v-15.5h1.4v7.1h1.4v7.6h1.4v-3.1h1.4v-2.7h1.4v2.2h1.4v6.7h1.4v0.2h1.4v-2.2h1.4v6.5h1.4v-4.1h1.4v1.7h1.4v-0.6h1.4v-1.5h1.4v-0.9h1.4v3.3h1.4v-4.1h1.4v1.8h1.4v-9.9h1.4v5.7h1.4v-1.2h1.4v13.5h1.4v-14.8h1.4v8.9h1.4v3.1h1.4v-4.9h1.4v0.8h1.4v1.9h1.4v-8.5h1.4v7.6h1.4v5.9h1.4v-1.4h1.4v-2.6h1.4v0.3h1.4v-0.1h1.4v-2.1h1.4v4.9h1.4v3.8h1.4v-8.6h1.4v4.4h1.4v4.3h1.4v-0.9h1.4v-5.4h1.4v8.5h1.4v4.0h1.4v-3.8h1.4v-1.6h1.4v0.5h1.4v-4.5h0.4V860.0Z" fill="#77AC30"/>
<path d="M835.1 711.6v-23.2M843.5 712.0v-7.8M851.9 705.0v-4.7M865.9 697.5v-9.4M868.7 714.3v-2.2M871.5 715.4v-12.8M891.1 727.6v-2.9M898.1 724.8v-5.9M899.5 731.5v-4.3M900.9 727.9v-3.4M906.5 733.1v-13.9M910.7 741.8v-3.0M916.3 742.7v-2.3M926.1 742.5v-8.9M934.5 747.8v-4.9M941.5 751.7v-3.6M944.3 751.1v-16.7M954.1 755.4v-12.0M963.9 742.3v-2.1M965.3 735.0v-13.9M966.7 742.1v-8.3M968.1 738.5v-2.6M969.5 730.8v-2.6M976.5 734.9v-11.5M980.7 723.6v-11.4M987.7 728.8v-2.6M989.1 724.3v-8.7M996.1 714.4v-10.1M997.5 715.3v-3.5M998.9 710.7v-9.8M1001.7 707.7v-10.6M1010.1 705.2v-2.3M1011.5 699.0v-8.2M1024.1 682.5v-3.1M1026.9 694.6v-9.3M1056.3 690.2v-3.1M1057.7 691.0v-5.6M1060.5 690.8v-2.9M1063.3 682.6v-18.3M1074.5 687.1v-7.5M1084.3 687.9v-9.0M1085.7 695.1v-2.2M1092.7 694.3v-2.0M1102.5 698.0v-8.8M1103.9 699.6v-6.3M1105.3 702.1v-2.7M1106.7 705.6v-11.5M1108.1 714.2v-6.3M1110.9 713.1v-3.5M1112.3 715.1v-3.5M1115.1 705.3v-2.5M1126.3 719.4v-9.0M1127.7 717.7v-5.3M1134.7 716.5v-10.8M1136.1 716.9v-5.9M1148.7 712.9v-5.5M1150.1 718.4v-8.9M1152.9 708.4v-3.9M1154.3 709.7v-8.5M1159.9 718.7v-4.5M1168.3 714.4v-2.6M1173.9 714.0v-6.2M1176.7 714.3v-6.8M1180.9 712.0v-3.9M1185.1 716.5v-11.8M1189.3 716.9v-13.1M1210.3 729.0v-7.9M1217.3 731.9v-4.8M1221.5 730.7v-9.2M1224.3 723.1v-8.0M1228.5 732.9v-10.8M1232.7 738.9v-7.8M1236.9 735.7v-7.2M1239.7 738.0v-6.9M1246.7 741.3v-4.0M1257.9 737.4v-13.0M1266.3 745.0v-4.5M1267.7 744.1v-2.4M1270.5 753.1v-11.0M1271.9 743.5v-4.5M1274.7 751.4v-13.4M1276.1 745.3v-13.3M1281.7 749.2v-24.6M1284.5 748.5v-21.5M1290.1 753.2v-9.4M1299.9 717.1v-4.5M1301.3 753.8v-4.1M1305.5 750.6v-4.3M1306.9 746.1v-4.6M1308.3 751.2v-2.5M1309.7 739.5v-6.5M1311.1 752.1v-22.3M1312.5 751.3v-38.5M1313.9 757.2v-8.8M1318.1 758.9v-7.4M1319.5 758.1v-8.7M1320.9 762.8v-20.4M1329.3 762.4v-8.2M1337.7 758.9v-11.5M1339.1 757.3v-2.2M1341.9 764.8v-5.0M1343.3 766.1v-7.9M1351.7 761.3v-7.4M1353.1 766.0v-6.6M1354.5 764.0v-12.9M1357.3 767.8v-6.8M1362.9 771.8v-16.6M1367.1 769.9v-6.7M1386.7 770.0v-4.1M1388.1 770.4v-3.8M1389.5 776.4v-5.0M1393.7 766.0v-7.9M1400.7 766.6v-2.3M1403.5 778.7v-6.6M1407.7 783.8v-12.2M1414.7 777.2v-5.3M1417.5 786.1v-2.8M1418.9 786.2v-3.5M1427.3 786.0v-11.0M1428.7 785.1v-5.0M1431.5 784.2v-10.3M1435.7 781.8v-7.8M1437.1 780.6v-11.5M1438.5 794.1v-3.2M1445.5 787.3v-6.2M1458.1 788.3v-5.5M1460.9 797.0v-3.4M1462.3 788.4v-5.4M1466.5 796.2v-6.8M1470.7 803.3v-8.4" stroke="#77AC30" stroke-width="1.4" stroke-dasharray="1.3 1.3" fill="none"/>
<path d="M837.9 703.5v4.1M840.7 705.0v25.6M850.5 710.0v5.7M853.3 702.0v11.2M856.1 705.9v41.3M861.7 709.4v3.2M863.1 711.5v22.5M877.1 717.5v2.2M886.9 717.5v9.9M893.9 732.4v2.2M903.7 736.0v19.9M905.1 736.7v4.4M910.7 743.3v18.5M912.1 737.2v4.3M926.1 744.0v6.3M940.1 741.0v97.5M942.9 764.3v32.1M949.9 764.0v12.4M954.1 756.9v5.4M965.3 736.5v2.8M983.5 726.8v5.6M996.1 715.9v19.3M1021.3 703.4v4.6M1036.7 685.0v3.0M1082.9 693.2v35.0M1084.3 689.4v8.2M1091.3 702.6v3.6M1108.1 715.7v26.3M1110.9 714.6v19.3M1115.1 706.8v2.4M1116.5 715.3v7.9M1123.5 716.8v16.3M1129.1 709.5v23.9M1133.3 718.9v10.8M1134.7 718.0v3.7M1147.3 718.6v27.4M1150.1 719.9v28.0M1162.7 721.8v3.9M1165.5 713.0v18.7M1166.9 715.7v3.2M1180.9 713.5v2.5M1183.7 719.0v22.1M1186.5 719.4v4.3M1192.1 725.6v5.5M1213.1 728.1v2.4M1231.3 739.7v25.8M1234.1 730.5v7.8M1245.3 741.1v10.3M1277.5 747.0v17.8M1295.7 745.9v6.3M1301.3 755.3v6.6M1309.7 741.0v16.1M1311.1 753.6v17.9M1315.3 758.8v3.7M1318.1 760.4v10.1M1323.7 767.5v28.1M1333.5 755.6v12.0M1344.7 762.7v13.1M1361.5 763.3v3.1M1365.7 768.7v10.6M1368.5 769.4v16.4M1371.3 757.4v3.7M1383.9 769.2v3.7M1388.1 771.9v3.9M1393.7 767.5v4.1M1399.3 782.9v4.1M1400.7 768.1v2.6M1403.5 780.2v5.6M1409.1 769.8v9.9M1413.3 781.4v6.3M1414.7 778.7v24.9M1417.5 787.6v3.2M1418.9 787.7v19.2M1431.5 785.7v24.5M1434.3 777.6v2.8M1463.7 794.3v4.2M1470.7 804.8v2.2M1473.5 799.4v10.4" stroke="#262626" stroke-width="1.2" stroke-dasharray="1.2 1.4" fill="none"/>
<path d="M833.0 860.0V731.1h1.4v2.1h1.4v1.4h1.4v-6.5h1.4v8.6h1.4v-5.3h1.4v4.9h1.4v-3.9h1.4v3.2h1.4v2.2h1.4v0.2h1.4v-1.5h1.4v-1.7h1.4v0h1.4v4.3h1.4v-7.0h1.4v9.6h1.4v-0.5h1.4v-7.4h1.4v9.1h1.4v-1.5h1.4v-0.3h1.4v-3.6h1.4v1.6h1.4v3.4h1.4v2.3h1.4v-0.2h1.4v4.0h1.4v-8.3h1.4v1.1h1.4v2.1h1.4v5.1h1.4v0.7h1.4v1.6h1.4v-0.7h1.4v1.4h1.4v-1.4h1.4v1.8h1.4v1.6h1.4v-0.2h1.4v-3.1h1.4v-0.8h1.4v3.3h1.4v7.8h1.4v-5.6h1.4v-2.8h1.4v0.9h1.4v0.8h1.4v5.1h1.4v1.7h1.4v-5.6h1.4v2.8h1.4v1.3h1.4v-3.8h1.4v2.9h1.4v5.3h1.4v2.4h1.4v-2.1h1.4v-1.6h1.4v6.0h1.4v-1.0h1.4v4.3h1.4v0.5h1.4v-2.5h1.4v1.2h1.4v-0.3h1.4v7.3h1.4v-7.1h1.4v-0.8h1.4v-2.0h1.4v3.5h1.4v5.6h1.4v0.2h1.4v0.7h1.4v-6.8h1.4v12.9h1.4v-1.7h1.4v-6.3h1.4v7.0h1.4v-2.8h1.4v10.2h1.4v-6.1h1.4v-2.8h1.4v-1.8h1.4v6.8h1.4v-9.1h1.4v1.8h1.4v-3.7h1.4v2.0h1.4v-5.2h1.4v4.0h1.4v-4.8h1.4v2.9h1.4v-6.3h1.4v0.9h1.4v0.4h1.4v-3.7h1.4v-3.5h1.4v-4.0h1.4v2.3h1.4v-4.5h1.4v1.6h1.4v-0.9h1.4v0.2h1.4v1.9h1.4v-1.8h1.4v-1.2h1.4v-3.1h1.4v-0.9h1.4v-4.3h1.4v5.7h1.4v-5.9h1.4v1.3h1.4v-7.1h1.4v0h1.4v5.2h1.4v-4.0h1.4v2.3h1.4v1.5h1.4v-6.3h1.4v1.2h1.4v-3.5h1.4v1.4h1.4v-1.2h1.4v-2.3h1.4v0.4h1.4v0.7h1.4v-1.4h1.4v0.2h1.4v-3.0h1.4v-1.4h1.4v-3.3h1.4v4.1h1.4v-1.5h1.4v1.7h1.4v-4.0h1.4v0.9h1.4v-2.2h1.4v-2.6h1.4v-0.1h1.4v-8.3h1.4v9.2h1.4v-3.5h1.4v3.8h1.4v0.7h1.4v-4.8h1.4v0h1.4v1.6h1.4v-0.2h1.4v1.6h1.4v-5.6h1.4v2.1h1.4v5.0h1.4v-5.1h1.4v4.3h1.4v-3.9h1.4v-3.2h1.4v3.8h1.4v0.2h1.4v-4.7h1.4v8.3h1.4v-2.7h1.4v-0.4h1.4v-7.7h1.4v-1.2h1.4v2.6h1.4v1.8h1.4v2.5h1.4v1.2h1.4v-0.4h1.4v-3.8h1.4v7.6h1.4v-6.1h1.4v0.3h1.4v2.0h1.4v-11.4h1.4v6.0h1.4v11.3h1.4v-4.2h1.4v-0.1h1.4v-4.5h1.4v7.2h1.4v-0.5h1.4v1.5h1.4v-1.2h1.4v3.3h1.4v-2.0h1.4v1.5h1.4v6.8h1.4v3.9h1.4v-17.0h1.4v17.0h1.4v-1.7h1.4v3.4h1.4v-6.9h1.4v-0.1h1.4v3.8h1.4v3.7h1.4v1.6h1.4v-8.2h1.4v8.2h1.4v4.4h1.4v-5.0h1.4v4.4h1.4v-4.8h1.4v4.2h1.4v-2.8h1.4v1.8h1.4v-3.0h1.4v8.2h1.4v3.5h1.4v-13.2h1.4v8.9h1.4v-2.3h1.4v0.7h1.4v1.1h1.4v-0.3h1.4v-0.5h1.4v0.5h1.4v1.3h1.4v4.1h1.4v-4.4h1.4v-0.5h1.4v-3.7h1.4v-0.1h1.4v1.4h1.4v0.2h1.4v0.5h1.4v-2.5h1.4v1.5h1.4v-0.8h1.4v1.1h1.4v-0.7h1.4v1.7h1.4v0h1.4v-3.0h1.4v3.8h1.4v-1.7h1.4v2.9h1.4v-10.4h1.4v4.3h1.4v0.2h1.4v6.5h1.4v-2.8h1.4v0.8h1.4v-0.9h1.4v-1.1h1.4v0.6h1.4v1.3h1.4v-5.3h1.4v4.4h1.4v-0.5h1.4v2.2h1.4v-0.5h1.4v-1.9h1.4v1.8h1.4v-1.4h1.4v2.9h1.4v4.9h1.4v-8.4h1.4v11.2h1.4v-7.9h1.4v7.4h1.4v-3.4h1.4v4.6h1.4v-4.6h1.4v4.8h1.4v3.5h1.4v-6.0h1.4v4.8h1.4v1.3h1.4v-6.6h1.4v4.6h1.4v-0.6h1.4v-2.3h1.4v5.0h1.4v0.2h1.4v-0.3h1.4v-2.5h1.4v2.1h1.4v0.1h1.4v1.5h1.4v2.1h1.4v-4.9h1.4v1.4h1.4v6.2h1.4v-1.8h1.4v-4.7h1.4v7.1h1.4v1.4h1.4v0.5h1.4v-1.2h1.4v-3.7h1.4v1.1h1.4v3.0h1.4v0.9h1.4v-2.7h1.4v3.2h1.4v0.2h1.4v-4.4h1.4v2.9h1.4v7.5h1.4v-8.3h1.4v3.4h1.4v-2.8h1.4v2.3h1.4v1.2h1.4v-2.1h1.4v4.6h1.4v1.6h1.4v-1.0h1.4v-6.7h1.4v5.3h1.4v-0.4h1.4v1.3h1.4v-0.6h1.4v-2.0h1.4v5.5h1.4v-3.2h1.4v3.4h1.4v-0.9h1.4v0.3h1.4v2.4h1.4v1.7h1.4v-7.3h1.4v3.1h1.4v-5.3h1.4v5.6h1.4v5.2h1.4v-6.2h1.4v2.0h1.4v-0.2h1.4v1.1h1.4v3.2h1.4v0.4h1.4v-3.3h1.4v-0.6h1.4v3.2h1.4v2.8h1.4v-0.6h1.4v2.5h1.4v-1.0h1.4v-1.7h1.4v2.2h1.4v-3.6h1.4v6.9h1.4v-4.3h1.4v0.1h1.4v1.0h1.4v3.1h1.4v-2.2h1.4v-3.3h1.4v10.2h1.4v-5.6h1.4v-3.2h1.4v-0.2h1.4v5.1h1.4v-4.0h1.4v3.0h1.4v-2.3h1.4v3.5h1.4v1.8h1.4v-4.8h1.4v9.1h1.4v-6.6h1.4v3.3h1.4v4.3h1.4v-2.5h1.4v-4.8h1.4v-2.7h1.4v2.1h1.4v5.0h1.4v1.1h1.4v2.1h1.4v-8.3h1.4v7.0h1.4v-0.3h1.4v0.3h1.4v1.2h1.4v-3.0h1.4v2.6h1.4v2.3h1.4v1.5h1.4v-7.3h1.4v8.7h1.4v0.3h1.4v0.1h1.4v-1.1h1.4v-1.7h1.4v4.2h1.4v-0.8h1.4v-2.6h1.4v3.3h1.4v0.9h1.4v-2.3h1.4v0.2h1.4v-3.6h1.4v2.4h1.4v2.6h1.4v0.6h1.4v-3.6h1.4v7.2h1.4v-7.9h1.4v4.2h1.4v-2.2h1.4v4.0h1.4v-3.5h1.4v5.0h1.4v-2.9h1.4v2.1h1.4v-4.3h1.4v5.1h1.4v2.4h1.4v-1.9h1.4v2.3h1.4v-6.5h1.4v10.1h1.4v-4.4h1.4v-2.2h1.4v-2.0h1.4v10.1h1.4v-5.9h1.4v5.2h1.4v-8.3h1.4v4.2h1.4v6.8h1.4v-6.2h1.4v4.5h1.4v-4.3h1.4v0h1.4v3.4h1.4v-0.9h1.4v-1.8h1.4v5.2h1.4v-4.6h1.4v6.4h1.4v-1.3h1.4v-4.4h1.4v6.0h1.4v-2.4h1.4v7.7h1.4v-3.4h1.4v0.1h1.4v2.8h1.4v-9.1h1.4v2.0h1.4v1.1h1.4v-2.0h1.4v7.2h1.4v-0.4h1.4v6.1h1.4v-9.1h1.4v0.8h1.4v4.6h1.4v-0.6h1.4v0.7h1.4v-1.8h1.4v4.4h1.4v-0.3h1.4v-1.3h0.4V860.0Z" fill="#808080"/>
<path d="M950.9 466.6V858.0M1135.3 568.3V858.0" stroke="#808080" stroke-width="2.4" fill="none"/>
<path d="M1221.2 620.1V858.0M1277.7 652.2V858.0M1319.9 664.3V858.0M1353.7 686.0V858.0M1381.9 708.4V858.0M1426.6 732.7V858.0M1445.6 748.1V858.0M1462.4 739.7V858.0" stroke="#808080" stroke-width="2.1" fill="none"/>
<path d="M833.0 860.0V764.7h1.4v4.0h1.4v-3.2h1.4v-1.2h1.4v-2.9h1.4v3.4h1.4v2.1h1.4v-2.2h1.4v0.8h1.4v3.8h1.4v-0.3h1.4v0.6h1.4v-0.9h1.4v2.9h1.4v-5.9h1.4v-0.9h1.4v11.9h1.4v-4.3h1.4v-5.5h1.4v-1.9h1.4v11.4h1.4v-23.1h1.4v16.0h1.4v12.1h1.4v-9.9h1.4v-2.9h1.4v8.6h1.4v-3.7h1.4v10.5h1.4v-8.9h1.4v1.5h1.4v0.4h1.4v1.3h1.4v-0.5h1.4v-0.6h1.4v2.9h1.4v-3.6h1.4v0h1.4v3.8h1.4v-0.3h1.4v4.9h1.4v1.2h1.4v1.9h1.4v2.5h1.4v-8.9h1.4v1.4h1.4v4.8h1.4v0.8h1.4v3.1h1.4v-5.1h1.4v-0.4h1.4v6.2h1.4v-0.1h1.4v-4.1h1.4v3.6h1.4v-1.5h1.4v3.2h1.4v1.6h1.4v0.3h1.4v-1.2h1.4v1.4h1.4v5.5h1.4v-4.3h1.4v2.4h1.4v7.0h1.4v2.0h1.4v-0.1h1.4v-2.2h1.4v0.2h1.4v5.6h1.4v-5.9h1.4v6.2h1.4v5.1h1.4v1.0h1.4v-7.3h1.4v16.0h1.4v-6.8h1.4v-0.5h1.4v1.1h1.4v4.9h1.4v-1.2h1.4v-5.5h1.4v3.6h1.4v2.8h1.4v4.2h1.4v-4.6h1.4v-4.5h1.4v2.3h1.4v0h1.4v-2.3h1.4v0.5h1.4v-1.9h1.4v-7.9h1.4v-2.0h1.4v2.2h1.4v-6.1h1.4v3.4h1.4v-4.2h1.4v-3.0h1.4v-3.6h1.4v-0.4h1.4v-1.9h1.4v7.8h1.4v-5.8h1.4v0.2h1.4v-5.0h1.4v-1.3h1.4v-7.7h1.4v6.3h1.4v-3.4h1.4v-2.9h1.4v-3.1h1.4v-3.5h1.4v-0.5h1.4v5.5h1.4v-5.4h1.4v4.4h1.4v-9.6h1.4v5.3h1.4v1.7h1.4v-9.5h1.4v-0.1h1.4v3.7h1.4v-0.4h1.4v-0.7h1.4v-3.9h1.4v-9.8h1.4v12.2h1.4v-9.6h1.4v3.1h1.4v-6.5h1.4v6.4h1.4v-0.1h1.4v1.7h1.4v-6.0h1.4v3.6h1.4v4.7h1.4v-3.8h1.4v-2.4h1.4v-4.9h1.4v7.3h1.4v-1.6h1.4v-0.3h1.4v-5.5h1.4v1.1h1.4v-0.4h1.4v-0.7h1.4v1.3h1.4v-5.3h1.4v6.6h1.4v-4.6h1.4v-2.3h1.4v4.3h1.4v-3.1h1.4v-0.9h1.4v-1.4h1.4v-1.6h1.4v3.1h1.4v-2.8h1.4v1.9h1.4v1.7h1.4v3.8h1.4v-11.5h1.4v5.6h1.4v-6.0h1.4v10.9h1.4v-5.3h1.4v2.1h1.4v-2.1h1.4v-1.7h1.4v-0.9h1.4v6.2h1.4v-3.9h1.4v-1.7h1.4v3.9h1.4v4.4h1.4v0.2h1.4v-3.7h1.4v6.7h1.4v-3.7h1.4v3.2h1.4v-3.8h1.4v5.8h1.4v4.5h1.4v-6.8h1.4v-0.6h1.4v3.7h1.4v2.6h1.4v1.3h1.4v-0.2h1.4v2.1h1.4v0.1h1.4v-1.8h1.4v7.7h1.4v-2.7h1.4v6.4h1.4v-6.5h1.4v1.8h1.4v3.9h1.4v1.3h1.4v1.8h1.4v0.7h1.4v-0.7h1.4v-8.5h1.4v13.7h1.4v-5.3h1.4v-2.9h1.4v3.4h1.4v-3.3h1.4v7.2h1.4v-2.1h1.4v0.8h1.4v-1.9h1.4v3.5h1.4v-1.1h1.4v-3.6h1.4v1.8h1.4v1.4h1.4v-4.8h1.4v7.0h1.4v-4.9h1.4v2.5h1.4v0.1h1.4v-4.9h1.4v4.4h1.4v-4.9h1.4v5.0h1.4v-2.9h1.4v3.0h1.4v-3.6h1.4v-1.5h1.4v4.8h1.4v-7.2h1.4v3.7h1.4v1.1h1.4v-5.1h1.4v7.5h1.4v-2.0h1.4v-2.3h1.4v-5.2h1.4v3.3h1.4v4.5h1.4v-6.6h1.4v4.6h1.4v4.8h1.4v0.1h1.4v2.4h1.4v-2.0h1.4v-2.9h1.4v2.9h1.4v-8.6h1.4v7.4h1.4v2.3h1.4v-3.1h1.4v2.9h1.4v3.0h1.4v-3.7h1.4v4.6h1.4v-4.2h1.4v6.1h1.4v-1.4h1.4v-4.7h1.4v3.5h1.4v2.8h1.4v-4.7h1.4v3.7h1.4v8.5h1.4v-6.1h1.4v5.5h1.4v-13.3h1.4v4.3h1.4v4.7h1.4v-1.2h1.4v4.8h1.4v-9.6h1.4v6.1h1.4v0.4h1.4v3.0h1.4v-7.6h1.4v4.2h1.4v2.7h1.4v-1.2h1.4v-0.1h1.4v2.5h1.4v-1.6h1.4v-1.3h1.4v1.4h1.4v2.4h1.4v2.7h1.4v-1.7h1.4v-5.1h1.4v2.0h1.4v8.2h1.4v-5.6h1.4v2.3h1.4v-1.2h1.4v-4.2h1.4v3.3h1.4v-1.2h1.4v4.1h1.4v-0.7h1.4v-4.4h1.4v4.8h1.4v0.5h1.4v0.4h1.4v2.7h1.4v-0.3h1.4v3.0h1.4v-9.0h1.4v7.6h1.4v3.1h1.4v-9.1h1.4v6.3h1.4v-1.5h1.4v-3.7h1.4v8.9h1.4v-5.0h1.4v3.0h1.4v-0.3h1.4v0.5h1.4v-4.0h1.4v1.3h1.4v6.8h1.4v-1.6h1.4v5.0h1.4v-4.5h1.4v5.1h1.4v-7.5h1.4v-1.7h1.4v7.2h1.4v2.1h1.4v-0.6h1.4v4.3h1.4v-2.7h1.4v-2.3h1.4v-2.7h1.4v1.6h1.4v5.4h1.4v-4.5h1.4v3.5h1.4v3.3h1.4v1.5h1.4v0.5h1.4v-4.6h1.4v3.3h1.4v1.9h1.4v-12.0h1.4v8.1h1.4v0.4h1.4v1.4h1.4v-2.5h1.4v9.9h1.4v-6.4h1.4v2.5h1.4v-2.3h1.4v3.5h1.4v6.3h1.4v-6.5h1.4v5.1h1.4v-5.0h1.4v0.8h1.4v0.8h1.4v2.4h1.4v-5.6h1.4v-0.1h1.4v3.2h1.4v1.9h1.4v-3.5h1.4v1.8h1.4v1.1h1.4v1.5h1.4v-1.0h1.4v-6.2h1.4v7.5h1.4v2.1h1.4v-4.9h1.4v6.0h1.4v-3.0h1.4v1.1h1.4v-3.2h1.4v9.8h1.4v2.4h1.4v-6.7h1.4v-4.5h1.4v1.4h1.4v2.3h1.4v1.2h1.4v-1.2h1.4v-1.8h1.4v2.9h1.4v2.2h1.4v1.3h1.4v0.9h1.4v-3.9h1.4v5.7h1.4v-6.5h1.4v5.4h1.4v-4.0h1.4v-1.9h1.4v7.3h1.4v-1.4h1.4v5.7h1.4v-7.0h1.4v-11.1h1.4v11.3h1.4v7.4h1.4v-7.1h1.4v9.4h1.4v-5.2h1.4v-2.9h1.4v2.0h1.4v4.1h1.4v-2.0h1.4v-1.6h1.4v5.1h1.4v1.8h1.4v-4.3h1.4v1.0h1.4v4.5h1.4v-1.5h1.4v-1.3h1.4v1.6h1.4v4.4h1.4v-1.2h1.4v-3.5h1.4v-3.7h1.4v5.1h1.4v-2.2h1.4v1.9h1.4v5.5h1.4v-3.3h1.4v-2.7h1.4v5.2h1.4v-8.2h1.4v11.0h1.4v-4.7h1.4v2.2h1.4v-1.2h1.4v3.8h1.4v-5.7h1.4v-4.6h1.4v1.8h1.4v0.1h1.4v6.6h1.4v-3.9h1.4v-4.6h1.4v4.0h1.4v2.8h1.4v-5.4h1.4v7.9h1.4v-3.9h1.4v2.9h1.4v3.0h1.4v-0.4h1.4v0.4h1.4v0h1.4v-1.0h1.4v-3.8h1.4v2.3h1.4v2.5h0.4V860.0Z" fill="#EDB120"/>
<path d="M950.9 466.6V858.0M1135.3 568.3V858.0" stroke="#EDB120" stroke-width="2.4" stroke-dasharray="8 4.7" fill="none"/>
<path d="M1221.2 620.1V858.0M1277.7 652.2V858.0M1319.9 664.3V858.0M1353.7 686.0V858.0M1381.9 708.4V858.0M1426.6 732.7V858.0M1445.6 748.1V858.0M1462.4 739.7V858.0" stroke="#EDB120" stroke-width="2.1" stroke-dasharray="10 2.7" fill="none"/>
<path d="M1406.0 722.4V858.0" stroke="#EDB120" stroke-width="2.0" fill="none"/>
<path d="M1135.3 568.3v2.5" stroke="#1a1a1a" stroke-width="2.4"/>
<path d="M1319.9 664.3v3.6" stroke="#1a1a1a" stroke-width="2.4"/>
<path d="M1353.7 686.0v4.0" stroke="#1a1a1a" stroke-width="2.4"/>
<path d="M1426.6 732.2v5.0" stroke="#77AC30" stroke-width="2.4"/>
<path d="M1462.4 739.7v5.0" stroke="#1a1a1a" stroke-width="2.4"/>
<text x="826.8" y="476.8" font-size="26.01" text-anchor="end">0</text><text x="825.6" y="586.6" font-size="26.01" text-anchor="end">-20</text><text x="825.6" y="696.4" font-size="26.01" text-anchor="end">-40</text><text x="825.6" y="806.2" font-size="26.01" text-anchor="end">-60</text>
<text transform="translate(778.9 658.4) rotate(-90)" x="0" y="0" font-size="28.38" text-anchor="middle">magnitude (dB)</text>
<text transform="translate(757.2 477.2) scale(1.02 1)" font-size="38.5" stroke="#000" stroke-width="0.5">d</text><text transform="translate(781.2 477.2) scale(0.77 1)" font-size="38.5" stroke="#000" stroke-width="0.9">)</text>
<text x="1088.0" y="902.0" font-size="26.01" text-anchor="middle">10<tspan font-size="20.81" dy="-13.6">5</tspan></text><text x="1475.6" y="902.0" font-size="26.01" text-anchor="middle">10<tspan font-size="20.81" dy="-13.6">6</tspan></text>
<text x="1154.5" y="938.2" font-size="28.38" text-anchor="middle">frequency (Hz)</text>
<path d="M561.7 36.9H593.0" stroke="#000" stroke-width="1.5"/><path d="M561.7 66.1H593.0" stroke="#77AC30" stroke-width="1.6" stroke-dasharray="1.5 1.7"/><path d="M561.7 94.4H593.0" stroke="#808080" stroke-width="1.6" stroke-dasharray="6 2 2.5 2"/><path d="M561.7 123.5H593.0" stroke="#EDB120" stroke-width="1.6" stroke-dasharray="6.3 6"/><text x="594.8" y="45.9" font-size="22.75">d=1764</text><text x="594.8" y="74.3" font-size="22.75">d=8820</text><text x="594.8" y="103.4" font-size="22.75">d=44100</text><text x="594.8" y="131.6" font-size="22.75">d=220500</text>
<rect x="727" y="943.5" width="1.6" height="1.4" fill="#9a9a80"/>
<path d="M102.0 752.5h1.2v1.2h-1.2zM108.5 752.5h1.2v1.2h-1.2zM122.0 752.5h1.2v1.2h-1.2zM147.0 752.5h1.2v1.2h-1.2zM153.0 752.5h1.2v1.2h-1.2zM160.0 752.5h1.2v1.2h-1.2zM166.0 752.5h1.2v1.2h-1.2zM232.0 752.5h1.2v1.2h-1.2zM245.0 752.5h1.2v1.2h-1.2zM272.0 752.5h1.2v1.2h-1.2zM283.0 752.5h1.2v1.2h-1.2zM115.0 765.2h1.2v1.2h-1.2zM122.0 765.2h1.2v1.2h-1.2zM128.0 765.2h1.2v1.2h-1.2zM141.0 765.2h1.2v1.2h-1.2zM147.0 765.2h1.2v1.2h-1.2zM153.0 765.2h1.2v1.2h-1.2zM166.0 765.2h1.2v1.2h-1.2zM173.0 765.2h1.2v1.2h-1.2zM232.0 765.2h1.2v1.2h-1.2zM283.0 765.2h1.2v1.2h-1.2zM81.5 777.9h1.2v1.2h-1.2zM88.0 777.9h1.2v1.2h-1.2zM95.0 777.9h1.2v1.2h-1.2zM102.0 777.9h1.2v1.2h-1.2zM115.0 777.9h1.2v1.2h-1.2zM153.0 777.9h1.2v1.2h-1.2zM160.0 777.9h1.2v1.2h-1.2zM166.0 777.9h1.2v1.2h-1.2zM173.0 777.9h1.2v1.2h-1.2zM179.0 777.9h1.2v1.2h-1.2zM198.0 777.9h1.2v1.2h-1.2zM221.0 777.9h1.2v1.2h-1.2zM262.0 777.9h1.2v1.2h-1.2zM88.0 790.6h1.2v1.2h-1.2zM95.0 790.6h1.2v1.2h-1.2zM115.0 790.6h1.2v1.2h-1.2zM141.0 790.6h1.2v1.2h-1.2zM147.0 790.6h1.2v1.2h-1.2zM153.0 790.6h1.2v1.2h-1.2zM160.0 790.6h1.2v1.2h-1.2zM186.0 790.6h1.2v1.2h-1.2zM211.0 790.6h1.2v1.2h-1.2zM221.0 790.6h1.2v1.2h-1.2zM232.0 790.6h1.2v1.2h-1.2zM245.0 790.6h1.2v1.2h-1.2zM283.0 790.6h1.2v1.2h-1.2zM88.0 803.3h1.2v1.2h-1.2zM108.5 803.3h1.2v1.2h-1.2zM134.0 803.3h1.2v1.2h-1.2zM147.0 803.3h1.2v1.2h-1.2zM166.0 803.3h1.2v1.2h-1.2zM173.0 803.3h1.2v1.2h-1.2zM186.0 803.3h1.2v1.2h-1.2zM245.0 803.3h1.2v1.2h-1.2zM262.0 803.3h1.2v1.2h-1.2zM272.0 803.3h1.2v1.2h-1.2zM283.0 803.3h1.2v1.2h-1.2zM297.0 803.3h1.2v1.2h-1.2zM95.0 816.0h1.2v1.2h-1.2zM102.0 816.0h1.2v1.2h-1.2zM115.0 816.0h1.2v1.2h-1.2zM160.0 816.0h1.2v1.2h-1.2zM173.0 816.0h1.2v1.2h-1.2zM186.0 816.0h1.2v1.2h-1.2zM198.0 816.0h1.2v1.2h-1.2zM232.0 816.0h1.2v1.2h-1.2zM81.5 828.7h1.2v1.2h-1.2zM88.0 828.7h1.2v1.2h-1.2zM95.0 828.7h1.2v1.2h-1.2zM102.0 828.7h1.2v1.2h-1.2zM108.5 828.7h1.2v1.2h-1.2zM128.0 828.7h1.2v1.2h-1.2zM160.0 828.7h1.2v1.2h-1.2zM198.0 828.7h1.2v1.2h-1.2zM211.0 828.7h1.2v1.2h-1.2zM221.0 828.7h1.2v1.2h-1.2zM272.0 828.7h1.2v1.2h-1.2zM102.0 841.4h1.2v1.2h-1.2zM108.5 841.4h1.2v1.2h-1.2zM115.0 841.4h1.2v1.2h-1.2zM122.0 841.4h1.2v1.2h-1.2zM128.0 841.4h1.2v1.2h-1.2zM134.0 841.4h1.2v1.2h-1.2zM147.0 841.4h1.2v1.2h-1.2zM160.0 841.4h1.2v1.2h-1.2zM173.0 841.4h1.2v1.2h-1.2zM179.0 841.4h1.2v1.2h-1.2zM245.0 841.4h1.2v1.2h-1.2zM272.0 841.4h1.2v1.2h-1.2z" fill="#7d7f8a" opacity="0.8"/>
</svg></body></html>
